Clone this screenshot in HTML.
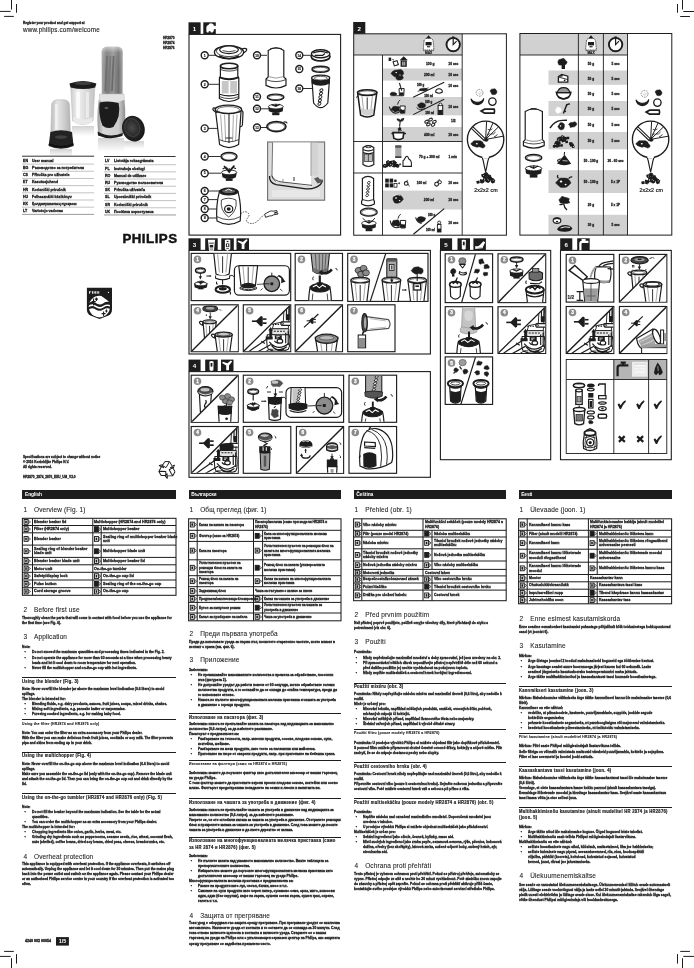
<!DOCTYPE html>
<html><head><meta charset="utf-8"><title>Philips HR2870 user manual</title>
<style>
html,body{margin:0;padding:0;background:#fff}
#p{filter:grayscale(1);position:relative;width:694px;height:968px;overflow:hidden;background:#fff;font-family:"Liberation Sans",sans-serif;color:#1d1d1b}
#p svg{position:absolute;left:0;top:0}
#p svg text{font-family:"Liberation Sans",sans-serif}
#p div{position:absolute;white-space:nowrap;transform-origin:0 0}
.b{font-size:3.7px;line-height:5.03px;font-weight:bold;white-space:normal!important;-webkit-text-stroke:.3px #1d1d1b}
.ll{font-size:4px!important}
.tc{font-size:4px;line-height:4.5px;font-weight:bold;-webkit-text-stroke:.3px #1d1d1b}
.h1{font-size:6.5px;line-height:8px;letter-spacing:.12px;color:#1d1d1b;-webkit-text-stroke:.08px #1d1d1b}
.h1 .n{display:inline-block;width:10.6px}
.h2{font-size:4.6px;line-height:6.4px;letter-spacing:.3px;font-weight:bold;white-space:normal!important;color:#1d1d1b;-webkit-text-stroke:.2px #1d1d1b}
.h3{font-size:3.8px;line-height:5px;letter-spacing:.25px;font-weight:bold;color:#1d1d1b;-webkit-text-stroke:.12px #1d1d1b}
.rl{height:0;border-top:.7px solid #1d1d1b}
.bar{height:8.5px;background:#1d1d1b}
.bar span{position:absolute;left:2.6px;top:1.6px;font-size:4.9px;line-height:5px;font-weight:bold;color:#fff;letter-spacing:-.1px}
.www{font-size:6.3px;line-height:8px;letter-spacing:.16px;-webkit-text-stroke:.12px #1d1d1b}
.ph{font-size:13.3px;line-height:15px;font-weight:bold;letter-spacing:.5px;color:#111;-webkit-text-stroke:.45px #111}
.pg{font-size:5.4px;line-height:8px;font-weight:bold;color:#fff;text-align:center}
.cm{font-size:5.3px;line-height:6px;text-align:center;letter-spacing:.1px;-webkit-text-stroke:.22px #1d1d1b}
</style></head>
<body><div id="p">
<svg width="694" height="968" viewBox="0 0 694 968">
<line x1="11.5" y1="0" x2="11.5" y2="9.5" stroke="#1d1d1b" stroke-width="1"/>
<line x1="16.5" y1="4" x2="16.5" y2="12.7" stroke="#1d1d1b" stroke-width="1"/>
<line x1="0" y1="11.4" x2="10.7" y2="11.4" stroke="#1d1d1b" stroke-width="1"/>
<line x1="4.1" y1="16.4" x2="13.8" y2="16.4" stroke="#1d1d1b" stroke-width="1"/>
<line x1="682.5" y1="0" x2="682.5" y2="9.5" stroke="#1d1d1b" stroke-width="1"/>
<line x1="677.5" y1="4" x2="677.5" y2="12.7" stroke="#1d1d1b" stroke-width="1"/>
<line x1="683.3" y1="11.5" x2="694" y2="11.5" stroke="#1d1d1b" stroke-width="1"/>
<line x1="680.2" y1="16.5" x2="689.9" y2="16.5" stroke="#1d1d1b" stroke-width="1"/>
<line x1="11.5" y1="958.2" x2="11.5" y2="968" stroke="#1d1d1b" stroke-width="1"/>
<line x1="16.5" y1="954.1" x2="16.5" y2="963.6" stroke="#1d1d1b" stroke-width="1"/>
<line x1="0" y1="956.4" x2="10.7" y2="956.4" stroke="#1d1d1b" stroke-width="1"/>
<line x1="4.1" y1="951.4" x2="13.8" y2="951.4" stroke="#1d1d1b" stroke-width="1"/>
<line x1="682.5" y1="958.2" x2="682.5" y2="968" stroke="#1d1d1b" stroke-width="1"/>
<line x1="677.5" y1="954.1" x2="677.5" y2="963.6" stroke="#1d1d1b" stroke-width="1"/>
<line x1="683.3" y1="956.4" x2="694" y2="956.4" stroke="#1d1d1b" stroke-width="1"/>
<line x1="680.2" y1="951.4" x2="689.9" y2="951.4" stroke="#1d1d1b" stroke-width="1"/>
<rect x="188.5" y="22.3" width="12.1" height="11.9" fill="#1d1d1b"/>
<text x="194.5" y="30.8" font-size="6.2" fill="#fff" font-weight="bold" text-anchor="middle">1</text>
<rect x="203.3" y="22.3" width="12.5" height="11.9" fill="#1d1d1b"/>
<rect x="353.2" y="22" width="12.1" height="11.9" fill="#1d1d1b"/>
<text x="359.2" y="30.5" font-size="6.2" fill="#fff" font-weight="bold" text-anchor="middle">2</text>
<rect x="188.5" y="238.3" width="12.1" height="11.9" fill="#1d1d1b"/>
<text x="194.5" y="246.8" font-size="6.2" fill="#fff" font-weight="bold" text-anchor="middle">3</text>
<rect x="205.2" y="238.3" width="12.5" height="11.9" fill="#1d1d1b"/>
<rect x="221.3" y="238.3" width="12.5" height="11.9" fill="#1d1d1b"/>
<rect x="236.5" y="238.3" width="12.5" height="11.9" fill="#1d1d1b"/>
<rect x="188.5" y="359.6" width="12.1" height="11.9" fill="#1d1d1b"/>
<text x="194.5" y="368.1" font-size="6.2" fill="#fff" font-weight="bold" text-anchor="middle">4</text>
<rect x="205.2" y="359.6" width="12.5" height="11.9" fill="#1d1d1b"/>
<rect x="221" y="359.6" width="12.5" height="11.9" fill="#1d1d1b"/>
<rect x="440" y="238.3" width="12.1" height="11.9" fill="#1d1d1b"/>
<text x="446" y="246.8" font-size="6.2" fill="#fff" font-weight="bold" text-anchor="middle">5</text>
<rect x="457.5" y="238.3" width="12.5" height="11.9" fill="#1d1d1b"/>
<rect x="473.4" y="238.3" width="12.5" height="11.9" fill="#1d1d1b"/>
<rect x="560.2" y="238.3" width="12.1" height="11.9" fill="#1d1d1b"/>
<text x="566.2" y="246.8" font-size="6.2" fill="#fff" font-weight="bold" text-anchor="middle">6</text>
<rect x="577.2" y="238.3" width="12.5" height="11.9" fill="#1d1d1b"/>
<rect x="189" y="34.4" width="151.6" height="200.7" fill="#fff" stroke="#1d1d1b" stroke-width="1.1"/>
<rect x="189" y="250.4" width="241.4" height="103.6" fill="#fff" stroke="#1d1d1b" stroke-width="1.1"/>
<rect x="189" y="371.6" width="241.4" height="105.7" fill="#fff" stroke="#1d1d1b" stroke-width="1.1"/>
<rect x="440.4" y="250.4" width="110.3" height="209.3" fill="#fff" stroke="#1d1d1b" stroke-width="1.1"/>
<rect x="560.5" y="250.4" width="110.8" height="209.3" fill="#fff" stroke="#1d1d1b" stroke-width="1.1"/>
<rect x="191.2" y="253.4" width="99.5" height="47.2" fill="#fff" stroke="#1d1d1b" stroke-width="1.15"/>
<rect x="295.2" y="253.4" width="47.3" height="47.2" fill="#fff" stroke="#1d1d1b" stroke-width="1.15"/>
<rect x="347.7" y="253.4" width="80.3" height="48" fill="#fff" stroke="#1d1d1b" stroke-width="1.15"/>
<rect x="191.2" y="304.8" width="47" height="46.9" fill="#fff" stroke="#1d1d1b" stroke-width="1.15"/>
<rect x="243.3" y="304.8" width="47.4" height="46.9" fill="#fff" stroke="#1d1d1b" stroke-width="1.15"/>
<rect x="295.2" y="304.8" width="47.3" height="46.9" fill="#fff" stroke="#1d1d1b" stroke-width="1.15"/>
<rect x="347.7" y="304.8" width="47.3" height="46.9" fill="#fff" stroke="#1d1d1b" stroke-width="1.15"/>
<rect x="191.2" y="375.2" width="47" height="47.1" fill="#fff" stroke="#1d1d1b" stroke-width="1.15"/>
<rect x="243.3" y="375.2" width="100.3" height="47.1" fill="#fff" stroke="#1d1d1b" stroke-width="1.15"/>
<rect x="349" y="375.2" width="47.6" height="47.1" fill="#fff" stroke="#1d1d1b" stroke-width="1.15"/>
<rect x="191.2" y="426.5" width="47" height="46.8" fill="#fff" stroke="#1d1d1b" stroke-width="1.15"/>
<rect x="243.3" y="426.5" width="47.5" height="46.8" fill="#fff" stroke="#1d1d1b" stroke-width="1.15"/>
<rect x="296.4" y="426.5" width="47.2" height="46.8" fill="#fff" stroke="#1d1d1b" stroke-width="1.15"/>
<rect x="349" y="426.5" width="47.6" height="46.8" fill="#fff" stroke="#1d1d1b" stroke-width="1.15"/>
<rect x="445.2" y="253.8" width="47.4" height="48.8" fill="#fff" stroke="#1d1d1b" stroke-width="1.15"/>
<rect x="498" y="253.8" width="47.7" height="48.8" fill="#fff" stroke="#1d1d1b" stroke-width="1.15"/>
<rect x="445.2" y="306.7" width="47.4" height="46.7" fill="#fff" stroke="#1d1d1b" stroke-width="1.15"/>
<rect x="498" y="306.7" width="47.7" height="46.7" fill="#fff" stroke="#1d1d1b" stroke-width="1.15"/>
<rect x="445.2" y="356.9" width="47.4" height="47.5" fill="#fff" stroke="#1d1d1b" stroke-width="1.15"/>
<rect x="566.2" y="254.4" width="47.6" height="47.7" fill="#fff" stroke="#1d1d1b" stroke-width="1.15"/>
<rect x="619.4" y="254.4" width="47.4" height="47.7" fill="#fff" stroke="#1d1d1b" stroke-width="1.15"/>
<rect x="566.2" y="306.5" width="47.6" height="47" fill="#fff" stroke="#1d1d1b" stroke-width="1.15"/>
<rect x="619.4" y="306.5" width="47.4" height="47" fill="#fff" stroke="#1d1d1b" stroke-width="1.15"/>
<rect x="613.8" y="359.5" width="53" height="20" fill="#b4b5b7"/>
<rect x="632" y="361.7" width="15.6" height="15" fill="#ececec"/>
<rect x="566.2" y="359.5" width="100.6" height="94" fill="none" stroke="#1d1d1b" stroke-width="0.9"/>
<line x1="613.8" y1="359.5" x2="613.8" y2="453.5" stroke="#1d1d1b" stroke-width="0.9"/>
<line x1="648.6" y1="359.5" x2="648.6" y2="453.5" stroke="#1d1d1b" stroke-width="0.9"/>
<line x1="566.2" y1="379.5" x2="666.8" y2="379.5" stroke="#1d1d1b" stroke-width="0.9"/>
<rect x="353.7" y="33.8" width="108.5" height="21.2" fill="#d0d1d3"/>
<rect x="382.5" y="68.5" width="79.7" height="12.1" fill="#d0d1d3"/>
<rect x="382.5" y="97" width="79.7" height="18.4" fill="#d0d1d3"/>
<rect x="382.5" y="127" width="79.7" height="14.5" fill="#d0d1d3"/>
<rect x="382.5" y="190.6" width="79.7" height="18.9" fill="#d0d1d3"/>
<rect x="353.7" y="33.8" width="152.7" height="201.4" fill="none" stroke="#1d1d1b" stroke-width="1"/>
<line x1="353.7" y1="55" x2="462.2" y2="55" stroke="#1d1d1b" stroke-width="0.9"/>
<line x1="353.7" y1="141.5" x2="462.2" y2="141.5" stroke="#1d1d1b" stroke-width="0.9"/>
<line x1="353.7" y1="173" x2="462.2" y2="173" stroke="#1d1d1b" stroke-width="0.9"/>
<line x1="382.5" y1="55" x2="382.5" y2="235.2" stroke="#1d1d1b" stroke-width="0.9"/>
<line x1="462.2" y1="33.8" x2="462.2" y2="235.2" stroke="#1d1d1b" stroke-width="0.9"/>
<rect x="520" y="33.5" width="107.5" height="21.5" fill="#d0d1d3"/>
<rect x="548.5" y="70.5" width="79" height="14.3" fill="#d0d1d3"/>
<rect x="548.5" y="101" width="79" height="15" fill="#d0d1d3"/>
<rect x="548.5" y="132" width="79" height="17.3" fill="#d0d1d3"/>
<rect x="548.5" y="170.2" width="79" height="22.8" fill="#d0d1d3"/>
<rect x="548.5" y="214.8" width="79" height="20.3" fill="#d0d1d3"/>
<rect x="519.9" y="33.5" width="151.9" height="201.6" fill="none" stroke="#1d1d1b" stroke-width="1"/>
<line x1="519.9" y1="55" x2="627.5" y2="55" stroke="#1d1d1b" stroke-width="0.9"/>
<line x1="578.4" y1="33.5" x2="578.4" y2="235.1" stroke="#1d1d1b" stroke-width="0.9"/>
<line x1="603.4" y1="33.5" x2="603.4" y2="235.1" stroke="#1d1d1b" stroke-width="0.9"/>
<line x1="627.5" y1="33.5" x2="627.5" y2="235.1" stroke="#1d1d1b" stroke-width="0.9"/>
<defs>
<filter id="bl" x="-10%" y="-10%" width="120%" height="120%"><feGaussianBlur stdDeviation="0.45"/></filter>
<filter id="bl2" x="-10%" y="-10%" width="120%" height="120%"><feGaussianBlur stdDeviation="0.9"/></filter>
<linearGradient id="gt" x1="0" x2="1" y1="0" y2="0"><stop offset="0" stop-color="#a9a9a9"/><stop offset=".25" stop-color="#7b7b7b"/><stop offset=".55" stop-color="#959595"/><stop offset=".8" stop-color="#707070"/><stop offset="1" stop-color="#a5a5a5"/></linearGradient>
<linearGradient id="gtv" x1="0" x2="0" y1="0" y2="1"><stop offset="0" stop-color="#fff" stop-opacity=".55"/><stop offset=".25" stop-color="#fff" stop-opacity=".1"/><stop offset="1" stop-color="#fff" stop-opacity="0"/></linearGradient>
<linearGradient id="gs" x1="0" x2="1" y1="0" y2="0"><stop offset="0" stop-color="#9a9a9a"/><stop offset=".2" stop-color="#d8d8d8"/><stop offset=".75" stop-color="#cfcfcf"/><stop offset="1" stop-color="#8e8e8e"/></linearGradient>
<linearGradient id="gb" x1="0" x2="1" y1="0" y2="0"><stop offset="0" stop-color="#cfcfcf"/><stop offset=".3" stop-color="#f1f1f1"/><stop offset=".6" stop-color="#dcdcdc"/><stop offset="1" stop-color="#c4c4c4"/></linearGradient>
<linearGradient id="gm" x1="0" x2="1" y1="0" y2="0"><stop offset="0" stop-color="#bdbdbd"/><stop offset=".35" stop-color="#e4e4e4"/><stop offset=".7" stop-color="#cdcdcd"/><stop offset="1" stop-color="#b2b2b2"/></linearGradient>
<linearGradient id="gr" x1="0" x2="0" y1="0" y2="1"><stop offset="0" stop-color="#d2d2d2"/><stop offset="1" stop-color="#fff"/></linearGradient>
<radialGradient id="gl" cx=".45" cy=".45" r=".6"><stop offset="0" stop-color="#4a4a4a"/><stop offset=".6" stop-color="#262626"/><stop offset="1" stop-color="#141414"/></radialGradient>
</defs>
<g filter="url(#bl)">
<rect x="50" y="149" width="22" height="8" fill="url(#gr)"/>
<rect x="98" y="138" width="26" height="14" fill="url(#gr)"/>
<rect x="72" y="126" width="22" height="10" fill="url(#gr)"/>
<rect x="124" y="141" width="20" height="8" fill="url(#gr)"/>
<path d="M70.8 87 L72.6 121 Q83 128 93 121 L94.8 87 Z" fill="url(#gb)" stroke="#bdbdbd" stroke-width="0.66"/>
<rect x="76" y="92" width="4" height="26" fill="#fff" opacity=".7"/>
<rect x="86" y="92" width="3" height="26" fill="#fff" opacity=".5"/>
<path d="M72.8 117 q10 5 20 0 l-0.4 5 q-9.6 5 -19.2 0 Z" fill="#e9e9e9"/>
<path d="M69.4 83.6 Q83 78.6 96.4 83.6 L95.2 87.6 Q83 90.6 70.6 87.6 Z" fill="#1e1e1e"/>
<ellipse cx="83" cy="83.2" rx="8.6" ry="1.8" fill="#3c3c3c"/>
<path d="M101.6 52 Q101.6 47 107 46.8 L117.4 46.8 Q122.8 47 122.8 52 L122.6 94 L101.8 94 Z" fill="url(#gt)"/>
<path d="M101.6 52 Q101.6 47 107 46.8 L117.4 46.8 Q122.8 47 122.8 52 L122.6 70 L101.8 70 Z" fill="url(#gtv)"/>
<line x1="107" y1="56" x2="105.4" y2="91" stroke="#6e6e6e" stroke-width="1.72"/>
<line x1="110.4" y1="56" x2="108.6" y2="91" stroke="#787878" stroke-width="1.72"/>
<line x1="113.6" y1="56" x2="112" y2="91" stroke="#6a6a6a" stroke-width="1.72"/>
<line x1="116.8" y1="56" x2="115.6" y2="91" stroke="#808080" stroke-width="1.72"/>
<path d="M99.6 94 L124 94 L124.4 101 Q112 105 99.2 101 Z" fill="#e3e3e3" stroke="#bbb" stroke-width="0.53"/>
<path d="M98.6 100 Q96.4 118 98.2 133 Q110 139 123.4 133.6 Q126.6 118 124.4 100 Q112 104.6 98.6 100 Z" fill="url(#gs)"/>
<path d="M99.6 102.6 Q108 100 118.6 103 Q121.4 116 113.4 127 Q107 129.4 102.4 125.4 Q98 114 99.6 102.6 Z" fill="#1b1b1b"/>
<ellipse cx="106.4" cy="108" rx="2" ry="0.8" fill="#777"/>
<path d="M97.6 131.6 Q110 138.6 123 133 L122.4 136 Q110 140.6 98 135.4 Z" fill="#1a1a1a"/>
<ellipse cx="133.4" cy="128.6" rx="11.2" ry="13" fill="url(#gl)" transform="rotate(-18 133.4 128.6)"/>
<ellipse cx="132.2" cy="127.6" rx="7.4" ry="9" fill="none" stroke="#3e3e3e" stroke-width="1.19" transform="rotate(-18 132.2 127.6)"/>
<path d="M51.6 106 Q51.6 100 57 99.8 L64 99.8 Q69.6 100 69.6 106 L70.4 133 L50.8 133 Z" fill="url(#gm)" stroke="#b5b5b5" stroke-width="0.53"/>
<rect x="55" y="104" width="2.6" height="26" fill="#fff" opacity=".6"/>
<path d="M50.4 132 Q61 128.6 72 132 L73.6 146 Q61 151.6 48.6 146 Z" fill="#222"/>
<ellipse cx="61" cy="137" rx="6" ry="1.8" fill="#3f3f3f"/>
<path d="M48.8 144 q12.4 5.4 24.6 0" fill="none" stroke="#101010" stroke-width="1.58"/>
</g>
<path d="M86.9 287.8 L112 287.8 L112 309.4 Q112 313.4 108.6 315.6 L99.5 319 L90.4 315.6 Q86.9 313.4 86.9 309.4 Z" fill="#1d1d1b"/>
<clipPath id="sh"><path d="M88 295 L111 295 L111 309.4 Q111 312.8 108 314.8 L99.5 317.9 L91 314.8 Q88 312.8 88 309.4 Z"/></clipPath>
<g clip-path="url(#sh)">
<ellipse cx="99.4" cy="306.6" rx="10.6" ry="10.9" fill="#fff"/>
<path d="M88 303.6 q3.6 -3.4 7.6 -0.6 q4 2.8 7.8 0.2 q3.6 -2.6 7.6 -0.4 l0 2.6 q-4 -2.2 -7.6 0.4 q-3.8 2.6 -7.8 -0.2 q-4 -2.8 -7.6 0.6 Z" fill="#1d1d1b"/>
<path d="M88 307.8 q3.6 -3.4 7.6 -0.6 q4 2.8 7.8 0.2 q3.6 -2.6 7.6 -0.4 l0 2.2 q-4 -2.2 -7.6 0.4 q-3.8 2.6 -7.8 -0.2 q-4 -2.8 -7.6 0.6 Z" fill="#1d1d1b"/>
<path d="M100 295 L111 295 L111 303 Z" fill="#1d1d1b"/>
<path d="M93.6 298.6 l0 7 M91.6 301.6 l4.2 0 M96.4 297.4 l0 3.6 M95 299.2 l3 0" fill="none" stroke="#1d1d1b" stroke-width="1.19"/>
<path d="M103.6 311.4 l0 4.6 M101.6 313.6 l4 0 M106.4 309.6 l0 3 M105.2 311 l2.4 0" fill="none" stroke="#1d1d1b" stroke-width="1.06"/>
</g>
<rect x="89" y="291.2" width="0.9" height="2.5" fill="#fff"/>
<rect x="92.1" y="291.2" width="0.9" height="2.5" fill="#fff"/>
<rect x="93.65" y="291.2" width="0.9" height="2.5" fill="#fff"/>
<rect x="95.2" y="291.2" width="0.9" height="2.5" fill="#fff"/>
<rect x="96.75" y="291.2" width="0.9" height="2.5" fill="#fff"/>
<rect x="98.3" y="291.2" width="0.9" height="2.5" fill="#fff"/>
<rect x="90.4" y="291.2" width="0.8" height="1.2" fill="#fff"/>
<ellipse cx="108.4" cy="292.4" rx="0.6" ry="0.6" fill="#fff"/>
<g transform="translate(167 469.6)">
<path d="M-2.2 -8 L2.4 -8 L5.4 -3.2 L3.4 -2 L6.4 -1.6 L7.4 -4.6 L5.6 -3.6 M-2.2 -8 L-4.6 -4 L-1 -2 L1.2 -5.6 L2.4 -8" fill="none" stroke="#1d1d1b" stroke-width="0.99" transform="rotate(0)" stroke-linejoin="round"/>
<path d="M-2.2 -8 L2.4 -8 L5.4 -3.2 L3.4 -2 L6.4 -1.6 L7.4 -4.6 L5.6 -3.6 M-2.2 -8 L-4.6 -4 L-1 -2 L1.2 -5.6 L2.4 -8" fill="none" stroke="#1d1d1b" stroke-width="0.99" transform="rotate(120)" stroke-linejoin="round"/>
<path d="M-2.2 -8 L2.4 -8 L5.4 -3.2 L3.4 -2 L6.4 -1.6 L7.4 -4.6 L5.6 -3.6 M-2.2 -8 L-4.6 -4 L-1 -2 L1.2 -5.6 L2.4 -8" fill="none" stroke="#1d1d1b" stroke-width="0.99" transform="rotate(240)" stroke-linejoin="round"/>
</g>
<path d="M206.4 29.4 q-0.6 -3.6 2 -4.4 q0.6 -2 3.4 -1.6 q2.2 0.2 2 2.4 l3 0.2 l0 3 l-3 0.2 q0.6 2.6 -1.4 3.4 l-1.6 0 q0.2 -1.6 -1.2 -1.6 q-1.4 0 -1 1.6 l-1.6 0 q-1 -1.2 -0.6 -3.2 Z" fill="#fff"/>
<line x1="208" y1="55.3" x2="216" y2="55.3" stroke="#1d1d1b" stroke-width="0.92"/>
<ellipse cx="204.7" cy="55.3" rx="3.5" ry="3.5" fill="#fff" stroke="#1d1d1b" stroke-width="1.39"/>
<text x="204.7" y="56.5" font-size="3.5" fill="#1d1d1b" font-weight="bold" text-anchor="middle" stroke="#1d1d1b" stroke-width=".15">1</text>
<line x1="208" y1="84.3" x2="221" y2="84.3" stroke="#1d1d1b" stroke-width="0.92"/>
<ellipse cx="204.7" cy="84.3" rx="3.5" ry="3.5" fill="#fff" stroke="#1d1d1b" stroke-width="1.39"/>
<text x="204.7" y="85.5" font-size="3.5" fill="#1d1d1b" font-weight="bold" text-anchor="middle" stroke="#1d1d1b" stroke-width=".15">2</text>
<line x1="208" y1="128.4" x2="218" y2="128.4" stroke="#1d1d1b" stroke-width="0.92"/>
<ellipse cx="204.7" cy="128.4" rx="3.5" ry="3.5" fill="#fff" stroke="#1d1d1b" stroke-width="1.39"/>
<text x="204.7" y="129.6" font-size="3.5" fill="#1d1d1b" font-weight="bold" text-anchor="middle" stroke="#1d1d1b" stroke-width=".15">3</text>
<line x1="208" y1="156.5" x2="220.5" y2="156.5" stroke="#1d1d1b" stroke-width="0.92"/>
<ellipse cx="204.7" cy="156.5" rx="3.5" ry="3.5" fill="#fff" stroke="#1d1d1b" stroke-width="1.39"/>
<text x="204.7" y="157.7" font-size="3.5" fill="#1d1d1b" font-weight="bold" text-anchor="middle" stroke="#1d1d1b" stroke-width=".15">4</text>
<line x1="208" y1="173.2" x2="221" y2="173.2" stroke="#1d1d1b" stroke-width="0.92"/>
<ellipse cx="204.7" cy="173.2" rx="3.5" ry="3.5" fill="#fff" stroke="#1d1d1b" stroke-width="1.39"/>
<text x="204.7" y="174.4" font-size="3.5" fill="#1d1d1b" font-weight="bold" text-anchor="middle" stroke="#1d1d1b" stroke-width=".15">5</text>
<line x1="208" y1="191" x2="222" y2="191" stroke="#1d1d1b" stroke-width="0.92"/>
<ellipse cx="204.7" cy="191" rx="3.5" ry="3.5" fill="#fff" stroke="#1d1d1b" stroke-width="1.39"/>
<text x="204.7" y="192.2" font-size="3.5" fill="#1d1d1b" font-weight="bold" text-anchor="middle" stroke="#1d1d1b" stroke-width=".15">6</text>
<line x1="208" y1="199.6" x2="219" y2="199.6" stroke="#1d1d1b" stroke-width="0.92"/>
<ellipse cx="204.7" cy="199.6" rx="3.5" ry="3.5" fill="#fff" stroke="#1d1d1b" stroke-width="1.39"/>
<text x="204.7" y="200.8" font-size="3.5" fill="#1d1d1b" font-weight="bold" text-anchor="middle" stroke="#1d1d1b" stroke-width=".15">7</text>
<line x1="208" y1="209" x2="223" y2="209" stroke="#1d1d1b" stroke-width="0.92"/>
<ellipse cx="204.7" cy="209" rx="3.5" ry="3.5" fill="#fff" stroke="#1d1d1b" stroke-width="1.39"/>
<text x="204.7" y="210.2" font-size="3.5" fill="#1d1d1b" font-weight="bold" text-anchor="middle" stroke="#1d1d1b" stroke-width=".15">8</text>
<line x1="208" y1="218" x2="218" y2="218" stroke="#1d1d1b" stroke-width="0.92"/>
<ellipse cx="204.7" cy="218" rx="3.5" ry="3.5" fill="#fff" stroke="#1d1d1b" stroke-width="1.39"/>
<text x="204.7" y="219.2" font-size="3.5" fill="#1d1d1b" font-weight="bold" text-anchor="middle" stroke="#1d1d1b" stroke-width=".15">9</text>
<line x1="260" y1="55.3" x2="267" y2="55.3" stroke="#1d1d1b" stroke-width="0.92"/>
<ellipse cx="257" cy="55.3" rx="3.5" ry="3.5" fill="#fff" stroke="#1d1d1b" stroke-width="1.39"/>
<text x="257" y="56.5" font-size="3.1" fill="#1d1d1b" font-weight="bold" text-anchor="middle" stroke="#1d1d1b" stroke-width=".15">10</text>
<ellipse cx="257" cy="96.8" rx="3.5" ry="3.5" fill="#fff" stroke="#1d1d1b" stroke-width="1.39"/>
<text x="257" y="98" font-size="3.1" fill="#1d1d1b" font-weight="bold" text-anchor="middle" stroke="#1d1d1b" stroke-width=".15">11</text>
<line x1="260" y1="108.8" x2="270" y2="108.8" stroke="#1d1d1b" stroke-width="0.92"/>
<ellipse cx="257" cy="108.8" rx="3.5" ry="3.5" fill="#fff" stroke="#1d1d1b" stroke-width="1.39"/>
<text x="257" y="110" font-size="3.1" fill="#1d1d1b" font-weight="bold" text-anchor="middle" stroke="#1d1d1b" stroke-width=".15">12</text>
<line x1="260" y1="127.5" x2="269" y2="127.5" stroke="#1d1d1b" stroke-width="0.92"/>
<ellipse cx="257" cy="127.5" rx="3.5" ry="3.5" fill="#fff" stroke="#1d1d1b" stroke-width="1.39"/>
<text x="257" y="128.7" font-size="3.1" fill="#1d1d1b" font-weight="bold" text-anchor="middle" stroke="#1d1d1b" stroke-width=".15">13</text>
<line x1="302.5" y1="55.3" x2="311" y2="55.3" stroke="#1d1d1b" stroke-width="0.92"/>
<ellipse cx="299.3" cy="55.3" rx="3.5" ry="3.5" fill="#fff" stroke="#1d1d1b" stroke-width="1.39"/>
<text x="299.3" y="56.5" font-size="3.1" fill="#1d1d1b" font-weight="bold" text-anchor="middle" stroke="#1d1d1b" stroke-width=".15">14</text>
<ellipse cx="299.3" cy="69" rx="3.5" ry="3.5" fill="#fff" stroke="#1d1d1b" stroke-width="1.39"/>
<text x="299.3" y="70.2" font-size="3.1" fill="#1d1d1b" font-weight="bold" text-anchor="middle" stroke="#1d1d1b" stroke-width=".15">15</text>
<line x1="302.5" y1="88.5" x2="312" y2="88.5" stroke="#1d1d1b" stroke-width="0.92"/>
<ellipse cx="299.3" cy="88.5" rx="3.5" ry="3.5" fill="#fff" stroke="#1d1d1b" stroke-width="1.39"/>
<text x="299.3" y="89.7" font-size="3.1" fill="#1d1d1b" font-weight="bold" text-anchor="middle" stroke="#1d1d1b" stroke-width=".15">16</text>
<path d="M241 49.6 q4 -2.2 5.6 -0.6 q0.6 1.8 -2.4 3.6 Z" fill="#fff" stroke="#1d1d1b" stroke-width="1.19"/>
<ellipse cx="229" cy="52.2" rx="14.6" ry="6.6" fill="#fff" stroke="#1d1d1b" stroke-width="1.32"/>
<ellipse cx="229" cy="51.2" rx="12.6" ry="5.4" fill="none" stroke="#1d1d1b" stroke-width="0.79"/>
<ellipse cx="229" cy="49.8" rx="9.4" ry="3.8" fill="#fff" stroke="#1d1d1b" stroke-width="1.19"/>
<path d="M222.5 50.6 q6.5 2.4 13 0" fill="none" stroke="#1d1d1b" stroke-width="0.79"/>
<path d="M219 56 q10 5 20 0" fill="none" stroke="#1d1d1b" stroke-width="1.72"/>
<path d="M220.4 66 L220.4 76 L219.4 78 L219.4 98.5 Q229 104.5 238.8 98.5 L238.8 78 L237.8 76 L237.8 66 Z" fill="#fff" stroke="#1d1d1b" stroke-width="1.19"/>
<rect x="221.8" y="81" width="6.8" height="12.4" fill="#c6c7c9"/>
<rect x="230.2" y="81" width="6.8" height="12.4" fill="#c6c7c9"/>
<ellipse cx="229.1" cy="66" rx="8.7" ry="2.8" fill="#fff" stroke="#1d1d1b" stroke-width="1.58"/>
<path d="M220.4 69.5 q8.7 3.2 17.4 0" fill="none" stroke="#1d1d1b" stroke-width="0.79"/>
<path d="M219.6 77.4 q9.5 3.6 19 0" fill="none" stroke="#1d1d1b" stroke-width="1.98"/>
<path d="M219.6 94.2 q9.5 3.4 19 0" fill="none" stroke="#1d1d1b" stroke-width="1.19"/>
<path d="M219.4 96.6 q9.7 4 19.4 0" fill="none" stroke="#1d1d1b" stroke-width="0.79"/>
<path d="M240.6 110 q2.6 0.4 2.4 3 l-0.6 12 q-0.4 2 -2.6 1.6" fill="none" stroke="#1d1d1b" stroke-width="1.19"/>
<path d="M215.4 109.6 L219.6 144.5 Q229 150.6 238.6 144.5 L241.2 109.6 Z" fill="#fff" stroke="#1d1d1b" stroke-width="1.19"/>
<line x1="220.6" y1="114.6" x2="222.4" y2="141" stroke="#777" stroke-width="0.66"/>
<line x1="224.6" y1="114.6" x2="225.6" y2="141" stroke="#777" stroke-width="0.66"/>
<line x1="233.4" y1="114.6" x2="232.6" y2="141" stroke="#777" stroke-width="0.66"/>
<line x1="237" y1="114.6" x2="235.6" y2="141" stroke="#777" stroke-width="0.66"/>
<line x1="229" y1="113" x2="229" y2="143" stroke="#1d1d1b" stroke-width="1.06"/>
<line x1="225.5" y1="138" x2="232.5" y2="138" stroke="#1d1d1b" stroke-width="0.92"/>
<path d="M219.2 139.6 q9.8 4.6 19.6 0" fill="none" stroke="#1d1d1b" stroke-width="0.79"/>
<path d="M216.4 108.6 q-3.4 -1.6 -3.6 0.6 q0.4 2 4 3.2 Z" fill="#fff" stroke="#1d1d1b" stroke-width="1.19"/>
<ellipse cx="228.4" cy="109.4" rx="13.2" ry="4.3" fill="#fff" stroke="#1d1d1b" stroke-width="1.32"/>
<ellipse cx="228.4" cy="109.9" rx="11.2" ry="3.3" fill="none" stroke="#1d1d1b" stroke-width="0.66"/>
<ellipse cx="229" cy="156.6" rx="8" ry="4.2" fill="#fff" stroke="#1d1d1b" stroke-width="1.45"/>
<ellipse cx="229" cy="156.8" rx="6.7" ry="3.2" fill="none" stroke="#1d1d1b" stroke-width="0.59"/>
<path d="M221.6 172.4 q7.6 -3.8 15.2 0 l-0.9 4.8 q-6.7 3.8 -13.4 0 Z" fill="#1d1d1b"/>
<ellipse cx="229.2" cy="172.4" rx="7.6" ry="2.4" fill="#fff" stroke="#1d1d1b" stroke-width="0.92"/>
<path d="M224 166 L229.2 172 L234.4 165.4 M226.4 167.6 L229.2 172 L232.2 167.8" fill="none" stroke="#1d1d1b" stroke-width="1.58"/>
<path d="M222.6 169 l4 -2 M236 168.8 l-3.8 -1.8 M229.2 172 l0 -4" fill="none" stroke="#1d1d1b" stroke-width="1.06"/>
<rect x="225.8" y="178.8" width="6.8" height="2.1" fill="#1d1d1b"/>
<path d="M219.4 191.6 Q215.6 206 217 221 Q228.6 227.6 240.2 221 Q241.8 206 238 191.6 Z" fill="#fff" stroke="#1d1d1b" stroke-width="1.19"/>
<ellipse cx="228.7" cy="191.6" rx="9.3" ry="3.4" fill="#1d1d1b" stroke="#1d1d1b" stroke-width="1.19"/>
<ellipse cx="228.7" cy="191.2" rx="6.4" ry="1.9" fill="#666"/>
<path d="M225.4 190.6 l3.2 -1.4 l3.4 1.4" fill="none" stroke="#fff" stroke-width="0.92"/>
<path d="M221.4 200 Q228.6 196.4 236 200 Q237.6 211 228.7 217 Q219.8 211 221.4 200 Z" fill="#fff" stroke="#1d1d1b" stroke-width="0.79"/>
<ellipse cx="228.7" cy="209" rx="4.1" ry="3.6" fill="#fff" stroke="#1d1d1b" stroke-width="1.19"/>
<ellipse cx="228.7" cy="209" rx="2" ry="1.8" fill="#1d1d1b"/>
<path d="M216.8 216.6 q11.8 6.2 23.6 0" fill="none" stroke="#1d1d1b" stroke-width="0.79"/>
<path d="M240.4 214 q4 -3.6 7 -1.6 q3 2.4 0.4 5.4 q-3.4 3.6 1.6 5.4 q4.6 1.2 8.4 -2.4 l6 -6" fill="none" stroke="#1d1d1b" stroke-width="0.73" stroke-dasharray="1.6 1.1"/>
<path d="M264.6 214.2 l4.6 -2.6 q2.4 -1.2 4 -0.4 l3.6 -0.6 l0.4 1.4 l-3 1 l3.4 -0.2 l0.2 1.3 l-4.4 0.8 q-1.4 1.2 -3.6 1 l-4.2 1.4 Z" fill="#fff" stroke="#1d1d1b" stroke-width="0.92"/>
<path d="M268.2 50.4 L268.2 77 L266 79 L266 85.4 Q276 90.6 286 85.4 L286 79 L283.8 77 L283.8 50.4 Q276 45.4 268.2 50.4 Z" fill="#fff" stroke="#1d1d1b" stroke-width="1.19"/>
<path d="M268.2 76.6 q7.8 3 15.6 0" fill="none" stroke="#666" stroke-width="0.66"/>
<path d="M266 79.6 q10 4 20 0" fill="none" stroke="#1d1d1b" stroke-width="0.79"/>
<path d="M270 48.6 q6 -1.6 12 0" fill="none" stroke="#1d1d1b" stroke-width="0.66"/>
<ellipse cx="275.6" cy="97.2" rx="8.3" ry="3.1" fill="#fff" stroke="#1d1d1b" stroke-width="1.45"/>
<ellipse cx="275.6" cy="97.4" rx="7" ry="2.1" fill="none" stroke="#1d1d1b" stroke-width="0.59"/>
<path d="M268.4 106.6 q7.4 -3.4 14.8 0 l-0.4 4.6 q-7 3.6 -14 0 Z" fill="#1d1d1b"/>
<ellipse cx="275.8" cy="106.6" rx="7.4" ry="2.3" fill="#fff" stroke="#1d1d1b" stroke-width="0.79"/>
<path d="M271.6 104.6 l4.2 1.8 l4.4 -2.2 M275.8 106.4 l0.4 -2.6" fill="none" stroke="#1d1d1b" stroke-width="1.19"/>
<rect x="272.2" y="112.6" width="7.2" height="2.6" fill="#1d1d1b"/>
<path d="M283.6 122 q3.2 -0.6 3.6 1.4" fill="none" stroke="#1d1d1b" stroke-width="1.06"/>
<ellipse cx="276.4" cy="126.6" rx="9.6" ry="5" fill="#fff" stroke="#1d1d1b" stroke-width="1.58"/>
<ellipse cx="276.4" cy="126.8" rx="8.3" ry="4" fill="none" stroke="#1d1d1b" stroke-width="0.59"/>
<ellipse cx="320.6" cy="56.6" rx="9.4" ry="4.4" fill="#fff" stroke="#1d1d1b" stroke-width="1.72"/>
<ellipse cx="320.6" cy="53.8" rx="9.2" ry="4" fill="#fff" stroke="#1d1d1b" stroke-width="1.45"/>
<path d="M313 53 q7.4 -3.4 15 0 M314.6 55.4 l8 0 l2.4 -2" fill="none" stroke="#1d1d1b" stroke-width="1.32"/>
<path d="M312 58.6 q8.6 4.4 17.6 0" fill="none" stroke="#1d1d1b" stroke-width="1.06"/>
<ellipse cx="320.6" cy="69.2" rx="8.6" ry="3" fill="#fff" stroke="#1d1d1b" stroke-width="1.45"/>
<ellipse cx="320.6" cy="69.4" rx="7.3" ry="2" fill="none" stroke="#1d1d1b" stroke-width="0.59"/>
<path d="M312 80.4 L313.6 103 Q320.6 112.4 327.8 103 L329.4 80.4 Z" fill="#fff" stroke="#1d1d1b" stroke-width="1.19"/>
<path d="M311.6 78 L311.6 83.6 Q320.6 88 329.8 83.6 L329.8 78 Z" fill="#1d1d1b"/>
<ellipse cx="320.7" cy="78" rx="9.1" ry="2.9" fill="#fff" stroke="#1d1d1b" stroke-width="1.32"/>
<ellipse cx="320.7" cy="78.2" rx="6.6" ry="1.8" fill="none" stroke="#1d1d1b" stroke-width="0.66"/>
<ellipse cx="321.4" cy="90.2" rx="1.7" ry="1.25" fill="#fff" stroke="#1d1d1b" stroke-width="0.92" transform="rotate(-35 321.4 90.2)"/>
<ellipse cx="320.9" cy="93.6" rx="1.7" ry="1.25" fill="#fff" stroke="#1d1d1b" stroke-width="0.92" transform="rotate(-35 320.9 93.6)"/>
<ellipse cx="320.4" cy="97" rx="1.7" ry="1.25" fill="#fff" stroke="#1d1d1b" stroke-width="0.92" transform="rotate(-35 320.4 97)"/>
<ellipse cx="319.9" cy="100.4" rx="1.7" ry="1.25" fill="#fff" stroke="#1d1d1b" stroke-width="0.92" transform="rotate(-35 319.9 100.4)"/>
<ellipse cx="319.4" cy="103.8" rx="1.7" ry="1.25" fill="#fff" stroke="#1d1d1b" stroke-width="0.92" transform="rotate(-35 319.4 103.8)"/>
<rect x="267.6" y="142" width="57" height="58.2" fill="#dcdddf" stroke="#777" stroke-width="1.19"/>
<path d="M272.6 142.4 L272 175 Q272 180 276 181.6 L311 186.4 L311 142.4 Z" fill="#fff"/>
<rect x="311.4" y="142.6" width="6.4" height="33" fill="#d2d3d5"/>
<path d="M272.6 142.4 L272 175 Q272 180 276 181.6" fill="none" stroke="#555" stroke-width="0.79"/>
<line x1="311" y1="142.6" x2="311" y2="176" stroke="#888" stroke-width="0.79"/>
<path d="M269.6 176 Q269 182.6 276 184.6 L306 188.8 Q315 189.6 320.4 184.6 L322.6 180.6" fill="none" stroke="#1d1d1b" stroke-width="1.32"/>
<path d="M271.6 175.6 Q274 181 282 182 L312 185.4" fill="none" stroke="#1d1d1b" stroke-width="0.79"/>
<path d="M314 178.6 l4 -1.6 l1.8 2.2 l3.4 0.6 l-0.6 2.2 l-5 1.4 Z" fill="#5a5a5a"/>
<line x1="294" y1="177" x2="294" y2="181" stroke="#1d1d1b" stroke-width="0.92"/>
<line x1="283" y1="179" x2="283" y2="182" stroke="#777" stroke-width="0.79"/>
<rect x="272" y="190" width="48" height="7" fill="#e6e7e8"/>
<path d="M424 41.2 q0.4 -3 4.6 -3.2 q4.2 0.2 4.6 3.2 l0.8 8.8 l-10.8 0 Z" fill="#fff" stroke="#1d1d1b" stroke-width="0.79" stroke-dasharray="1.2 .7"/>
<polygon points="426,38.6 428.6,35.2 431.2,38.6" fill="#1d1d1b"/>
<rect x="425.6" y="42" width="6" height="3.4" fill="#1d1d1b"/>
<rect x="427" y="46.2" width="3.2" height="1.1" fill="#1d1d1b"/>
<text x="428.6" y="54" font-size="3.2" fill="#1d1d1b" font-weight="bold" text-anchor="middle" stroke="#1d1d1b" stroke-width=".2">MAX</text>
<line x1="423.4" y1="50.6" x2="433.8" y2="50.6" stroke="#1d1d1b" stroke-width="0.66" stroke-dasharray=".8 .6"/>
<ellipse cx="453.2" cy="44.6" rx="6.7" ry="6.7" fill="#fff" stroke="#1d1d1b" stroke-width="1.91"/>
<path d="M453.2 37.9 L453.2 44.6 L456.6 41.2" fill="none" stroke="#1d1d1b" stroke-width="1.19"/>
<rect x="452" y="36.4" width="2.4" height="1.2" fill="#1d1d1b"/>
<path d="M357.6 92.6 L360.6 115.1 Q367.2 118.8 373.8 115.1 L376.8 92.6 Z" fill="#fff" stroke="#1d1d1b" stroke-width="1.52"/>
<line x1="361.92" y1="95.48" x2="363.93" y2="113.6" stroke="#777" stroke-width="0.66"/>
<line x1="372.48" y1="95.48" x2="370.47" y2="113.6" stroke="#777" stroke-width="0.66"/>
<line x1="367.2" y1="97.48" x2="367.2" y2="114.1" stroke="#1d1d1b" stroke-width="0.92"/>
<path d="M360.3 110.6 Q367.2 113.8 374.1 110.6" fill="none" stroke="#1d1d1b" stroke-width="0.79"/>
<ellipse cx="367.2" cy="92.6" rx="9.6" ry="2.88" fill="#fff" stroke="#1d1d1b" stroke-width="1.52"/>
<ellipse cx="367.2" cy="92.9" rx="8" ry="1.98" fill="none" stroke="#1d1d1b" stroke-width="0.59"/>
<path d="M360.6 108 l0.8 6 q5.8 3.6 11.6 0 l0.8 -6 q-6.6 3 -13.2 0 Z" fill="#d0d1d3"/>
<path d="M358.2 96 q-1.8 0.2 -1.6 1.8" fill="none" stroke="#1d1d1b" stroke-width="0.92"/>
<path d="M363 147.6 L363 164.6 Q368.4 168.4 373.8 164.6 L373.8 147.6 Q368.4 143.6 363 147.6 Z" fill="#fff" stroke="#1d1d1b" stroke-width="1.19"/>
<rect x="364.2" y="154" width="8.4" height="7.6" fill="#b9babc" stroke="#1d1d1b" stroke-width="0.66"/>
<line x1="368.4" y1="154" x2="368.4" y2="161.6" stroke="#1d1d1b" stroke-width="0.66"/>
<path d="M363 149.6 q5.4 2.6 10.8 0 M363 152.6 q5.4 2.4 10.8 0" fill="none" stroke="#1d1d1b" stroke-width="1.06"/>
<ellipse cx="368.4" cy="146.6" rx="3.2" ry="1.1" fill="none" stroke="#1d1d1b" stroke-width="0.79"/>
<path d="M362.4 178.4 L362.4 199.6 L361.6 201.4 L361.6 204 Q368 207.6 374.4 204 L374.4 201.4 L373.6 199.6 L373.6 178.4 Q368 174.2 362.4 178.4 Z" fill="#fff" stroke="#1d1d1b" stroke-width="1.19"/>
<path d="M362.4 199.6 q5.6 2.6 11.2 0" fill="none" stroke="#1d1d1b" stroke-width="0.92"/>
<ellipse cx="368.8" cy="182.6" rx="1.5" ry="1.1" fill="#fff" stroke="#1d1d1b" stroke-width="0.79" transform="rotate(-35 368.8 182.6)"/>
<ellipse cx="368.4" cy="185.8" rx="1.5" ry="1.1" fill="#fff" stroke="#1d1d1b" stroke-width="0.79" transform="rotate(-35 368.4 185.8)"/>
<ellipse cx="368" cy="189" rx="1.5" ry="1.1" fill="#fff" stroke="#1d1d1b" stroke-width="0.79" transform="rotate(-35 368 189)"/>
<ellipse cx="367.6" cy="192.2" rx="1.5" ry="1.1" fill="#fff" stroke="#1d1d1b" stroke-width="0.79" transform="rotate(-35 367.6 192.2)"/>
<ellipse cx="367.2" cy="195.4" rx="1.5" ry="1.1" fill="#fff" stroke="#1d1d1b" stroke-width="0.79" transform="rotate(-35 367.2 195.4)"/>
<ellipse cx="368.8" cy="212.2" rx="8.4" ry="4" fill="#fff" stroke="#1d1d1b" stroke-width="1.32"/>
<ellipse cx="368.8" cy="212.4" rx="7.1" ry="3" fill="none" stroke="#1d1d1b" stroke-width="0.59"/>
<path d="M361.6 223.2 q7.4 -3.4 14.6 0 l-0.6 4.4 q-6.8 3.4 -13.4 0 Z" fill="#1d1d1b"/>
<ellipse cx="368.9" cy="223.2" rx="7.3" ry="2.3" fill="#fff" stroke="#1d1d1b" stroke-width="0.79"/>
<path d="M364.8 221 l4.2 2 l4.2 -2.4 M369 223 l0 -3" fill="none" stroke="#1d1d1b" stroke-width="1.19"/>
<rect x="365.6" y="228.8" width="6.8" height="2.4" fill="#1d1d1b"/>
<path d="M362.6 218.2 l2.4 2 M375 218 l-2.2 2.2" fill="none" stroke="#1d1d1b" stroke-width="0.92"/>
<rect x="388.6" y="57.6" width="2.6" height="3.4" fill="#1d1d1b"/>
<rect x="393.6" y="61.2" width="4.2" height="4.2" fill="#fff" stroke="#1d1d1b" stroke-width="1.06" transform="rotate(-18 395.7 63.3)"/>
<path d="M392.4 59.4 l1.6 0.8" fill="none" stroke="#1d1d1b" stroke-width="0.92"/>
<rect x="400.6" y="60.4" width="6.2" height="6.4" fill="#1d1d1b"/>
<polygon points="399.6,60.2 403.7,56.2 407.8,60.2" fill="#1d1d1b"/>
<rect x="402.4" y="61.6" width="1" height="4" fill="#fff"/>
<rect x="404.4" y="61.6" width="0.8" height="4" fill="#fff"/>
<text x="430.2" y="64.55" font-size="3.3" fill="#1d1d1b" font-weight="bold" text-anchor="middle" stroke="#1d1d1b" stroke-width=".26">100 g</text>
<text x="453.4" y="64.55" font-size="3.3" fill="#1d1d1b" font-weight="bold" text-anchor="middle" stroke="#1d1d1b" stroke-width=".26">10 sec</text>
<polygon points="403.65,73.4 402.64,75.31 400.13,76.28 397.6,77.36 394.63,76.78 392.61,75.29 390.99,73.4 392.47,71.45 394.76,70.17 397.6,69.89 401,69.53 403.11,71.31" fill="#1d1d1b" stroke="#1d1d1b" stroke-width="0.53" stroke-linejoin="round"/>
<polygon points="403.4,77.6 402.38,79.15 400.38,79.96 397.79,80.09 395.87,78.62 396.3,76.69 397.87,75.22 400.35,75.36 402.35,76.07" fill="#1d1d1b" stroke="#1d1d1b" stroke-width="0.53" stroke-linejoin="round"/>
<ellipse cx="396.2" cy="72.6" rx="0.9" ry="0.7" fill="#fff"/>
<ellipse cx="400" cy="75" rx="0.7" ry="0.6" fill="#fff"/>
<text x="429.2" y="75.85" font-size="3.3" fill="#1d1d1b" font-weight="bold" text-anchor="middle" stroke="#1d1d1b" stroke-width=".26">200 ml</text>
<text x="453.4" y="75.85" font-size="3.3" fill="#1d1d1b" font-weight="bold" text-anchor="middle" stroke="#1d1d1b" stroke-width=".26">10 sec</text>
<path d="M399 88.6 l0.5 7.2 l4.2 0 l0.5 -7.2 Z" fill="#fff" stroke="#1d1d1b" stroke-width="0.99"/>
<rect x="399.6" y="92.4" width="4" height="3.2" fill="#1d1d1b"/>
<path d="M399.4 83 l2.4 7.6" fill="none" stroke="#1d1d1b" stroke-width="1.06"/>
<polygon points="397.1,94 395.91,95.02 394.12,95.57 392.18,95.29 390.23,94.65 390.28,93.36 391.78,92.34 394.22,92.16 395.87,93" fill="#1d1d1b" stroke="#1d1d1b" stroke-width="0.53" stroke-linejoin="round"/>
<path d="M390.4 95.8 l9 0" fill="none" stroke="#1d1d1b" stroke-width="0.92"/>
<line x1="413.2" y1="97.2" x2="444.2" y2="82.2" stroke="#1d1d1b" stroke-width="1.06"/>
<text x="420.6" y="85.75" font-size="2.86" fill="#1d1d1b" font-weight="bold" text-anchor="middle" stroke="#1d1d1b" stroke-width=".26">100 g</text>
<polygon points="427.66,89.6 426.06,90.51 424.01,91.03 421.82,90.72 419.6,90.17 419.58,89.03 421.68,88.38 424.01,88.18 426.46,88.55" fill="#1d1d1b" stroke="#1d1d1b" stroke-width="0.53" stroke-linejoin="round"/>
<path d="M417.6 91.4 l11 -3.6" fill="none" stroke="#1d1d1b" stroke-width="0.79"/>
<text x="428.6" y="96.75" font-size="2.86" fill="#1d1d1b" font-weight="bold" text-anchor="middle" stroke="#1d1d1b" stroke-width=".26">100 ml</text>
<path d="M435.6 92 q0.2 -3.2 3.4 -3.2 q3.2 0 3.4 3.2 q-3.4 2.4 -6.8 0 Z" fill="#fff" stroke="#1d1d1b" stroke-width="1.06"/>
<text x="453.4" y="87.45" font-size="3.3" fill="#1d1d1b" font-weight="bold" text-anchor="middle" stroke="#1d1d1b" stroke-width=".26">10 sec</text>
<path d="M400 106 l0.5 7.2 l4.2 0 l0.5 -7.2 Z" fill="#fff" stroke="#1d1d1b" stroke-width="0.99"/>
<rect x="400.6" y="109.8" width="4" height="3.2" fill="#1d1d1b"/>
<polygon points="399.15,108.8 399.79,110.74 397.22,111.35 394.92,112.19 393.29,110.72 390.83,109.81 392.07,108.05 392.99,106.64 395.07,106.15 397.05,106.51 399.5,106.99" fill="#1d1d1b" stroke="#1d1d1b" stroke-width="0.53" stroke-linejoin="round"/>
<path d="M389.4 106.6 q1 5.6 6 6.6 q5 -0.4 6 -4" fill="none" stroke="#1d1d1b" stroke-width="1.06"/>
<path d="M397.6 104.6 q0.4 -3.6 2.6 -4.6" fill="none" stroke="#1d1d1b" stroke-width="0.92"/>
<line x1="413.2" y1="114.6" x2="444.2" y2="99.2" stroke="#1d1d1b" stroke-width="1.06"/>
<text x="428.6" y="102.55" font-size="2.86" fill="#1d1d1b" font-weight="bold" text-anchor="middle" stroke="#1d1d1b" stroke-width=".26">100 g</text>
<polygon points="425.7,105.6 424.91,106.99 423.27,107.99 421.03,108.17 418.96,107.59 418.06,106.28 417.53,104.82 419.16,103.76 420.95,102.64 423.34,103.12 425.08,104.14" fill="#1d1d1b" stroke="#1d1d1b" stroke-width="0.53" stroke-linejoin="round"/>
<path d="M416.6 107.6 q3 3.6 9.6 0.6" fill="none" stroke="#1d1d1b" stroke-width="0.92"/>
<text x="429.6" y="113.75" font-size="2.86" fill="#1d1d1b" font-weight="bold" text-anchor="middle" stroke="#1d1d1b" stroke-width=".26">100 ml</text>
<rect x="438.1" y="105.4" width="4.6" height="9" fill="#fff" stroke="#1d1d1b" stroke-width="1.06"/>
<rect x="438.1" y="109.9" width="4.6" height="4.5" fill="#1d1d1b"/>
<ellipse cx="440.4" cy="104.4" rx="1.5" ry="1.3" fill="#fff" stroke="#1d1d1b" stroke-width="0.92"/>
<text x="453.4" y="108.45" font-size="3.3" fill="#1d1d1b" font-weight="bold" text-anchor="middle" stroke="#1d1d1b" stroke-width=".26">10 sec</text>
<path d="M399.6 126.6 l0.6 -5.4 M400.2 121.4 q-2.6 -0.2 -3 -2.2 q2.4 -0.6 3 2.2 M400.4 121.2 q0.6 -2.4 3.2 -2.6 q0 2.6 -3.2 2.6" fill="#fff" stroke="#1d1d1b" stroke-width="1.06"/>
<ellipse cx="426.6" cy="121.6" rx="1.9" ry="1.3" fill="#fff" stroke="#1d1d1b" stroke-width="1.06" transform="rotate(-25 426.6 121.6)"/>
<ellipse cx="430.6" cy="119.6" rx="1.9" ry="1.3" fill="#fff" stroke="#1d1d1b" stroke-width="1.06" transform="rotate(-25 430.6 119.6)"/>
<ellipse cx="434.4" cy="121.8" rx="1.9" ry="1.3" fill="#fff" stroke="#1d1d1b" stroke-width="1.06" transform="rotate(-25 434.4 121.8)"/>
<ellipse cx="428.4" cy="124.4" rx="1.9" ry="1.3" fill="#fff" stroke="#1d1d1b" stroke-width="1.06" transform="rotate(-25 428.4 124.4)"/>
<ellipse cx="433" cy="124.8" rx="1.9" ry="1.3" fill="#fff" stroke="#1d1d1b" stroke-width="1.06" transform="rotate(-25 433 124.8)"/>
<text x="453.4" y="122.35" font-size="3.3" fill="#1d1d1b" font-weight="bold" text-anchor="middle" stroke="#1d1d1b" stroke-width=".26">1/2</text>
<path d="M393 132.6 l0.8 5.6 q4.6 2.8 9.2 0 l0.8 -5.6 Z" fill="#fff" stroke="#1d1d1b" stroke-width="1.58"/>
<path d="M391.4 133.4 l2 0.4 M404 133.8 l2 -0.4 M398.6 131.6 l1.2 -3.6 l1.4 3" fill="none" stroke="#1d1d1b" stroke-width="1.19"/>
<polygon points="401.03,128.8 400.61,129.51 399.6,130.18 398.22,129.76 398.1,128.8 398.5,128.03 399.6,127.68 400.88,127.9" fill="#1d1d1b" stroke="#1d1d1b" stroke-width="0.53" stroke-linejoin="round"/>
<text x="429.2" y="135.85" font-size="3.3" fill="#1d1d1b" font-weight="bold" text-anchor="middle" stroke="#1d1d1b" stroke-width=".26">400 ml</text>
<text x="453.4" y="135.85" font-size="3.3" fill="#1d1d1b" font-weight="bold" text-anchor="middle" stroke="#1d1d1b" stroke-width=".26">10 sec</text>
<rect x="395.2" y="146.6" width="6.2" height="11.2" fill="#a6a7a9"/>
<rect x="395.2" y="145.2" width="6.2" height="2.6" fill="#555"/>
<rect x="395.2" y="156.4" width="6.2" height="1.4" fill="#1d1d1b"/>
<rect x="391.3" y="160.89" width="2.7" height="2.5" fill="#1d1d1b" transform="rotate(-22 392.6 162.99)"/>
<rect x="393.54" y="161.37" width="2.7" height="2.5" fill="#1d1d1b" transform="rotate(31 394.84 163.47)"/>
<rect x="392.82" y="160.91" width="2.7" height="2.5" fill="#1d1d1b" transform="rotate(-21 394.12 163.01)"/>
<rect x="383.58" y="164.36" width="2.7" height="2.5" fill="#1d1d1b" transform="rotate(17 384.88 166.46)"/>
<rect x="395.46" y="163.78" width="2.7" height="2.5" fill="#1d1d1b" transform="rotate(30 396.76 165.88)"/>
<rect x="394.91" y="164.63" width="2.7" height="2.5" fill="#1d1d1b" transform="rotate(30 396.21 166.73)"/>
<rect x="389.3" y="163.38" width="2.7" height="2.5" fill="#1d1d1b" transform="rotate(-10 390.6 165.48)"/>
<rect x="390.27" y="161.42" width="2.7" height="2.5" fill="#1d1d1b" transform="rotate(-10 391.57 163.52)"/>
<rect x="383.37" y="164.74" width="2.7" height="2.5" fill="#1d1d1b" transform="rotate(1 384.67 166.84)"/>
<rect x="386.83" y="160.76" width="2.7" height="2.5" fill="#1d1d1b" transform="rotate(19 388.13 162.86)"/>
<rect x="393.15" y="164.25" width="2.7" height="2.5" fill="#1d1d1b" transform="rotate(-27 394.45 166.35)"/>
<rect x="393.56" y="164.38" width="2.7" height="2.5" fill="#1d1d1b" transform="rotate(17 394.86 166.48)"/>
<rect x="391.23" y="164.21" width="2.7" height="2.5" fill="#1d1d1b" transform="rotate(20 392.53 166.31)"/>
<rect x="383.22" y="164.71" width="2.7" height="2.5" fill="#1d1d1b" transform="rotate(25 384.52 166.81)"/>
<rect x="385.92" y="164.08" width="2.7" height="2.5" fill="#1d1d1b" transform="rotate(-32 387.22 166.18)"/>
<rect x="395.97" y="164.15" width="2.7" height="2.5" fill="#1d1d1b" transform="rotate(31 397.27 166.25)"/>
<rect x="386.96" y="160.47" width="2.7" height="2.5" fill="#1d1d1b" transform="rotate(-28 388.26 162.57)"/>
<rect x="390.21" y="160.77" width="2.7" height="2.5" fill="#1d1d1b" transform="rotate(-11 391.51 162.87)"/>
<rect x="385.86" y="161.38" width="2.7" height="2.5" fill="#1d1d1b" transform="rotate(7 387.16 163.48)"/>
<rect x="392.18" y="160.26" width="2.7" height="2.5" fill="#1d1d1b" transform="rotate(29 393.48 162.36)"/>
<rect x="394.82" y="164.14" width="2.7" height="2.5" fill="#1d1d1b" transform="rotate(-11 396.12 166.24)"/>
<rect x="387.9" y="164.03" width="2.7" height="2.5" fill="#1d1d1b" transform="rotate(29 389.2 166.13)"/>
<rect x="385.09" y="164.7" width="2.7" height="2.5" fill="#1d1d1b" transform="rotate(3 386.39 166.8)"/>
<rect x="387.12" y="162.05" width="2.7" height="2.5" fill="#1d1d1b" transform="rotate(-13 388.42 164.15)"/>
<rect x="383.24" y="164.68" width="2.7" height="2.5" fill="#1d1d1b" transform="rotate(-12 384.54 166.78)"/>
<rect x="387.59" y="163.33" width="2.7" height="2.5" fill="#1d1d1b" transform="rotate(-22 388.89 165.43)"/>
<rect x="393.84" y="163.23" width="2.7" height="2.5" fill="#1d1d1b" transform="rotate(-29 395.14 165.33)"/>
<rect x="387.31" y="162.56" width="2.7" height="2.5" fill="#1d1d1b" transform="rotate(-24 388.61 164.66)"/>
<rect x="392.36" y="164.63" width="2.7" height="2.5" fill="#1d1d1b" transform="rotate(13 393.66 166.73)"/>
<rect x="395.88" y="164.88" width="2.7" height="2.5" fill="#1d1d1b" transform="rotate(34 397.18 166.98)"/>
<rect x="392.95" y="161.33" width="2.7" height="2.5" fill="#1d1d1b" transform="rotate(-23 394.25 163.43)"/>
<rect x="383.43" y="164.21" width="2.7" height="2.5" fill="#1d1d1b" transform="rotate(-31 384.73 166.31)"/>
<rect x="387.96" y="161.83" width="2.7" height="2.5" fill="#1d1d1b" transform="rotate(34 389.26 163.93)"/>
<rect x="383.32" y="164.87" width="2.7" height="2.5" fill="#1d1d1b" transform="rotate(2 384.62 166.97)"/>
<rect x="392.2" y="161.79" width="0.8" height="0.8" fill="#fff"/>
<rect x="384.48" y="165.26" width="0.8" height="0.8" fill="#fff"/>
<rect x="390.2" y="164.28" width="0.8" height="0.8" fill="#fff"/>
<rect x="387.73" y="161.66" width="0.8" height="0.8" fill="#fff"/>
<rect x="392.13" y="165.11" width="0.8" height="0.8" fill="#fff"/>
<text x="400" y="164.75" font-size="3.74" fill="#1d1d1b" font-weight="bold" text-anchor="middle" stroke="#1d1d1b" stroke-width=".26">+</text>
<path d="M403 166.4 l0 -5.6 q1.2 -0.6 2 -2.6 q0.8 -2 2 -2 q1.4 0.4 1.6 2.6 q2.6 1.4 2.8 4 l0 3.6 Z" fill="#fff" stroke="#1d1d1b" stroke-width="1.06"/>
<text x="429.2" y="157.65" font-size="3.3" fill="#1d1d1b" font-weight="bold" text-anchor="middle" stroke="#1d1d1b" stroke-width=".26">70 g + 300 ml</text>
<text x="452.8" y="157.65" font-size="3.3" fill="#1d1d1b" font-weight="bold" text-anchor="middle" stroke="#1d1d1b" stroke-width=".26">1 min</text>
<rect x="385.2" y="178.6" width="3.6" height="4" fill="#1d1d1b"/>
<rect x="389.6" y="178.6" width="3.6" height="4" fill="#1d1d1b"/>
<rect x="385.2" y="183.4" width="3.6" height="4" fill="#1d1d1b"/>
<rect x="389.6" y="183.4" width="3.6" height="4" fill="#1d1d1b"/>
<rect x="394.2" y="179.6" width="2.4" height="2.4" fill="#1d1d1b"/>
<rect x="394" y="183.6" width="3" height="3.6" fill="#fff" stroke="#1d1d1b" stroke-width="0.79"/>
<text x="399.2" y="183.75" font-size="2.86" fill="#1d1d1b" font-weight="bold" text-anchor="middle" stroke="#1d1d1b" stroke-width=".26">+</text>
<ellipse cx="406.2" cy="183.4" rx="1.8" ry="1.8" fill="#fff" stroke="#1d1d1b" stroke-width="1.06"/>
<path d="M408 184 l1.4 2.4 M406.6 181.4 l1 -1.6" fill="none" stroke="#1d1d1b" stroke-width="0.79"/>
<text x="421.6" y="184.15" font-size="3.08" fill="#1d1d1b" font-weight="bold" text-anchor="middle" stroke="#1d1d1b" stroke-width=".26">100 ml</text>
<ellipse cx="436.6" cy="184.2" rx="1.9" ry="1.9" fill="#fff" stroke="#1d1d1b" stroke-width="1.06"/>
<ellipse cx="439.8" cy="182.2" rx="1.6" ry="1.6" fill="#fff" stroke="#1d1d1b" stroke-width="0.92"/>
<path d="M437 182 q1 -2.4 3 -2.4" fill="none" stroke="#1d1d1b" stroke-width="0.79"/>
<text x="453.4" y="184.15" font-size="3.3" fill="#1d1d1b" font-weight="bold" text-anchor="middle" stroke="#1d1d1b" stroke-width=".26">10 sec</text>
<polygon points="403.32,199.2 401.79,201.06 400.07,202.48 397.6,203.18 394.78,202.94 393.56,200.99 392.96,199.2 393.15,197.23 395.02,195.78 397.6,194.9 400.6,195.22 402.26,197.14" fill="#1d1d1b" stroke="#1d1d1b" stroke-width="0.53" stroke-linejoin="round"/>
<ellipse cx="396" cy="198" rx="1" ry="0.8" fill="#fff"/>
<ellipse cx="399.6" cy="200.6" rx="0.8" ry="0.7" fill="#fff"/>
<path d="M393.6 196 q3 -2.6 6.8 -0.6" fill="none" stroke="#fff" stroke-width="0.66"/>
<text x="429" y="201.15" font-size="3.3" fill="#1d1d1b" font-weight="bold" text-anchor="middle" stroke="#1d1d1b" stroke-width=".26">200 ml</text>
<text x="453.4" y="201.15" font-size="3.3" fill="#1d1d1b" font-weight="bold" text-anchor="middle" stroke="#1d1d1b" stroke-width=".26">10 sec</text>
<path d="M400.27 220.43 l0.53 7.56 l4.41 0 l0.53 -7.56 Z" fill="#fff" stroke="#1d1d1b" stroke-width="0.99"/>
<rect x="400.9" y="224.42" width="4.2" height="3.36" fill="#1d1d1b"/>
<polygon points="399.76,223 400.23,224.97 398.26,226.43 395.7,225.63 393.11,225.71 391.58,224.03 392.34,222.14 393.27,220.43 395.68,220.24 398.13,219.78 399.2,221.54" fill="#1d1d1b" stroke="#1d1d1b" stroke-width="0.53" stroke-linejoin="round"/>
<path d="M390.2 220.6 q0.8 6 5.8 7.2 q5.2 -0.2 6.2 -4" fill="none" stroke="#1d1d1b" stroke-width="1.06"/>
<path d="M398 218.6 q0.6 -3.4 2.8 -4.4" fill="none" stroke="#1d1d1b" stroke-width="0.92"/>
<line x1="413.4" y1="234.2" x2="444.2" y2="208.6" stroke="#1d1d1b" stroke-width="1.19"/>
<polygon points="425.16,219.6 424.53,220.84 422.98,221.73 420.68,222.69 418.6,221.59 417.04,220.39 417.2,218.84 418.13,217.28 420.7,216.62 423.27,217.08 425.48,217.98" fill="#1d1d1b" stroke="#1d1d1b" stroke-width="0.53" stroke-linejoin="round"/>
<path d="M415.6 217.4 q1.4 5.4 6 6" fill="none" stroke="#1d1d1b" stroke-width="1.06"/>
<text x="431.6" y="215.55" font-size="2.86" fill="#1d1d1b" font-weight="bold" text-anchor="middle" stroke="#1d1d1b" stroke-width=".26">100 g</text>
<text x="430.4" y="230.95" font-size="2.86" fill="#1d1d1b" font-weight="bold" text-anchor="middle" stroke="#1d1d1b" stroke-width=".26">100 ml</text>
<rect x="437.4" y="224.4" width="3.6" height="7.6" fill="#fff" stroke="#1d1d1b" stroke-width="0.92"/>
<rect x="437.4" y="228.6" width="3.6" height="3.4" fill="#1d1d1b"/>
<ellipse cx="439.2" cy="222.6" rx="1.5" ry="1.5" fill="#fff" stroke="#1d1d1b" stroke-width="0.92"/>
<text x="453.4" y="223.75" font-size="3.3" fill="#1d1d1b" font-weight="bold" text-anchor="middle" stroke="#1d1d1b" stroke-width=".26">10 sec</text>
<ellipse cx="479.6" cy="92.8" rx="3.4" ry="3.4" fill="#fff" stroke="#555" stroke-width="0.92" stroke-dasharray=".8 .9"/>
<ellipse cx="479.8" cy="93" rx="1.2" ry="1.2" fill="none" stroke="#777" stroke-width="0.66" stroke-dasharray=".6 .8"/>
<polygon points="497.05,91.8 496.42,93.48 495.07,94.57 493.39,94.64 491.76,94.15 491.02,92.62 490,90.68 491.55,89.2 493.39,88.96 495.14,88.87 496.26,90.22" fill="#1d1d1b" stroke="#1d1d1b" stroke-width="0.53" stroke-linejoin="round"/>
<path d="M471 98.8 q1.6 3.6 6.4 3.4 q4.8 0.2 6.4 -3.8 q-0.6 5.8 -6.4 6.2 q-5.8 -0.2 -6.4 -5.8 Z" fill="#1d1d1b" stroke="#1d1d1b" stroke-width="1.06"/>
<ellipse cx="492.4" cy="101.6" rx="3.7" ry="3.7" fill="#fff" stroke="#1d1d1b" stroke-width="1.32"/>
<path d="M481.2 111 l3.4 -1.8 l9.6 0 q0.8 2 0 4 l-9.6 0 Z" fill="#fff" stroke="#1d1d1b" stroke-width="1.72"/>
<path d="M482 157 Q483.4 160.2 484.4 166.6 L485.6 172 L486.8 166.6 Q487.8 160.2 489.2 157 Z" fill="#fff" stroke="#1d1d1b" stroke-width="1.12"/>
<ellipse cx="485.6" cy="139.4" rx="18.2" ry="18.2" fill="#fff" stroke="#1d1d1b" stroke-width="1.32"/>
<rect x="482.4" y="155.4" width="6.4" height="2.6" fill="#fff"/>
<path d="M471.4 128.4 L484.6 141 M473 126.8 L486.2 139.6" fill="none" stroke="#1d1d1b" stroke-width="1.06"/>
<path d="M485.6 139.4 L486.6 121.6 M485.6 139.4 L493 123 M485.6 139.4 L498.6 126.8 M485.6 139.4 L503.2 136.2" fill="none" stroke="#1d1d1b" stroke-width="0.99"/>
<path d="M487.8 129.4 q3 1.4 4.6 -0.6 M490.6 134 q3.4 0.8 5 -2 M494 136.8 q2.4 -0.4 3.4 -2.6 M487.2 134.2 q1.6 0.8 2.6 -0.4" fill="none" stroke="#1d1d1b" stroke-width="0.79"/>
<polygon points="483.12,143.8 482.64,145.51 479.81,146.27 477.2,147.32 474.47,146.38 472.15,145.39 470.72,143.8 472.41,142.29 473.94,140.72 477.2,140.7 480.43,140.75 482.75,142.05" fill="#1d1d1b" stroke="#1d1d1b" stroke-width="0.53" stroke-linejoin="round"/>
<polygon points="485.13,145.8 484.51,147.17 482.77,148.07 480.94,147.34 479.01,146.62 479.49,145.1 480.96,144.28 482.78,143.49 484.37,144.51" fill="#1d1d1b" stroke="#1d1d1b" stroke-width="0.53" stroke-linejoin="round"/>
<ellipse cx="476.8" cy="143.8" rx="1" ry="0.8" fill="#fff"/>
<polygon points="488.24,139.8 487.71,141.03 486.2,141.39 484.72,141.01 484.04,139.8 484.83,138.68 486.2,138.5 487.38,138.83" fill="#1d1d1b" stroke="#1d1d1b" stroke-width="0.53" stroke-linejoin="round"/>
<rect x="491.87" y="179.02" width="2.7" height="2.5" fill="#1d1d1b" transform="rotate(28 493.17 181.12)"/>
<rect x="476.94" y="180.79" width="2.7" height="2.5" fill="#1d1d1b" transform="rotate(-13 478.24 182.89)"/>
<rect x="489.87" y="177.6" width="2.7" height="2.5" fill="#1d1d1b" transform="rotate(32 491.17 179.7)"/>
<rect x="487.12" y="178.84" width="2.7" height="2.5" fill="#1d1d1b" transform="rotate(14 488.42 180.94)"/>
<rect x="486.06" y="176.27" width="2.7" height="2.5" fill="#1d1d1b" transform="rotate(0 487.36 178.37)"/>
<rect x="485.65" y="179.72" width="2.7" height="2.5" fill="#1d1d1b" transform="rotate(1 486.95 181.82)"/>
<rect x="483.15" y="177.76" width="2.7" height="2.5" fill="#1d1d1b" transform="rotate(10 484.45 179.86)"/>
<rect x="488" y="174.72" width="2.7" height="2.5" fill="#1d1d1b" transform="rotate(6 489.3 176.82)"/>
<rect x="491.76" y="179.76" width="2.7" height="2.5" fill="#1d1d1b" transform="rotate(-13 493.06 181.86)"/>
<rect x="483.38" y="178.75" width="2.7" height="2.5" fill="#1d1d1b" transform="rotate(-20 484.68 180.85)"/>
<rect x="476.6" y="180.95" width="2.7" height="2.5" fill="#1d1d1b" transform="rotate(0 477.9 183.05)"/>
<rect x="483.72" y="178.26" width="2.7" height="2.5" fill="#1d1d1b" transform="rotate(30 485.02 180.36)"/>
<rect x="482.31" y="174.19" width="2.7" height="2.5" fill="#1d1d1b" transform="rotate(8 483.61 176.29)"/>
<rect x="484.73" y="176.11" width="2.7" height="2.5" fill="#1d1d1b" transform="rotate(-29 486.03 178.21)"/>
<rect x="479.92" y="180.86" width="2.7" height="2.5" fill="#1d1d1b" transform="rotate(22 481.22 182.96)"/>
<rect x="481.4" y="180.05" width="2.7" height="2.5" fill="#1d1d1b" transform="rotate(15 482.7 182.15)"/>
<rect x="484.47" y="172.12" width="2.7" height="2.5" fill="#1d1d1b" transform="rotate(28 485.77 174.22)"/>
<rect x="487.2" y="179.73" width="2.7" height="2.5" fill="#1d1d1b" transform="rotate(-21 488.5 181.83)"/>
<rect x="490.83" y="178.17" width="2.7" height="2.5" fill="#1d1d1b" transform="rotate(17 492.13 180.27)"/>
<rect x="488.19" y="175.42" width="2.7" height="2.5" fill="#1d1d1b" transform="rotate(-30 489.49 177.52)"/>
<rect x="488.66" y="176.46" width="2.7" height="2.5" fill="#1d1d1b" transform="rotate(10 489.96 178.56)"/>
<rect x="481.87" y="173.83" width="2.7" height="2.5" fill="#1d1d1b" transform="rotate(-15 483.17 175.93)"/>
<rect x="491.97" y="180.69" width="2.7" height="2.5" fill="#1d1d1b" transform="rotate(-19 493.27 182.79)"/>
<rect x="488.52" y="176.79" width="2.7" height="2.5" fill="#1d1d1b" transform="rotate(26 489.82 178.89)"/>
<rect x="483.66" y="176.45" width="2.7" height="2.5" fill="#1d1d1b" transform="rotate(-27 484.96 178.55)"/>
<rect x="484.13" y="172.78" width="2.7" height="2.5" fill="#1d1d1b" transform="rotate(1 485.43 174.88)"/>
<rect x="484.31" y="173.52" width="2.7" height="2.5" fill="#1d1d1b" transform="rotate(24 485.61 175.62)"/>
<rect x="481.88" y="174.54" width="2.7" height="2.5" fill="#1d1d1b" transform="rotate(-17 483.18 176.64)"/>
<rect x="490.94" y="179.42" width="2.7" height="2.5" fill="#1d1d1b" transform="rotate(-20 492.24 181.52)"/>
<rect x="485.42" y="173.41" width="2.7" height="2.5" fill="#1d1d1b" transform="rotate(26 486.72 175.51)"/>
<rect x="488.01" y="177.93" width="2.7" height="2.5" fill="#1d1d1b" transform="rotate(-5 489.31 180.03)"/>
<rect x="479.68" y="179.21" width="2.7" height="2.5" fill="#1d1d1b" transform="rotate(15 480.98 181.31)"/>
<rect x="487.61" y="179.9" width="2.7" height="2.5" fill="#1d1d1b" transform="rotate(-32 488.91 182)"/>
<rect x="491.07" y="180.13" width="2.7" height="2.5" fill="#1d1d1b" transform="rotate(-9 492.37 182.23)"/>
<rect x="492.77" y="179.92" width="0.8" height="0.8" fill="#fff"/>
<rect x="488.02" y="179.74" width="0.8" height="0.8" fill="#fff"/>
<rect x="484.05" y="178.66" width="0.8" height="0.8" fill="#fff"/>
<rect x="484.28" y="179.65" width="0.8" height="0.8" fill="#fff"/>
<rect x="483.21" y="175.09" width="0.8" height="0.8" fill="#fff"/>
<path d="M586.4 41.2 q0.4 -3 4.6 -3.2 q4.2 0.2 4.6 3.2 l0.8 8.8 l-10.8 0 Z" fill="#fff" stroke="#1d1d1b" stroke-width="0.79" stroke-dasharray="1.2 .7"/>
<polygon points="588.4,38.6 591,35.2 593.6,38.6" fill="#1d1d1b"/>
<rect x="588" y="42" width="6" height="3.4" fill="#1d1d1b"/>
<rect x="589.4" y="46.2" width="3.2" height="1.1" fill="#1d1d1b"/>
<text x="591" y="54" font-size="3.2" fill="#1d1d1b" font-weight="bold" text-anchor="middle" stroke="#1d1d1b" stroke-width=".2">MAX</text>
<line x1="585.8" y1="50.6" x2="596.2" y2="50.6" stroke="#1d1d1b" stroke-width="0.66" stroke-dasharray=".8 .6"/>
<ellipse cx="615.6" cy="44.6" rx="6.7" ry="6.7" fill="#fff" stroke="#1d1d1b" stroke-width="1.91"/>
<path d="M615.6 37.9 L615.6 44.6 L619 41.2" fill="none" stroke="#1d1d1b" stroke-width="1.19"/>
<rect x="614.4" y="36.4" width="2.4" height="1.2" fill="#1d1d1b"/>
<text x="591" y="64.85" font-size="3.19" fill="#1d1d1b" font-weight="bold" text-anchor="middle" stroke="#1d1d1b" stroke-width=".26">50 g</text>
<text x="615.5" y="64.85" font-size="3.19" fill="#1d1d1b" font-weight="bold" text-anchor="middle" stroke="#1d1d1b" stroke-width=".26">5 sec</text>
<text x="591" y="79.55" font-size="3.19" fill="#1d1d1b" font-weight="bold" text-anchor="middle" stroke="#1d1d1b" stroke-width=".26">50 g</text>
<text x="615.5" y="79.55" font-size="3.19" fill="#1d1d1b" font-weight="bold" text-anchor="middle" stroke="#1d1d1b" stroke-width=".26">5 sec</text>
<text x="591" y="94.85" font-size="3.19" fill="#1d1d1b" font-weight="bold" text-anchor="middle" stroke="#1d1d1b" stroke-width=".26">50 g</text>
<text x="615.5" y="94.85" font-size="3.19" fill="#1d1d1b" font-weight="bold" text-anchor="middle" stroke="#1d1d1b" stroke-width=".26">5 sec</text>
<text x="591" y="109.85" font-size="3.19" fill="#1d1d1b" font-weight="bold" text-anchor="middle" stroke="#1d1d1b" stroke-width=".26">50 g</text>
<text x="615.5" y="109.85" font-size="3.19" fill="#1d1d1b" font-weight="bold" text-anchor="middle" stroke="#1d1d1b" stroke-width=".26">5 sec</text>
<text x="591" y="125.75" font-size="3.19" fill="#1d1d1b" font-weight="bold" text-anchor="middle" stroke="#1d1d1b" stroke-width=".26">50 g</text>
<text x="615.5" y="125.75" font-size="3.19" fill="#1d1d1b" font-weight="bold" text-anchor="middle" stroke="#1d1d1b" stroke-width=".26">5 sec</text>
<text x="591" y="142.15" font-size="3.19" fill="#1d1d1b" font-weight="bold" text-anchor="middle" stroke="#1d1d1b" stroke-width=".26">50 g</text>
<text x="615.5" y="142.15" font-size="3.19" fill="#1d1d1b" font-weight="bold" text-anchor="middle" stroke="#1d1d1b" stroke-width=".26">5 sec</text>
<text x="591" y="161.55" font-size="3.19" fill="#1d1d1b" font-weight="bold" text-anchor="middle" stroke="#1d1d1b" stroke-width=".26">50 - 100 g</text>
<text x="615.5" y="161.55" font-size="3.19" fill="#1d1d1b" font-weight="bold" text-anchor="middle" stroke="#1d1d1b" stroke-width=".26">30 - 60 sec</text>
<text x="591" y="183.15" font-size="3.19" fill="#1d1d1b" font-weight="bold" text-anchor="middle" stroke="#1d1d1b" stroke-width=".26">50 - 100 g</text>
<text x="615.5" y="183.15" font-size="3.19" fill="#1d1d1b" font-weight="bold" text-anchor="middle" stroke="#1d1d1b" stroke-width=".26">5 x 1P</text>
<text x="591" y="205.55" font-size="3.19" fill="#1d1d1b" font-weight="bold" text-anchor="middle" stroke="#1d1d1b" stroke-width=".26">20 g</text>
<text x="615.5" y="205.55" font-size="3.19" fill="#1d1d1b" font-weight="bold" text-anchor="middle" stroke="#1d1d1b" stroke-width=".26">5 x 1P</text>
<text x="591" y="226.15" font-size="3.19" fill="#1d1d1b" font-weight="bold" text-anchor="middle" stroke="#1d1d1b" stroke-width=".26">30 g</text>
<text x="615.5" y="226.15" font-size="3.19" fill="#1d1d1b" font-weight="bold" text-anchor="middle" stroke="#1d1d1b" stroke-width=".26">5 sec</text>
<polygon points="567.18,62 566.15,64.27 563.71,65.36 561.22,65.02 558.68,64.25 557.76,62 558.79,59.81 561.25,59.06 563.82,58.36 565.42,60.17" fill="#1d1d1b" stroke="#1d1d1b" stroke-width="0.53" stroke-linejoin="round"/>
<rect x="561.6" y="64.6" width="3.4" height="4.4" fill="#1d1d1b"/>
<rect x="558.6" y="62.6" width="3" height="2.6" fill="#1d1d1b"/>
<path d="M558.4 82.2 l0 -5.6 l3.4 -2.2 l6 1.8 l0 6 Z" fill="#fff" stroke="#1d1d1b" stroke-width="1.32"/>
<path d="M558.4 77 l9.4 2.6" fill="none" stroke="#1d1d1b" stroke-width="0.92"/>
<rect x="560" y="75" width="2.6" height="1.6" fill="#1d1d1b"/>
<ellipse cx="564.6" cy="80.4" rx="0.9" ry="0.8" fill="#1d1d1b"/>
<path d="M556.4 92.4 q0.6 6 7.2 6.4 q6.6 -0.4 7.2 -6.4 Z" fill="#fff" stroke="#1d1d1b" stroke-width="1.58"/>
<path d="M557.4 92.6 q1 -5 6.2 -5 q5.2 0 6.2 5 Z" fill="#999" stroke="#1d1d1b" stroke-width="1.06"/>
<path d="M559.4 97.4 q4 3.2 8.4 0" fill="none" stroke="#1d1d1b" stroke-width="1.58"/>
<polygon points="561.49,110.2 560.85,111.88 559.29,112.77 557.36,113.21 555.96,111.87 555.6,110.2 556.15,108.66 557.34,107.12 559.33,107.49 560.86,108.51" fill="#fff" stroke="#fff" stroke-width="0.53" stroke-linejoin="round"/>
<path d="M563.4 113.6 l3.6 -9.6 M566.4 105.4 q1.8 -1.8 3.4 -1.2 M564 111 l2 0.6" fill="none" stroke="#1d1d1b" stroke-width="1.45"/>
<path d="M550 128 q4.6 -7.4 12.4 -7.6 l4.6 -0.2" fill="none" stroke="#1d1d1b" stroke-width="1.45"/>
<polygon points="564.4,126.6 563.73,128.83 562.08,129.87 560.34,129.8 558.94,128.59 557.82,126.6 559,124.67 560.18,122.78 562.27,122.63 564.19,123.97" fill="#1d1d1b" stroke="#1d1d1b" stroke-width="0.53" stroke-linejoin="round"/>
<polygon points="576.67,124.6 575.7,125.86 574.39,126.78 572.6,126.92 570.25,127.47 569.96,125.67 568.58,124.6 569.5,123.34 570.82,122.43 572.6,122.39 574.97,121.72 576.51,123.01" fill="#1d1d1b" stroke="#1d1d1b" stroke-width="0.53" stroke-linejoin="round"/>
<ellipse cx="560.6" cy="126" rx="0.8" ry="0.8" fill="#fff"/>
<rect x="557.51" y="137.87" width="2.7" height="2.5" fill="#1d1d1b" transform="rotate(-8 558.81 139.97)"/>
<rect x="555.6" y="141.49" width="2.7" height="2.5" fill="#1d1d1b" transform="rotate(23 556.9 143.59)"/>
<rect x="554.82" y="144.28" width="2.7" height="2.5" fill="#1d1d1b" transform="rotate(27 556.12 146.38)"/>
<rect x="572.18" y="145.29" width="2.7" height="2.5" fill="#1d1d1b" transform="rotate(-22 573.48 147.39)"/>
<rect x="565.4" y="140.65" width="2.7" height="2.5" fill="#1d1d1b" transform="rotate(-7 566.7 142.75)"/>
<rect x="561.81" y="139.52" width="2.7" height="2.5" fill="#1d1d1b" transform="rotate(-23 563.11 141.62)"/>
<rect x="556.85" y="139.5" width="2.7" height="2.5" fill="#1d1d1b" transform="rotate(11 558.15 141.6)"/>
<rect x="554.9" y="144.31" width="2.7" height="2.5" fill="#1d1d1b" transform="rotate(33 556.2 146.41)"/>
<rect x="553.58" y="144.87" width="2.7" height="2.5" fill="#1d1d1b" transform="rotate(-20 554.88 146.97)"/>
<rect x="560.95" y="135.37" width="2.7" height="2.5" fill="#1d1d1b" transform="rotate(18 562.25 137.47)"/>
<rect x="560.4" y="144.15" width="2.7" height="2.5" fill="#1d1d1b" transform="rotate(-13 561.7 146.25)"/>
<rect x="558.11" y="137.01" width="2.7" height="2.5" fill="#1d1d1b" transform="rotate(-34 559.41 139.11)"/>
<rect x="554.4" y="143.11" width="2.7" height="2.5" fill="#1d1d1b" transform="rotate(18 555.7 145.21)"/>
<rect x="560.37" y="138.37" width="2.7" height="2.5" fill="#1d1d1b" transform="rotate(-11 561.67 140.47)"/>
<rect x="559.63" y="138.51" width="2.7" height="2.5" fill="#1d1d1b" transform="rotate(-23 560.93 140.61)"/>
<rect x="562.65" y="137.25" width="2.7" height="2.5" fill="#1d1d1b" transform="rotate(-4 563.95 139.35)"/>
<rect x="570.33" y="142.61" width="2.7" height="2.5" fill="#1d1d1b" transform="rotate(-18 571.63 144.71)"/>
<rect x="555.9" y="144.97" width="2.7" height="2.5" fill="#1d1d1b" transform="rotate(-6 557.2 147.07)"/>
<rect x="571.17" y="143.74" width="2.7" height="2.5" fill="#1d1d1b" transform="rotate(-3 572.47 145.84)"/>
<rect x="556.88" y="138.65" width="2.7" height="2.5" fill="#1d1d1b" transform="rotate(-5 558.18 140.75)"/>
<rect x="564.2" y="137.13" width="2.7" height="2.5" fill="#1d1d1b" transform="rotate(6 565.5 139.23)"/>
<rect x="569.94" y="143.84" width="2.7" height="2.5" fill="#1d1d1b" transform="rotate(-14 571.24 145.94)"/>
<rect x="559.98" y="136.39" width="2.7" height="2.5" fill="#1d1d1b" transform="rotate(-28 561.28 138.49)"/>
<rect x="555.76" y="141" width="2.7" height="2.5" fill="#1d1d1b" transform="rotate(-29 557.06 143.1)"/>
<rect x="555.05" y="142.11" width="2.7" height="2.5" fill="#1d1d1b" transform="rotate(-27 556.35 144.21)"/>
<rect x="566.54" y="136.65" width="2.7" height="2.5" fill="#1d1d1b" transform="rotate(1 567.84 138.75)"/>
<rect x="569.23" y="142.21" width="2.7" height="2.5" fill="#1d1d1b" transform="rotate(-9 570.53 144.31)"/>
<rect x="556.96" y="144.27" width="2.7" height="2.5" fill="#1d1d1b" transform="rotate(21 558.26 146.37)"/>
<rect x="563.25" y="139.2" width="2.7" height="2.5" fill="#1d1d1b" transform="rotate(0 564.55 141.3)"/>
<rect x="554.56" y="141.84" width="2.7" height="2.5" fill="#1d1d1b" transform="rotate(14 555.86 143.94)"/>
<rect x="562.84" y="136.66" width="2.7" height="2.5" fill="#1d1d1b" transform="rotate(33 564.14 138.76)"/>
<rect x="557.38" y="143.49" width="2.7" height="2.5" fill="#1d1d1b" transform="rotate(-30 558.68 145.59)"/>
<rect x="553.43" y="144.89" width="2.7" height="2.5" fill="#1d1d1b" transform="rotate(-33 554.73 146.99)"/>
<rect x="558.27" y="141.72" width="2.7" height="2.5" fill="#1d1d1b" transform="rotate(-25 559.57 143.82)"/>
<rect x="558.41" y="138.77" width="0.8" height="0.8" fill="#fff"/>
<rect x="573.08" y="146.19" width="0.8" height="0.8" fill="#fff"/>
<rect x="557.75" y="140.4" width="0.8" height="0.8" fill="#fff"/>
<rect x="561.85" y="136.27" width="0.8" height="0.8" fill="#fff"/>
<rect x="555.3" y="144.01" width="0.8" height="0.8" fill="#fff"/>
<path d="M557 163.4 l7.6 -8.6 l6.6 9 q-7.2 3 -14.2 -0.4 Z" fill="#1d1d1b"/>
<path d="M560.6 158.6 l-3 1.6 l0.6 2" fill="none" stroke="#1d1d1b" stroke-width="1.06"/>
<path d="M564.2 155 l0.4 -3" fill="none" stroke="#1d1d1b" stroke-width="1.06"/>
<line x1="562.6" y1="160.6" x2="567.6" y2="161" stroke="#fff" stroke-width="0.66"/>
<polygon points="570.94,183 568.83,185.26 566.64,186.95 563.6,187.62 560.39,187.17 558.19,185.34 555.6,183 557.76,180.47 559.85,178.13 563.6,178.1 567.17,178.37 569.56,180.42" fill="#1d1d1b" stroke="#1d1d1b" stroke-width="0.53" stroke-linejoin="round"/>
<ellipse cx="561" cy="181.4" rx="1.3" ry="1" fill="#fff"/>
<ellipse cx="565.6" cy="184.6" rx="1" ry="0.8" fill="#fff"/>
<path d="M558.4 178.4 q-1.6 -1.6 -0.6 -3.4 M568.6 178.6 q1.6 -2 3.6 -1.6" fill="none" stroke="#1d1d1b" stroke-width="1.32"/>
<polygon points="568.77,200.6 569.8,202.74 566.91,203.45 564.69,203.56 562.74,203.4 560.4,203.05 559.61,201.42 558.86,199.64 560.43,198.17 561.97,196.33 564.75,197.3 566.94,197.72 569.3,198.65" fill="#1d1d1b" stroke="#1d1d1b" stroke-width="0.53" stroke-linejoin="round"/>
<path d="M563.6 203.6 q0.6 4 3.4 6.4" fill="none" stroke="#1d1d1b" stroke-width="1.32"/>
<path d="M559.4 204.4 q2 0.6 3.6 -0.4" fill="none" stroke="#1d1d1b" stroke-width="1.06"/>
<ellipse cx="557" cy="220.6" rx="3.8" ry="2.8" fill="#fff" stroke="#1d1d1b" stroke-width="1.19"/>
<path d="M554.2 219.2 q2.8 -1.8 5.6 0" fill="none" stroke="#1d1d1b" stroke-width="1.58"/>
<ellipse cx="557" cy="221.6" rx="1.2" ry="0.8" fill="#1d1d1b"/>
<path d="M557 229.6 q2 -4.6 8 -4.6 q6.2 0.4 7.4 3.6 q-1.6 3.2 -7.4 3.2 q-5.6 0.2 -8 -2.2 Z" fill="#1d1d1b"/>
<path d="M560.6 228 q4 -2 9.4 -0.6" fill="none" stroke="#fff" stroke-width="0.92"/>
<path d="M525.2 111.4 L525.2 139.6 L523.4 141.6 L523.4 145.6 Q533.8 150.6 544.2 145.6 L544.2 141.6 L542.4 139.6 L542.4 111.4 Q533.8 106.4 525.2 111.4 Z" fill="#fff" stroke="#1d1d1b" stroke-width="1.19"/>
<path d="M525.2 139.6 q8.6 3.4 17.2 0" fill="none" stroke="#666" stroke-width="0.79"/>
<path d="M523.4 142 q10.4 4 20.8 0" fill="none" stroke="#1d1d1b" stroke-width="0.79"/>
<rect x="530.6" y="108.2" width="6" height="1.2" fill="#1d1d1b"/>
<ellipse cx="533.6" cy="157.8" rx="8.2" ry="3.4" fill="#fff" stroke="#1d1d1b" stroke-width="1.45"/>
<ellipse cx="533.6" cy="158" rx="6.9" ry="2.4" fill="none" stroke="#1d1d1b" stroke-width="0.59"/>
<path d="M525.4 168.4 q8.2 -3.6 16.4 0 l-0.6 5 q-7.6 3.6 -15.2 0 Z" fill="#1d1d1b"/>
<ellipse cx="533.6" cy="168.4" rx="8.2" ry="2.5" fill="#fff" stroke="#1d1d1b" stroke-width="0.92"/>
<path d="M529.6 166.4 l4 2 l4.4 -2.4 M533.6 168.2 l0.2 -3" fill="none" stroke="#1d1d1b" stroke-width="1.19"/>
<rect x="529.8" y="174.8" width="7.6" height="2.8" fill="#1d1d1b"/>
<ellipse cx="644.6" cy="93.8" rx="3.4" ry="3.4" fill="#fff" stroke="#555" stroke-width="0.92" stroke-dasharray=".8 .9"/>
<ellipse cx="644.8" cy="94" rx="1.2" ry="1.2" fill="none" stroke="#777" stroke-width="0.66" stroke-dasharray=".6 .8"/>
<polygon points="662.05,92.8 661.42,94.48 660.07,95.57 658.39,95.64 656.76,95.15 656.02,93.62 655,91.68 656.55,90.2 658.39,89.96 660.14,89.87 661.26,91.22" fill="#1d1d1b" stroke="#1d1d1b" stroke-width="0.53" stroke-linejoin="round"/>
<path d="M636 99.8 q1.6 3.6 6.4 3.4 q4.8 0.2 6.4 -3.8 q-0.6 5.8 -6.4 6.2 q-5.8 -0.2 -6.4 -5.8 Z" fill="#1d1d1b" stroke="#1d1d1b" stroke-width="1.06"/>
<ellipse cx="657.4" cy="102.6" rx="3.7" ry="3.7" fill="#fff" stroke="#1d1d1b" stroke-width="1.32"/>
<path d="M646.2 112 l3.4 -1.8 l9.6 0 q0.8 2 0 4 l-9.6 0 Z" fill="#fff" stroke="#1d1d1b" stroke-width="1.72"/>
<path d="M647 157 Q648.4 160.2 649.4 166.6 L650.6 172 L651.8 166.6 Q652.8 160.2 654.2 157 Z" fill="#fff" stroke="#1d1d1b" stroke-width="1.12"/>
<ellipse cx="650.6" cy="139.4" rx="18.2" ry="18.2" fill="#fff" stroke="#1d1d1b" stroke-width="1.32"/>
<rect x="647.4" y="155.4" width="6.4" height="2.6" fill="#fff"/>
<path d="M636.4 128.4 L649.6 141 M638 126.8 L651.2 139.6" fill="none" stroke="#1d1d1b" stroke-width="1.06"/>
<path d="M650.6 139.4 L651.6 121.6 M650.6 139.4 L658 123 M650.6 139.4 L663.6 126.8 M650.6 139.4 L668.2 136.2" fill="none" stroke="#1d1d1b" stroke-width="0.99"/>
<path d="M652.8 129.4 q3 1.4 4.6 -0.6 M655.6 134 q3.4 0.8 5 -2 M659 136.8 q2.4 -0.4 3.4 -2.6 M652.2 134.2 q1.6 0.8 2.6 -0.4" fill="none" stroke="#1d1d1b" stroke-width="0.79"/>
<polygon points="648.12,143.8 647.64,145.51 644.81,146.27 642.2,147.32 639.47,146.38 637.15,145.39 635.72,143.8 637.41,142.29 638.94,140.72 642.2,140.7 645.43,140.75 647.75,142.05" fill="#1d1d1b" stroke="#1d1d1b" stroke-width="0.53" stroke-linejoin="round"/>
<polygon points="650.13,145.8 649.51,147.17 647.77,148.07 645.94,147.34 644.01,146.62 644.49,145.1 645.96,144.28 647.78,143.49 649.37,144.51" fill="#1d1d1b" stroke="#1d1d1b" stroke-width="0.53" stroke-linejoin="round"/>
<ellipse cx="641.8" cy="143.8" rx="1" ry="0.8" fill="#fff"/>
<polygon points="653.24,139.8 652.71,141.03 651.2,141.39 649.72,141.01 649.04,139.8 649.83,138.68 651.2,138.5 652.38,138.83" fill="#1d1d1b" stroke="#1d1d1b" stroke-width="0.53" stroke-linejoin="round"/>
<rect x="656.87" y="179.62" width="2.7" height="2.5" fill="#1d1d1b" transform="rotate(28 658.17 181.72)"/>
<rect x="641.94" y="181.39" width="2.7" height="2.5" fill="#1d1d1b" transform="rotate(-13 643.24 183.49)"/>
<rect x="654.87" y="178.2" width="2.7" height="2.5" fill="#1d1d1b" transform="rotate(32 656.17 180.3)"/>
<rect x="652.12" y="179.44" width="2.7" height="2.5" fill="#1d1d1b" transform="rotate(14 653.42 181.54)"/>
<rect x="651.06" y="176.87" width="2.7" height="2.5" fill="#1d1d1b" transform="rotate(0 652.36 178.97)"/>
<rect x="650.65" y="180.32" width="2.7" height="2.5" fill="#1d1d1b" transform="rotate(1 651.95 182.42)"/>
<rect x="648.15" y="178.36" width="2.7" height="2.5" fill="#1d1d1b" transform="rotate(10 649.45 180.46)"/>
<rect x="653" y="175.32" width="2.7" height="2.5" fill="#1d1d1b" transform="rotate(6 654.3 177.42)"/>
<rect x="656.76" y="180.36" width="2.7" height="2.5" fill="#1d1d1b" transform="rotate(-13 658.06 182.46)"/>
<rect x="648.38" y="179.35" width="2.7" height="2.5" fill="#1d1d1b" transform="rotate(-20 649.68 181.45)"/>
<rect x="641.6" y="181.55" width="2.7" height="2.5" fill="#1d1d1b" transform="rotate(0 642.9 183.65)"/>
<rect x="648.72" y="178.86" width="2.7" height="2.5" fill="#1d1d1b" transform="rotate(30 650.02 180.96)"/>
<rect x="647.31" y="174.79" width="2.7" height="2.5" fill="#1d1d1b" transform="rotate(8 648.61 176.89)"/>
<rect x="649.73" y="176.71" width="2.7" height="2.5" fill="#1d1d1b" transform="rotate(-29 651.03 178.81)"/>
<rect x="644.92" y="181.46" width="2.7" height="2.5" fill="#1d1d1b" transform="rotate(22 646.22 183.56)"/>
<rect x="646.4" y="180.65" width="2.7" height="2.5" fill="#1d1d1b" transform="rotate(15 647.7 182.75)"/>
<rect x="649.47" y="172.72" width="2.7" height="2.5" fill="#1d1d1b" transform="rotate(28 650.77 174.82)"/>
<rect x="652.2" y="180.33" width="2.7" height="2.5" fill="#1d1d1b" transform="rotate(-21 653.5 182.43)"/>
<rect x="655.83" y="178.77" width="2.7" height="2.5" fill="#1d1d1b" transform="rotate(17 657.13 180.87)"/>
<rect x="653.19" y="176.02" width="2.7" height="2.5" fill="#1d1d1b" transform="rotate(-30 654.49 178.12)"/>
<rect x="653.66" y="177.06" width="2.7" height="2.5" fill="#1d1d1b" transform="rotate(10 654.96 179.16)"/>
<rect x="646.87" y="174.43" width="2.7" height="2.5" fill="#1d1d1b" transform="rotate(-15 648.17 176.53)"/>
<rect x="656.97" y="181.29" width="2.7" height="2.5" fill="#1d1d1b" transform="rotate(-19 658.27 183.39)"/>
<rect x="653.52" y="177.39" width="2.7" height="2.5" fill="#1d1d1b" transform="rotate(26 654.82 179.49)"/>
<rect x="648.66" y="177.05" width="2.7" height="2.5" fill="#1d1d1b" transform="rotate(-27 649.96 179.15)"/>
<rect x="649.13" y="173.38" width="2.7" height="2.5" fill="#1d1d1b" transform="rotate(1 650.43 175.48)"/>
<rect x="649.31" y="174.12" width="2.7" height="2.5" fill="#1d1d1b" transform="rotate(24 650.61 176.22)"/>
<rect x="646.88" y="175.14" width="2.7" height="2.5" fill="#1d1d1b" transform="rotate(-17 648.18 177.24)"/>
<rect x="655.94" y="180.02" width="2.7" height="2.5" fill="#1d1d1b" transform="rotate(-20 657.24 182.12)"/>
<rect x="650.42" y="174.01" width="2.7" height="2.5" fill="#1d1d1b" transform="rotate(26 651.72 176.11)"/>
<rect x="653.01" y="178.53" width="2.7" height="2.5" fill="#1d1d1b" transform="rotate(-5 654.31 180.63)"/>
<rect x="644.68" y="179.81" width="2.7" height="2.5" fill="#1d1d1b" transform="rotate(15 645.98 181.91)"/>
<rect x="652.61" y="180.5" width="2.7" height="2.5" fill="#1d1d1b" transform="rotate(-32 653.91 182.6)"/>
<rect x="656.07" y="180.73" width="2.7" height="2.5" fill="#1d1d1b" transform="rotate(-9 657.37 182.83)"/>
<rect x="657.77" y="180.52" width="0.8" height="0.8" fill="#fff"/>
<rect x="653.02" y="180.34" width="0.8" height="0.8" fill="#fff"/>
<rect x="649.05" y="179.26" width="0.8" height="0.8" fill="#fff"/>
<rect x="649.28" y="180.25" width="0.8" height="0.8" fill="#fff"/>
<rect x="648.21" y="175.69" width="0.8" height="0.8" fill="#fff"/>
<defs>
<clipPath id="c0"><rect x="191.65" y="253.85" width="98.6" height="46.3"/></clipPath>
<clipPath id="c1"><rect x="295.65" y="253.85" width="46.4" height="46.3"/></clipPath>
<clipPath id="c2"><rect x="348.15" y="253.85" width="79.4" height="47.1"/></clipPath>
<clipPath id="c3"><rect x="191.65" y="305.25" width="46.1" height="46"/></clipPath>
<clipPath id="t3"><polygon points="191.2,351.7 238.2,304.8 238.2,351.7"/></clipPath>
<clipPath id="c4"><rect x="243.75" y="305.25" width="46.5" height="46"/></clipPath>
<clipPath id="t4"><polygon points="243.3,351.7 290.7,304.8 290.7,351.7"/></clipPath>
<clipPath id="c5"><rect x="295.65" y="305.25" width="46.4" height="46"/></clipPath>
<clipPath id="t5"><polygon points="295.2,351.7 342.5,304.8 342.5,351.7"/></clipPath>
<clipPath id="c6"><rect x="348.15" y="305.25" width="46.4" height="46"/></clipPath>
<clipPath id="c7"><rect x="191.65" y="375.65" width="46.1" height="46.2"/></clipPath>
<clipPath id="t7"><polygon points="191.2,422.3 238.2,375.2 238.2,422.3"/></clipPath>
<clipPath id="c8"><rect x="243.75" y="375.65" width="99.4" height="46.2"/></clipPath>
<clipPath id="c9"><rect x="349.45" y="375.65" width="46.7" height="46.2"/></clipPath>
<clipPath id="c10"><rect x="191.65" y="426.95" width="46.1" height="45.9"/></clipPath>
<clipPath id="t10"><polygon points="191.2,473.3 238.2,426.5 238.2,473.3"/></clipPath>
<clipPath id="c11"><rect x="243.75" y="426.95" width="46.6" height="45.9"/></clipPath>
<clipPath id="c12"><rect x="296.85" y="426.95" width="46.3" height="45.9"/></clipPath>
<clipPath id="t12"><polygon points="296.4,473.3 343.6,426.5 343.6,473.3"/></clipPath>
<clipPath id="c13"><rect x="349.45" y="426.95" width="46.7" height="45.9"/></clipPath>
<clipPath id="c14"><rect x="445.65" y="254.25" width="46.5" height="47.9"/></clipPath>
<clipPath id="c15"><rect x="498.45" y="254.25" width="46.8" height="47.9"/></clipPath>
<clipPath id="t15"><polygon points="498,302.6 545.7,253.8 545.7,302.6"/></clipPath>
<clipPath id="c16"><rect x="445.65" y="307.15" width="46.5" height="45.8"/></clipPath>
<clipPath id="c17"><rect x="498.45" y="307.15" width="46.8" height="45.8"/></clipPath>
<clipPath id="t17"><polygon points="498,353.4 545.7,306.7 545.7,353.4"/></clipPath>
<clipPath id="c18"><rect x="445.65" y="357.35" width="46.5" height="46.6"/></clipPath>
<clipPath id="c19"><rect x="566.65" y="254.85" width="46.7" height="46.8"/></clipPath>
<clipPath id="c20"><rect x="619.85" y="254.85" width="46.5" height="46.8"/></clipPath>
<clipPath id="t20"><polygon points="619.4,302.1 666.8,254.4 666.8,302.1"/></clipPath>
<clipPath id="c21"><rect x="566.65" y="306.95" width="46.7" height="46.1"/></clipPath>
<clipPath id="t21"><polygon points="566.2,353.5 613.8,306.5 613.8,353.5"/></clipPath>
<clipPath id="c22"><rect x="619.85" y="306.95" width="46.5" height="46.1"/></clipPath>
<clipPath id="t22"><polygon points="619.4,353.5 666.8,306.5 666.8,353.5"/></clipPath>
</defs>
<path d="M207.8 239.7 l7.4 0 l-0.4 2.2 l-0.8 8.8 l-5 0 l-0.8 -8.8 Z" fill="#fff"/>
<rect x="209.2" y="242.7" width="4.6" height="0.9" fill="#1d1d1b"/>
<rect x="209.8" y="244.9" width="3.4" height="2.6" fill="#1d1d1b"/>
<rect x="209.8" y="248.7" width="3.4" height="0.7" fill="#1d1d1b"/>
<path d="M224.9 239.9 q2.6 -1 5.4 0 l0 9.4 l-2.7 1.6 l-2.7 -1.6 Z" fill="#fff"/>
<rect x="225.9" y="243.5" width="3.4" height="3.6" fill="#1d1d1b"/>
<rect x="226.9" y="244.1" width="1.4" height="2.4" fill="#fff"/>
<rect x="226.7" y="240.9" width="1.8" height="1.2" fill="#1d1d1b"/>
<rect x="226.3" y="248.3" width="2.6" height="0.8" fill="#1d1d1b"/>
<path d="M241.7 248.9 l0 -4.8 l-4 -2.4 l0.6 -1.2 l4.6 1.4 l3.4 -2.6 l1.4 0.8 l-3.2 4.2 l0 4.6 Z" fill="#fff"/>
<path d="M209.4 361.4 q2 -0.9 4.2 0 l-0.2 8.8 l-1.9 0.9 l-1.9 -0.9 Z" fill="#fff"/>
<rect x="210.6" y="363" width="1.8" height="3.6" fill="#1d1d1b"/>
<path d="M226.2 370.2 l0 -4.8 l-4 -2.4 l0.6 -1.2 l4.6 1.4 l3.4 -2.6 l1.4 0.8 l-3.2 4.2 l0 4.6 Z" fill="#fff"/>
<path d="M461.7 240.1 q2 -0.9 4.2 0 l-0.2 8.8 l-1.9 0.9 l-1.9 -0.9 Z" fill="#fff"/>
<rect x="462.9" y="241.7" width="1.8" height="3.6" fill="#1d1d1b"/>
<path d="M475.2 245.9 q2.8 0.8 4.4 -0.6 l3.8 -4 l1.8 1 l-2.4 5 l-7.6 0.9 Z" fill="#fff"/>
<line x1="475.2" y1="248.5" x2="483" y2="247.7" stroke="#fff" stroke-width="0.92"/>
<path d="M580.4 250.2 l0 -6.6 q0 -1.8 1.8 -1.8 l6.2 0 M583.6 241.7 l0 -1.6 M581.6 240.1 l4 0" fill="none" stroke="#fff" stroke-width="2.24"/>
<g clip-path="url(#c0)">
<ellipse cx="200.4" cy="270.6" rx="4.9" ry="2.6" fill="#fff" stroke="#1d1d1b" stroke-width="1.45"/>
<ellipse cx="200.4" cy="270.8" rx="3.6" ry="1.6" fill="none" stroke="#1d1d1b" stroke-width="0.59"/>
<rect x="200" y="273.4" width="0.8" height="3.6" fill="#1d1d1b"/>
<polygon points="198.8,276.2 202,276.2 200.4,279.6" fill="#1d1d1b"/>
<path d="M194.62 283.85 q6.17 -3.04 12.35 0 l-0.57 3.23 q-5.61 2.85 -11.21 0 Z" fill="#1d1d1b" stroke="#1d1d1b" stroke-width="1.06"/>
<ellipse cx="200.8" cy="283.85" rx="6.17" ry="1.99" fill="#fff" stroke="#1d1d1b" stroke-width="0.92"/>
<path d="M197.57 281.38 L200.8 283.66 L204.03 281.19 M199.85 280.62 L200.8 283.66 L202.13 280.43" fill="none" stroke="#1d1d1b" stroke-width="1.13"/>
<rect x="198.33" y="287.27" width="4.94" height="2.09" fill="#1d1d1b"/>
<line x1="206.4" y1="276" x2="210.62" y2="276" stroke="#1d1d1b" stroke-width="1.06"/>
<polygon points="211.6,276 209.76,277.01 209.76,274.99" fill="#1d1d1b"/>
<path d="M213.6 251.6 L216 273.9 Q222.6 277.6 229.2 273.9 L231.6 251.6 Z" fill="#fff" stroke="#1d1d1b" stroke-width="1.19"/>
<line x1="217.65" y1="254.3" x2="219.33" y2="272.4" stroke="#777" stroke-width="0.66"/>
<line x1="227.55" y1="254.3" x2="225.87" y2="272.4" stroke="#777" stroke-width="0.66"/>
<line x1="222.6" y1="256.3" x2="222.6" y2="272.9" stroke="#1d1d1b" stroke-width="0.92"/>
<path d="M215.6 275.6 l0 2.6 q7 3 14 0 l0 -2.6" fill="#fff" stroke="#1d1d1b" stroke-width="1.06"/>
<path d="M216.6 281.6 q-0.6 2 1 2.8 M222.6 279.4 l0 5" fill="none" stroke="#1d1d1b" stroke-width="1.06"/>
<ellipse cx="222.8" cy="289.4" rx="7.2" ry="3.4" fill="#fff" stroke="#1d1d1b" stroke-width="2.11"/>
<ellipse cx="222.8" cy="288.8" rx="4" ry="1.7" fill="#1d1d1b"/>
<path d="M229.6 291.6 q1.6 1 0.6 3" fill="none" stroke="#1d1d1b" stroke-width="1.06"/>
<rect x="234.4" y="265.6" width="55" height="29.6" fill="#fff" stroke="#1d1d1b" stroke-width="1.19" rx="4.6"/>
<path d="M229.6 276 Q232 274 234.4 277" fill="none" stroke="#1d1d1b" stroke-width="0.92"/>
<path d="M238.4 262 L241 285.9 Q248.2 289.6 255.4 285.9 L258 262 Z" fill="#fff" stroke="#1d1d1b" stroke-width="1.19"/>
<line x1="242.81" y1="264.94" x2="244.64" y2="284.4" stroke="#777" stroke-width="0.66"/>
<line x1="253.59" y1="264.94" x2="251.76" y2="284.4" stroke="#777" stroke-width="0.66"/>
<line x1="248.2" y1="266.94" x2="248.2" y2="284.9" stroke="#1d1d1b" stroke-width="0.92"/>
<rect x="234.9" y="258" width="54" height="7.2" fill="#fff"/>
<line x1="239" y1="265.6" x2="258" y2="265.6" stroke="#1d1d1b" stroke-width="1.19"/>
<path d="M241.4 284.6 q7 -3.6 13.6 0 l0 2.6 q-6.8 2.2 -13.6 0 Z" fill="#1d1d1b"/>
<path d="M240 287.4 q8.4 4.6 16.6 0 l0 1.4 q-8.4 3.6 -16.6 0 Z" fill="#fff" stroke="#1d1d1b" stroke-width="0.92"/>
<ellipse cx="271.8" cy="283.8" rx="7.8" ry="7.8" fill="#8c8d8f" stroke="#1d1d1b" stroke-width="1.32"/>
<rect x="270.4" y="282.4" width="2.8" height="2.8" fill="#1d1d1b"/>
<path d="M264.4 283.8 l5 0 M271.8 276 l0 -3.4 M277 277.6 l2 -2.4" fill="none" stroke="#1d1d1b" stroke-width="0.92"/>
<polygon points="281.4,277.6 285.6,281.6 281.2,283.2" fill="#1d1d1b"/>
<path d="M278.6 275.8 q3.6 1.2 4.6 4.6" fill="none" stroke="#1d1d1b" stroke-width="1.58"/>
<line x1="257" y1="284.4" x2="264" y2="284" stroke="#1d1d1b" stroke-width="0.79"/>
<path d="M262.6 288.4 l-2 2 M280 289 l2.4 2" fill="none" stroke="#1d1d1b" stroke-width="0.79"/>
<ellipse cx="197.5" cy="259.4" rx="3.8" ry="3.8" fill="#8a8b8d"/>
<text x="197.5" y="261.05" font-size="4.7" fill="#fff" font-weight="bold" text-anchor="middle" stroke="#fff" stroke-width=".25">1</text>
</g>
<g clip-path="url(#c1)">
<path d="M310.8 252 L313 271.4 Q320 276.4 327.6 271.4 L329.6 252 Z" fill="#a4a5a7" stroke="#1d1d1b" stroke-width="1.06"/>
<line x1="315.4" y1="254" x2="316.32" y2="270" stroke="#555" stroke-width="0.92"/>
<line x1="319.2" y1="254" x2="319.36" y2="270" stroke="#555" stroke-width="0.92"/>
<line x1="322.8" y1="254" x2="322.24" y2="270" stroke="#555" stroke-width="0.92"/>
<line x1="326" y1="254" x2="324.8" y2="270" stroke="#555" stroke-width="0.92"/>
<path d="M312.6 267.6 q7.6 4.6 15.2 0 l-0.4 4 q-7.2 4.6 -14.4 0 Z" fill="#6f7072"/>
<path d="M331.9 269.4 Q327.35 274.8 321.5 272.8" fill="none" stroke="#1d1d1b" stroke-width="2.51"/>
<polygon points="318.3,272.2 322.5,269.8 322.3,275.2" fill="#1d1d1b"/>
<path d="M313.6 276.6 q-1.8 1.6 -0.4 3.6 M335.4 268.4 q1.8 -0.2 1.8 2" fill="none" stroke="#1d1d1b" stroke-width="0.92"/>
<rect x="318.72" y="275.4" width="2.16" height="7.6" fill="#1d1d1b"/>
<polygon points="316.28,282.2 323.32,282.2 319.8,285.6" fill="#1d1d1b"/>
<path d="M310.2 286.8 Q309 292.1 308.6 301.6 L331.4 301.6 Q331 292.1 329.8 286.8 Z" fill="#fff" stroke="#1d1d1b" stroke-width="1.19"/>
<ellipse cx="320" cy="287.8" rx="9.8" ry="4.2" fill="#1d1d1b" stroke="#1d1d1b" stroke-width="1.06"/>
<path d="M312.8 287 l3.43 -1.8 l3.14 2.6 l3.14 -2.6 l3.43 1.8" fill="none" stroke="#fff" stroke-width="1.06"/>
<line x1="312.8" y1="293.6" x2="312.2" y2="300.6" stroke="#1d1d1b" stroke-width="0.79"/>
<line x1="327.2" y1="293.6" x2="327.8" y2="300.6" stroke="#1d1d1b" stroke-width="0.79"/>
<ellipse cx="301.5" cy="259.4" rx="3.8" ry="3.8" fill="#8a8b8d"/>
<text x="301.5" y="261.05" font-size="4.7" fill="#fff" font-weight="bold" text-anchor="middle" stroke="#fff" stroke-width=".25">2</text>
</g>
<g clip-path="url(#c2)">
<line x1="370.2" y1="301.4" x2="385.8" y2="253.4" stroke="#1d1d1b" stroke-width="1.19"/>
<path d="M350.9 280.2 L353.6 302 Q360.2 305.7 366.8 302 L369.5 280.2 Z" fill="#fff" stroke="#1d1d1b" stroke-width="1.19"/>
<line x1="355.08" y1="282.99" x2="356.93" y2="300.5" stroke="#777" stroke-width="0.66"/>
<line x1="365.31" y1="282.99" x2="363.47" y2="300.5" stroke="#777" stroke-width="0.66"/>
<line x1="360.2" y1="284.99" x2="360.2" y2="301" stroke="#1d1d1b" stroke-width="0.92"/>
<ellipse cx="360.2" cy="280.2" rx="9.3" ry="2.79" fill="#fff" stroke="#1d1d1b" stroke-width="1.19"/>
<ellipse cx="360.2" cy="280.5" rx="7.7" ry="1.89" fill="none" stroke="#1d1d1b" stroke-width="0.59"/>
<polygon points="361.87,270.4 361.15,272.3 359.21,273.46 357.11,272.69 355.22,271.49 355.56,269.42 357.12,268.13 359.22,267.3 361.05,268.57" fill="#8a8b8d" stroke="#8a8b8d" stroke-width="0.53" stroke-linejoin="round"/>
<ellipse cx="358.6" cy="270.4" rx="3.4" ry="3" fill="none" stroke="#1d1d1b" stroke-width="0.79"/>
<polygon points="367.03,268.4 366.3,270.41 364.18,271.3 361.86,271.09 360.26,269.48 360.49,267.39 362.13,266.14 364.13,265.75 365.94,266.66" fill="#8a8b8d" stroke="#8a8b8d" stroke-width="0.53" stroke-linejoin="round"/>
<ellipse cx="363.6" cy="268.4" rx="3.4" ry="3" fill="none" stroke="#1d1d1b" stroke-width="0.79"/>
<polygon points="364.03,274.2 363.3,275.92 361.56,277.05 359.29,276.83 357.62,275.29 358.07,273.25 359.37,271.69 361.53,271.53 363.55,272.3" fill="#8a8b8d" stroke="#8a8b8d" stroke-width="0.53" stroke-linejoin="round"/>
<ellipse cx="361" cy="274.2" rx="3.4" ry="3" fill="none" stroke="#1d1d1b" stroke-width="0.79"/>
<polygon points="368.91,272.8 368.23,274.47 366.62,275.92 364.23,275.52 363.18,273.71 363.12,271.87 364.44,270.4 366.59,269.84 368.42,270.99" fill="#8a8b8d" stroke="#8a8b8d" stroke-width="0.53" stroke-linejoin="round"/>
<ellipse cx="366" cy="272.8" rx="3.4" ry="3" fill="none" stroke="#1d1d1b" stroke-width="0.79"/>
<path d="M382.1 280.2 L384.8 302 Q391.4 305.7 398 302 L400.7 280.2 Z" fill="#fff" stroke="#1d1d1b" stroke-width="1.19"/>
<line x1="386.28" y1="282.99" x2="388.13" y2="300.5" stroke="#777" stroke-width="0.66"/>
<line x1="396.51" y1="282.99" x2="394.67" y2="300.5" stroke="#777" stroke-width="0.66"/>
<line x1="391.4" y1="284.99" x2="391.4" y2="301" stroke="#1d1d1b" stroke-width="0.92"/>
<ellipse cx="391.4" cy="280.2" rx="9.3" ry="2.79" fill="#fff" stroke="#1d1d1b" stroke-width="1.19"/>
<ellipse cx="391.4" cy="280.5" rx="7.7" ry="1.89" fill="none" stroke="#1d1d1b" stroke-width="0.59"/>
<rect x="386.8" y="259.6" width="10" height="17.6" fill="#a6a7a9" stroke="#1d1d1b" stroke-width="1.06"/>
<rect x="386.8" y="258" width="10" height="3.6" fill="#555"/>
<rect x="389.6" y="264.6" width="4.4" height="6" fill="#ddd" stroke="#1d1d1b" stroke-width="0.79"/>
<line x1="391.8" y1="265.6" x2="391.8" y2="269.6" stroke="#1d1d1b" stroke-width="1.06"/>
<rect x="391.35" y="276.6" width="0.9" height="3.8" fill="#1d1d1b"/>
<polygon points="390,279.6 393.6,279.6 391.8,283" fill="#1d1d1b"/>
<line x1="402" y1="290" x2="406.02" y2="290" stroke="#1d1d1b" stroke-width="1.06"/>
<polygon points="407,290 405.16,291.01 405.16,288.99" fill="#1d1d1b"/>
<path d="M407.9 280.2 L410.6 302 Q417.2 305.7 423.8 302 L426.5 280.2 Z" fill="#fff" stroke="#1d1d1b" stroke-width="1.19"/>
<line x1="412.08" y1="282.99" x2="413.93" y2="300.5" stroke="#777" stroke-width="0.66"/>
<line x1="422.31" y1="282.99" x2="420.47" y2="300.5" stroke="#777" stroke-width="0.66"/>
<line x1="417.2" y1="284.99" x2="417.2" y2="301" stroke="#1d1d1b" stroke-width="0.92"/>
<ellipse cx="417.2" cy="280.2" rx="9.3" ry="2.79" fill="#fff" stroke="#1d1d1b" stroke-width="1.19"/>
<ellipse cx="417.2" cy="280.5" rx="7.7" ry="1.89" fill="none" stroke="#1d1d1b" stroke-width="0.59"/>
<polygon points="423.13,270.4 422.92,272.37 421.27,274.05 418.19,273.49 416,274.15 414.04,273.23 412.29,272.09 411.27,270.4 412.74,268.87 413.84,267.39 416.13,267.05 418.35,266.82 420.1,267.8 422.4,268.61" fill="#1d1d1b" stroke="#1d1d1b" stroke-width="0.53" stroke-linejoin="round"/>
<line x1="417.2" y1="272" x2="417.2" y2="281" stroke="#1d1d1b" stroke-width="1.06"/>
<rect x="413.8" y="283.6" width="6.8" height="6.4" fill="#fff" stroke="#1d1d1b" stroke-width="1.32"/>
<rect x="415.4" y="285.4" width="3.6" height="1.6" fill="#1d1d1b"/>
<ellipse cx="354" cy="259.4" rx="3.8" ry="3.8" fill="#8a8b8d"/>
<text x="354" y="261.05" font-size="4.7" fill="#fff" font-weight="bold" text-anchor="middle" stroke="#fff" stroke-width=".25">3</text>
</g>
<g clip-path="url(#c3)">
<ellipse cx="210.2" cy="308.8" rx="7.4" ry="2.9" fill="#444" stroke="#1d1d1b" stroke-width="1.06"/>
<ellipse cx="210.2" cy="308.2" rx="4.2" ry="1.3" fill="#aaa"/>
<path d="M218.6 309.6 l3.6 0.8" fill="none" stroke="#1d1d1b" stroke-width="0.92" stroke-dasharray="1 .8"/>
<rect x="209.8" y="312.4" width="0.8" height="4.6" fill="#1d1d1b"/>
<polygon points="208.6,316.2 211.8,316.2 210.2,319.6" fill="#1d1d1b"/>
<path d="M206.4 314.6 l0 1.2" fill="none" stroke="#1d1d1b" stroke-width="1.19"/>
<path d="M203 321.8 L205 343.5 Q209.6 347.2 214.2 343.5 L216.2 321.8 Z" fill="#fff" stroke="#1d1d1b" stroke-width="1.19"/>
<line x1="205.97" y1="323.78" x2="207.32" y2="342" stroke="#777" stroke-width="0.66"/>
<line x1="213.23" y1="323.78" x2="211.88" y2="342" stroke="#777" stroke-width="0.66"/>
<line x1="209.6" y1="325.78" x2="209.6" y2="342.5" stroke="#1d1d1b" stroke-width="0.92"/>
<path d="M203 321.8 q-3.2 -1.2 -3.6 0.8 q0.6 1.8 3 2.6 Z" fill="#fff" stroke="#1d1d1b" stroke-width="1.19"/>
<ellipse cx="209.6" cy="321.8" rx="6.6" ry="1.98" fill="#fff" stroke="#1d1d1b" stroke-width="1.19"/>
<ellipse cx="209.6" cy="322.1" rx="5" ry="1.08" fill="none" stroke="#1d1d1b" stroke-width="0.59"/>
<polygon points="191.5,351.4 237.9,305.1 237.9,351.4" fill="#fff"/>
<path d="M215 334.6 L217.6 353.5 Q223.6 357.2 229.6 353.5 L232.2 334.6 Z" fill="#fff" stroke="#1d1d1b" stroke-width="1.19"/>
<line x1="218.87" y1="337.18" x2="220.63" y2="352" stroke="#777" stroke-width="0.66"/>
<line x1="228.33" y1="337.18" x2="226.57" y2="352" stroke="#777" stroke-width="0.66"/>
<line x1="223.6" y1="339.18" x2="223.6" y2="352.5" stroke="#1d1d1b" stroke-width="0.92"/>
<path d="M215 334.6 q-3.2 -1.2 -3.6 0.8 q0.6 1.8 3 2.6 Z" fill="#fff" stroke="#1d1d1b" stroke-width="1.19"/>
<ellipse cx="223.6" cy="334.6" rx="8.6" ry="2.58" fill="#fff" stroke="#1d1d1b" stroke-width="1.19"/>
<ellipse cx="223.6" cy="334.9" rx="7" ry="1.68" fill="none" stroke="#1d1d1b" stroke-width="0.59"/>
<ellipse cx="223.6" cy="334.2" rx="6.4" ry="1.8" fill="#c4c5c7" stroke="#1d1d1b" stroke-width="0.79"/>
<line x1="191.6" y1="351.3" x2="237.8" y2="305.2" stroke="#1d1d1b" stroke-width="1.39"/>
<ellipse cx="197.5" cy="310.8" rx="3.8" ry="3.8" fill="#8a8b8d"/>
<text x="197.5" y="312.45" font-size="4.7" fill="#fff" font-weight="bold" text-anchor="middle" stroke="#fff" stroke-width=".25">4</text>
</g>
<g clip-path="url(#c4)">
<polygon points="255.6,321.2 259.8,317 261,315.9 262.7,316.8 262.7,325.6 261,326.6 259.8,325.4" fill="#1d1d1b"/>
<rect x="251.9" y="320.4" width="5.4" height="1.6" fill="#1d1d1b"/>
<rect x="262.6" y="318.3" width="3.9" height="1.6" fill="#1d1d1b"/>
<rect x="262.6" y="322.3" width="3.9" height="1.7" fill="#1d1d1b"/>
<polygon points="243.6,351.4 290.4,305.1 290.4,351.4" fill="#fff"/>
<g clip-path="url(#t4)">
<path d="M 273.8 323.8 L 272.3 328.8 L 288.3 328.8 L 289.8 304.8 L 284.3 304.8 L 283.3 321.8 Z" fill="#fff" stroke="#1d1d1b" stroke-width="0.92"/>
<path d="M 271.8 328.8 L 271.8 334.3 Q 279.3 337.3 288.8 334.3 L 288.8 328.8 Z" fill="#e4e5e6" stroke="#1d1d1b" stroke-width="0.92"/>
<path d="M 286.5 304.8 L 286.5 318.8 M 288.9 304.8 L 288.9 318.8" fill="none" stroke="#1d1d1b" stroke-width="1.19"/>
<path d="M 285.9 314.3 L 289.7 314.3 L 289.7 320.3 L 285.9 320.3 Z" fill="#1d1d1b"/>
<path d="M 291.3 321.8 L 281.8 321.8 Q 279.7 323.6 281.8 325.4 L 291.3 325.4" fill="#fff" stroke="#1d1d1b" stroke-width="1.19"/>
<ellipse cx="282.7" cy="323.6" rx="0.9" ry="0.9" fill="#fff" stroke="#1d1d1b" stroke-width="0.79"/>
<path d="M 272.3 324.4 L 279.8 324.4" fill="none" stroke="#1d1d1b" stroke-width="1.06" stroke-dasharray="1.6 1"/>
<path d="M 273.8 331.2 L 284.8 331.2" fill="none" stroke="#1d1d1b" stroke-width="1.06" stroke-dasharray="2 1.1"/>
<path d="M 267.3 334.8 Q 265.8 344.8 268.3 349.3 Q 278.3 354.3 288.3 349.3 Q 290.9 344.8 289.3 334.8 Z" fill="#fff" stroke="#1d1d1b" stroke-width="1.06"/>
<path d="M 269.3 329.8 L 271.9 329.8 L 271.9 338.3 L 269.3 338.3 Z" fill="#1d1d1b"/>
<path d="M 268.3 330.4 L 270.6 327 L 272.9 330.4 Z" fill="#1d1d1b"/>
<path d="M 265.7 336.4 L 272.7 336.4 L 272.7 339.4 L 265.7 339.4 Z" fill="#1d1d1b"/>
<path d="M 274.8 335.3 L 281.8 335.3 L 281.8 339.3 L 274.8 339.3 Z" fill="#1d1d1b"/>
<path d="M 276.3 336.4 L 279.7 336.4 M 276.3 338 L 278.3 338" fill="none" stroke="#fff" stroke-width="0.79"/>
<ellipse cx="279.9" cy="341.2" rx="2.8" ry="2" fill="#fff" stroke="#1d1d1b" stroke-width="1.19"/>
<path d="M 274.3 340.8 Q 275.8 343.3 278.3 342.8" fill="none" stroke="#1d1d1b" stroke-width="1.19"/>
<path d="M 285.7 332.8 L 285.7 343.3 M 288.2 330.8 L 288.2 345.3" fill="none" stroke="#1d1d1b" stroke-width="1.19"/>
<path d="M 269.3 341.8 Q 278.3 352.3 288.8 343.3 M 271.3 345.3 Q 278.3 353.3 286.9 346.8 M 273.7 348.4 Q 278.8 352.4 284.3 349.2" fill="none" stroke="#1d1d1b" stroke-width="1.19"/>
<path d="M 247.9 352.2 L 267.7 338.4 M 256.9 352.2 L 270.9 344.4 M 261.3 341.2 L 264.9 343.4" fill="none" stroke="#1d1d1b" stroke-width="1.19"/>
<path d="M 265.3 351.7 Q 270.3 347.8 273.3 349.4" fill="none" stroke="#1d1d1b" stroke-width="0.92"/>
</g>
<line x1="243.7" y1="351.3" x2="290.3" y2="305.2" stroke="#1d1d1b" stroke-width="1.39"/>
<ellipse cx="249.6" cy="310.8" rx="3.8" ry="3.8" fill="#8a8b8d"/>
<text x="249.6" y="312.45" font-size="4.7" fill="#fff" font-weight="bold" text-anchor="middle" stroke="#fff" stroke-width=".25">5</text>
</g>
<g clip-path="url(#c5)">
<polygon points="308.8,320.8 311.4,318.2 312.4,317.6 313.4,318.2 313.4,323.4 312.4,324 311.4,323.4" fill="#1d1d1b"/>
<rect x="306.6" y="320.3" width="3" height="1" fill="#1d1d1b"/>
<rect x="313.3" y="318.9" width="2.6" height="1" fill="#1d1d1b"/>
<rect x="313.3" y="321.6" width="2.6" height="1" fill="#1d1d1b"/>
<line x1="304" y1="327.4" x2="318.4" y2="314" stroke="#1d1d1b" stroke-width="1.19"/>
<polygon points="295.5,351.4 342.2,305.1 342.2,351.4" fill="#fff"/>
<path d="M315.4 337.4 L318.4 356.5 Q326.6 360.2 334.8 356.5 L337.8 337.4 Z" fill="#fff" stroke="#1d1d1b" stroke-width="1.19"/>
<line x1="320.44" y1="340.76" x2="322.54" y2="355" stroke="#777" stroke-width="0.66"/>
<line x1="332.76" y1="340.76" x2="330.66" y2="355" stroke="#777" stroke-width="0.66"/>
<line x1="326.6" y1="342.76" x2="326.6" y2="355.5" stroke="#1d1d1b" stroke-width="0.92"/>
<ellipse cx="326.6" cy="338.6" rx="11.4" ry="4.4" fill="#8c8d8f" stroke="#1d1d1b" stroke-width="1.19"/>
<ellipse cx="326.6" cy="337.8" rx="7.4" ry="2.2" fill="#b9b9bb" stroke="#555" stroke-width="0.79"/>
<path d="M315.2 340.6 q11.4 6.4 22.8 0" fill="none" stroke="#1d1d1b" stroke-width="1.06"/>
<line x1="295.6" y1="351.3" x2="342.1" y2="305.2" stroke="#1d1d1b" stroke-width="1.39"/>
<ellipse cx="301.5" cy="310.8" rx="3.8" ry="3.8" fill="#8a8b8d"/>
<text x="301.5" y="312.45" font-size="4.7" fill="#fff" font-weight="bold" text-anchor="middle" stroke="#fff" stroke-width=".25">6</text>
</g>
<g clip-path="url(#c6)">
<path d="M366.4 316.6 L388.4 319.6 Q391.6 323.6 388.6 328.4 L366.6 330.6 Z" fill="#fff" stroke="#555" stroke-width="1.19"/>
<path d="M370 318.6 l16 2.4 M370 328.8 l16 -1.6" fill="none" stroke="#999" stroke-width="0.66"/>
<ellipse cx="364.6" cy="322.8" rx="2.8" ry="9.2" fill="#444" stroke="#1d1d1b" stroke-width="1.06"/>
<ellipse cx="365.2" cy="322.8" rx="1.2" ry="6" fill="#aaa"/>
<path d="M363.6 331.4 q-1.2 2 -1 4.6" fill="none" stroke="#1d1d1b" stroke-width="1.58"/>
<rect x="358.2" y="335" width="7.4" height="12.8" fill="#fff" stroke="#1d1d1b" stroke-width="1.06"/>
<rect x="358.8" y="338" width="6.2" height="9.4" fill="#8e8f91"/>
<ellipse cx="354" cy="310.8" rx="3.8" ry="3.8" fill="#8a8b8d"/>
<text x="354" y="312.45" font-size="4.7" fill="#fff" font-weight="bold" text-anchor="middle" stroke="#fff" stroke-width=".25">7</text>
</g>
<g clip-path="url(#c7)">
<path d="M199.4 394 l1 18 l9.6 0 l1.4 -18 Z" fill="#fff" stroke="#1d1d1b" stroke-width="1.19"/>
<ellipse cx="205.4" cy="391.2" rx="7.6" ry="4.6" fill="#555" stroke="#1d1d1b" stroke-width="1.19"/>
<ellipse cx="205" cy="389.8" rx="5" ry="2.2" fill="#c4c5c7" stroke="#1d1d1b" stroke-width="0.66"/>
<path d="M198.6 392.6 q7 4.6 14 0" fill="none" stroke="#fff" stroke-width="0.79"/>
<path d="M205.6 400 q1.6 2 -0.4 4 q-1.6 2 0.4 4" fill="none" stroke="#1d1d1b" stroke-width="1.19"/>
<polygon points="191.5,422 237.9,375.5 237.9,422" fill="#fff"/>
<polygon points="225.8,397.6 224.85,399.15 223.14,400.1 221.16,399.66 219.9,398.41 219.46,396.66 220.91,395.18 223.07,395.42 225.04,395.92" fill="#8a8b8d" stroke="#8a8b8d" stroke-width="0.53" stroke-linejoin="round"/>
<ellipse cx="222.6" cy="397.6" rx="3" ry="2.5" fill="none" stroke="#444" stroke-width="0.79"/>
<polygon points="230.47,396.2 229.72,397.67 228.07,398.41 226.3,398.05 225,396.98 225.14,395.46 225.91,393.79 228.12,393.76 229.59,394.82" fill="#8a8b8d" stroke="#8a8b8d" stroke-width="0.53" stroke-linejoin="round"/>
<ellipse cx="227.6" cy="396.2" rx="3" ry="2.5" fill="none" stroke="#444" stroke-width="0.79"/>
<polygon points="234.52,399.4 233.91,401.13 231.89,401.71 229.73,401.78 228.63,400.23 228.5,398.53 229.72,397.01 231.92,396.99 233.98,397.62" fill="#8a8b8d" stroke="#8a8b8d" stroke-width="0.53" stroke-linejoin="round"/>
<ellipse cx="231.4" cy="399.4" rx="3" ry="2.5" fill="none" stroke="#444" stroke-width="0.79"/>
<polygon points="228.81,401.2 227.58,402.57 226.17,403.87 224.2,403.2 222.47,402.14 222.6,400.3 224.32,399.38 226.16,398.59 227.79,399.69" fill="#8a8b8d" stroke="#8a8b8d" stroke-width="0.53" stroke-linejoin="round"/>
<ellipse cx="225.6" cy="401.2" rx="3" ry="2.5" fill="none" stroke="#444" stroke-width="0.79"/>
<polygon points="232.19,402.4 231.59,403.77 230.18,405.12 227.94,404.77 227.07,403.16 226.99,401.62 228.18,400.38 230.14,399.85 231.81,400.87" fill="#8a8b8d" stroke="#8a8b8d" stroke-width="0.53" stroke-linejoin="round"/>
<ellipse cx="229.6" cy="402.4" rx="3" ry="2.5" fill="none" stroke="#444" stroke-width="0.79"/>
<line x1="226.4" y1="403.6" x2="226.4" y2="408" stroke="#1d1d1b" stroke-width="1.06"/>
<path d="M218.2 406.4 l1 17 l11.4 0 l1 -17 Z" fill="#fff" stroke="#1d1d1b" stroke-width="1.19"/>
<path d="M217.8 405.6 l3.6 1.2 l3.6 -1.6 l3.4 1.6 l3.8 -1.4 l-0.4 8.2 q-6.6 3 -13.6 0 Z" fill="#1d1d1b"/>
<ellipse cx="226.6" cy="418.8" rx="1.4" ry="1.2" fill="#1d1d1b"/>
<line x1="191.6" y1="421.9" x2="237.8" y2="375.6" stroke="#1d1d1b" stroke-width="1.39"/>
<ellipse cx="197.5" cy="381.2" rx="3.8" ry="3.8" fill="#8a8b8d"/>
<text x="197.5" y="382.85" font-size="4.7" fill="#fff" font-weight="bold" text-anchor="middle" stroke="#fff" stroke-width=".25">1</text>
</g>
<g clip-path="url(#c8)">
<ellipse cx="253.2" cy="391.6" rx="5.4" ry="2.6" fill="#fff" stroke="#1d1d1b" stroke-width="1.45"/>
<ellipse cx="253.2" cy="391.8" rx="4.1" ry="1.6" fill="none" stroke="#1d1d1b" stroke-width="0.59"/>
<line x1="253.2" y1="394.2" x2="253.2" y2="400.6" stroke="#1d1d1b" stroke-width="1.19"/>
<path d="M247.35 405.5 q5.85 -2.88 11.7 0 l-0.54 3.06 q-5.31 2.7 -10.62 0 Z" fill="#1d1d1b" stroke="#1d1d1b" stroke-width="1.06"/>
<ellipse cx="253.2" cy="405.5" rx="5.85" ry="1.89" fill="#fff" stroke="#1d1d1b" stroke-width="0.92"/>
<path d="M250.14 403.16 L253.2 405.32 L256.26 402.98 M252.3 402.44 L253.2 405.32 L254.46 402.26" fill="none" stroke="#1d1d1b" stroke-width="1.07"/>
<rect x="250.86" y="408.74" width="4.68" height="1.98" fill="#1d1d1b"/>
<line x1="261.2" y1="401.2" x2="265.62" y2="401.2" stroke="#1d1d1b" stroke-width="1.06"/>
<polygon points="266.6,401.2 264.76,402.21 264.76,400.19" fill="#1d1d1b"/>
<polygon points="282.89,383.2 281.55,384.98 279.73,386.66 276.4,386.37 273.14,386.58 271.34,384.95 271.35,383.2 271.06,381.35 273.92,380.62 276.4,379.92 279.32,380.16 281.32,381.5" fill="#555" stroke="#555" stroke-width="0.53" stroke-linejoin="round"/>
<ellipse cx="275" cy="382.2" rx="3.2" ry="1.6" fill="#c4c5c7"/>
<path d="M266.4 388.4 l1.4 -2.4 M267 392 l4 0 M279 392 l4 0" fill="none" stroke="#1d1d1b" stroke-width="0.92"/>
<rect x="274.95" y="388.6" width="0.9" height="5.8" fill="#1d1d1b"/>
<polygon points="273.5,393.6 277.3,393.6 275.4,397" fill="#1d1d1b"/>
<path d="M268.4 397.6 l0.8 21.6 q5.6 2.4 11.2 0 l0.8 -21.6 Z" fill="#fff" stroke="#1d1d1b" stroke-width="1.19"/>
<path d="M267.8 396.4 l3.4 1.6 l3.6 -2 l3.6 2 l3.8 -1.6 l-0.4 7.2 q-6.6 2.6 -13.6 0 Z" fill="#1d1d1b"/>
<polygon points="277.91,413.4 278.44,416.27 276.23,417.24 274.26,417.97 272.73,416.33 271.09,414.74 271.74,412.3 272.06,409.51 274.36,409.65 276.4,409.1 278.3,410.64" fill="#444" stroke="#444" stroke-width="0.53" stroke-linejoin="round"/>
<path d="M274 408 l1.6 -2" fill="none" stroke="#1d1d1b" stroke-width="1.06"/>
<rect x="286" y="387.6" width="55.6" height="29.8" fill="#fff" stroke="#1d1d1b" stroke-width="1.19" rx="5"/>
<path d="M282 397.6 Q284.6 396 286 399" fill="none" stroke="#1d1d1b" stroke-width="0.92"/>
<clipPath id="e8"><rect x="286.4" y="388" width="54.8" height="29" rx="4.6"/></clipPath><g clip-path="url(#e8)">
<path d="M291.2 386 L290.6 404 L305.6 404 L305 386 Z" fill="#fff" stroke="#1d1d1b" stroke-width="1.06"/>
<rect x="292.4" y="388" width="6.6" height="15" fill="#c4c5c7"/>
<ellipse cx="300.2" cy="390" rx="1.6" ry="1.1" fill="#fff" stroke="#1d1d1b" stroke-width="0.79" transform="rotate(-30 300.2 390)"/>
<ellipse cx="299.6" cy="393" rx="1.6" ry="1.1" fill="#fff" stroke="#1d1d1b" stroke-width="0.79" transform="rotate(-30 299.6 393)"/>
<ellipse cx="299" cy="396" rx="1.6" ry="1.1" fill="#fff" stroke="#1d1d1b" stroke-width="0.79" transform="rotate(-30 299 396)"/>
<ellipse cx="298.4" cy="399" rx="1.6" ry="1.1" fill="#fff" stroke="#1d1d1b" stroke-width="0.79" transform="rotate(-30 298.4 399)"/>
<ellipse cx="297.8" cy="402" rx="1.6" ry="1.1" fill="#fff" stroke="#1d1d1b" stroke-width="0.79" transform="rotate(-30 297.8 402)"/>
<path d="M288.6 404 q9.6 -3.2 18.8 0 l0 4.6 q-9.4 4.6 -18.8 0 Z" fill="#1d1d1b"/>
<path d="M289.6 410.6 q8.6 3.6 16.8 0" fill="none" stroke="#1d1d1b" stroke-width="1.06"/>
</g>
<ellipse cx="324.4" cy="405.6" rx="8.4" ry="8.4" fill="#8c8d8f" stroke="#1d1d1b" stroke-width="1.32"/>
<rect x="322.8" y="404" width="3" height="3" fill="#1d1d1b"/>
<path d="M307.6 406 l8 -0.4 M316.6 405.6 l5 0 M324.4 397 l0 -4 M330 399 l2 -2.6" fill="none" stroke="#1d1d1b" stroke-width="0.92"/>
<polygon points="335,399.4 339.2,404 334.4,405.2" fill="#1d1d1b"/>
<path d="M331.6 396.8 q4 1.6 5 5.4" fill="none" stroke="#1d1d1b" stroke-width="1.72"/>
<path d="M314.6 411 l-2 2 M333 411.6 l2.4 2" fill="none" stroke="#1d1d1b" stroke-width="0.79"/>
<ellipse cx="249.6" cy="381.2" rx="3.8" ry="3.8" fill="#8a8b8d"/>
<text x="249.6" y="382.85" font-size="4.7" fill="#fff" font-weight="bold" text-anchor="middle" stroke="#fff" stroke-width=".25">2</text>
</g>
<g clip-path="url(#c9)">
<path d="M365.6 374 L365.6 392 L381.8 392 L381.8 374 Z" fill="#a4a5a7" stroke="#1d1d1b" stroke-width="1.06"/>
<ellipse cx="376.6" cy="377" rx="1.7" ry="1.2" fill="#ddd" stroke="#1d1d1b" stroke-width="0.79" transform="rotate(-30 376.6 377)"/>
<ellipse cx="375.9" cy="380.2" rx="1.7" ry="1.2" fill="#ddd" stroke="#1d1d1b" stroke-width="0.79" transform="rotate(-30 375.9 380.2)"/>
<ellipse cx="375.2" cy="383.4" rx="1.7" ry="1.2" fill="#ddd" stroke="#1d1d1b" stroke-width="0.79" transform="rotate(-30 375.2 383.4)"/>
<ellipse cx="374.5" cy="386.6" rx="1.7" ry="1.2" fill="#ddd" stroke="#1d1d1b" stroke-width="0.79" transform="rotate(-30 374.5 386.6)"/>
<ellipse cx="373.8" cy="389.8" rx="1.7" ry="1.2" fill="#ddd" stroke="#1d1d1b" stroke-width="0.79" transform="rotate(-30 373.8 389.8)"/>
<path d="M364.8 392 q8.8 -2 17.8 0 l-0.4 4.2 q-8.4 4 -17 0 Z" fill="#555" stroke="#1d1d1b" stroke-width="0.79"/>
<path d="M386.4 396.4 Q382.2 401.8 377 399.8" fill="none" stroke="#1d1d1b" stroke-width="2.51"/>
<polygon points="373.8,399.2 378,396.8 377.8,402.2" fill="#1d1d1b"/>
<path d="M365.4 402 q-1.8 1.6 -0.4 3.6 M390.6 394.6 q1.8 -0.2 1.8 2" fill="none" stroke="#1d1d1b" stroke-width="0.92"/>
<rect x="371.86" y="401.6" width="1.89" height="6.2" fill="#1d1d1b"/>
<polygon points="369.61,407 375.99,407 372.8,410.4" fill="#1d1d1b"/>
<path d="M363.2 411.6 Q362 415.35 361.6 423.3 L384 423.3 Q383.6 415.35 382.4 411.6 Z" fill="#fff" stroke="#1d1d1b" stroke-width="1.19"/>
<ellipse cx="372.8" cy="412.6" rx="9.6" ry="4.2" fill="#1d1d1b" stroke="#1d1d1b" stroke-width="1.06"/>
<path d="M365.8 411.8 l3.36 -1.8 l3.07 2.6 l3.07 -2.6 l3.36 1.8" fill="none" stroke="#fff" stroke-width="1.06"/>
<line x1="365.8" y1="418.4" x2="365.2" y2="422.3" stroke="#1d1d1b" stroke-width="0.79"/>
<line x1="379.8" y1="418.4" x2="380.4" y2="422.3" stroke="#1d1d1b" stroke-width="0.79"/>
<ellipse cx="355.3" cy="381.2" rx="3.8" ry="3.8" fill="#8a8b8d"/>
<text x="355.3" y="382.85" font-size="4.7" fill="#fff" font-weight="bold" text-anchor="middle" stroke="#fff" stroke-width=".25">3</text>
</g>
<g clip-path="url(#c10)">
<polygon points="202.8,443.2 207,439 208.2,437.9 209.9,438.8 209.9,447.6 208.2,448.6 207,447.4" fill="#1d1d1b"/>
<rect x="199.1" y="442.4" width="5.4" height="1.6" fill="#1d1d1b"/>
<rect x="209.8" y="440.3" width="3.9" height="1.6" fill="#1d1d1b"/>
<rect x="209.8" y="444.3" width="3.9" height="1.7" fill="#1d1d1b"/>
<polygon points="191.5,473 237.9,426.8 237.9,473" fill="#fff"/>
<g clip-path="url(#t10)">
<path d="M 221.44 445.46 L 219.96 450.45 L 235.82 450.45 L 237.31 426.5 L 231.85 426.5 L 230.86 443.46 Z" fill="#fff" stroke="#1d1d1b" stroke-width="0.92"/>
<path d="M 219.46 450.45 L 219.46 455.94 Q 226.9 458.93 236.32 455.94 L 236.32 450.45 Z" fill="#e4e5e6" stroke="#1d1d1b" stroke-width="0.92"/>
<path d="M 234.04 426.5 L 234.04 440.47 M 236.42 426.5 L 236.42 440.47" fill="none" stroke="#1d1d1b" stroke-width="1.19"/>
<path d="M 233.44 435.98 L 237.21 435.98 L 237.21 441.97 L 233.44 441.97 Z" fill="#1d1d1b"/>
<path d="M 238.79 443.46 L 229.38 443.46 Q 227.29 445.26 229.38 447.06 L 238.79 447.06" fill="#fff" stroke="#1d1d1b" stroke-width="1.19"/>
<ellipse cx="230.27" cy="445.26" rx="0.9" ry="0.9" fill="#fff" stroke="#1d1d1b" stroke-width="0.79"/>
<path d="M 219.96 446.06 L 227.39 446.06" fill="none" stroke="#1d1d1b" stroke-width="1.06" stroke-dasharray="1.6 1"/>
<path d="M 221.44 452.84 L 232.35 452.84" fill="none" stroke="#1d1d1b" stroke-width="1.06" stroke-dasharray="2 1.1"/>
<path d="M 215 456.44 Q 213.51 466.41 215.99 470.91 Q 225.9 475.89 235.82 470.91 Q 238.4 466.41 236.81 456.44 Z" fill="#fff" stroke="#1d1d1b" stroke-width="1.06"/>
<path d="M 216.98 451.45 L 219.56 451.45 L 219.56 459.93 L 216.98 459.93 Z" fill="#1d1d1b"/>
<path d="M 215.99 452.05 L 218.27 448.65 L 220.55 452.05 Z" fill="#1d1d1b"/>
<path d="M 213.41 458.03 L 220.35 458.03 L 220.35 461.03 L 213.41 461.03 Z" fill="#1d1d1b"/>
<path d="M 222.43 456.93 L 229.38 456.93 L 229.38 460.93 L 222.43 460.93 Z" fill="#1d1d1b"/>
<path d="M 223.92 458.03 L 227.29 458.03 M 223.92 459.63 L 225.9 459.63" fill="none" stroke="#fff" stroke-width="0.79"/>
<ellipse cx="227.49" cy="462.82" rx="2.8" ry="2" fill="#fff" stroke="#1d1d1b" stroke-width="1.19"/>
<path d="M 221.94 462.42 Q 223.43 464.92 225.9 464.42" fill="none" stroke="#1d1d1b" stroke-width="1.19"/>
<path d="M 233.24 454.44 L 233.24 464.92 M 235.72 452.44 L 235.72 466.91" fill="none" stroke="#1d1d1b" stroke-width="1.19"/>
<path d="M 216.98 463.42 Q 225.9 473.9 236.32 464.92 M 218.96 466.91 Q 225.9 474.9 234.43 468.41 M 221.34 470.01 Q 226.4 474 231.85 470.81" fill="none" stroke="#1d1d1b" stroke-width="1.19"/>
<path d="M 195.76 473.8 L 215.39 460.03 M 204.69 473.8 L 218.57 466.02 M 209.05 462.82 L 212.62 465.02" fill="none" stroke="#1d1d1b" stroke-width="1.19"/>
<path d="M 213.01 473.3 Q 217.97 469.41 220.95 471" fill="none" stroke="#1d1d1b" stroke-width="0.92"/>
</g>
<path d="M219.6 444.6 q7 -3 14 0 l0 5 q-7 3 -14 0 Z" fill="#1d1d1b"/>
<line x1="191.6" y1="472.9" x2="237.8" y2="426.9" stroke="#1d1d1b" stroke-width="1.39"/>
<ellipse cx="197.5" cy="432.5" rx="3.8" ry="3.8" fill="#8a8b8d"/>
<text x="197.5" y="434.15" font-size="4.7" fill="#fff" font-weight="bold" text-anchor="middle" stroke="#fff" stroke-width=".25">4</text>
</g>
<g clip-path="url(#c11)">
<ellipse cx="265.2" cy="437.2" rx="6.8" ry="4.2" fill="#555" stroke="#1d1d1b" stroke-width="1.19"/>
<ellipse cx="264.6" cy="435.6" rx="4.4" ry="1.8" fill="#c4c5c7" stroke="#1d1d1b" stroke-width="0.66"/>
<path d="M258.6 438.6 q6.6 4.4 13.4 0" fill="none" stroke="#fff" stroke-width="0.66"/>
<path d="M263.6 441.6 l3.6 2 l-3.4 1.6 l3 1.6" fill="none" stroke="#1d1d1b" stroke-width="1.06"/>
<path d="M274.6 436 q1.6 0.6 1.2 2.4 M270.6 447.6 q1.4 0.8 0.6 2.4" fill="none" stroke="#1d1d1b" stroke-width="0.92"/>
<path d="M260.2 452.6 l0.6 16.6 q4.2 2.2 8.6 0 l0.6 -16.6 Z" fill="#9c9d9f" stroke="#1d1d1b" stroke-width="1.06"/>
<rect x="263.8" y="455.6" width="2.4" height="11" fill="#555"/>
<path d="M259.2 446.2 l11.2 0 l0 6.4 q-5.6 2 -11.2 0 Z" fill="#1d1d1b"/>
<rect x="262.6" y="447.2" width="1" height="3.6" fill="#fff"/>
<rect x="265.8" y="447.2" width="1" height="3.6" fill="#fff"/>
<ellipse cx="249.6" cy="432.5" rx="3.8" ry="3.8" fill="#8a8b8d"/>
<text x="249.6" y="434.15" font-size="4.7" fill="#fff" font-weight="bold" text-anchor="middle" stroke="#fff" stroke-width=".25">5</text>
</g>
<g clip-path="url(#c12)">
<path d="M299.4 444 q0.6 -3.6 6.4 -3.8 q5.8 0.2 6.6 3.8 l0 2.4 q-6.6 3.4 -13 0 Z" fill="#1d1d1b"/>
<path d="M300.4 446.4 q5.6 2 11.2 0" fill="none" stroke="#fff" stroke-width="0.66"/>
<path d="M302.4 441.6 q3 -1.6 6.4 0" fill="none" stroke="#fff" stroke-width="0.79"/>
<path d="M301.4 455.4 q0.4 2.8 4.4 2.8 q4 0 4.4 -2.8" fill="none" stroke="#1d1d1b" stroke-width="1.32"/>
<polygon points="300,456 301.6,453.2 303,456" fill="#1d1d1b"/>
<line x1="305.6" y1="449.6" x2="305.6" y2="453" stroke="#1d1d1b" stroke-width="1.06"/>
<polygon points="304.4,450.6 305.6,448.6 306.8,450.6" fill="#1d1d1b"/>
<polygon points="296.7,473 343.3,426.8 343.3,473" fill="#fff"/>
<path d="M326.6 446 q0.6 -3 5.6 -3.2 q5 0.2 5.4 3.2 l0 4 q-5.4 3 -11 0 Z" fill="#555" stroke="#1d1d1b" stroke-width="1.19"/>
<path d="M327.6 445.6 q4.4 -2 9 0 M327.4 448.8 q4.6 2 9.4 0" fill="none" stroke="#fff" stroke-width="0.92"/>
<path d="M339.4 442.6 q1.6 0.4 1.4 2.2 M339.6 455.6 q1.4 0.6 0.8 2.4" fill="none" stroke="#1d1d1b" stroke-width="0.92"/>
<rect x="331.55" y="453.6" width="0.9" height="3.4" fill="#1d1d1b"/>
<polygon points="330.3,456.2 333.7,456.2 332,459.6" fill="#1d1d1b"/>
<path d="M326.8 459.6 l10.6 0 l0 7 l-10.6 0 Z" fill="#1d1d1b"/>
<rect x="330" y="458.4" width="4" height="1.6" fill="#1d1d1b"/>
<path d="M327.4 466.6 l0.4 8 l8.8 0 l0.4 -8 Z" fill="#fff" stroke="#1d1d1b" stroke-width="1.19"/>
<rect x="330.6" y="469" width="3" height="5" fill="#9c9d9f"/>
<line x1="296.8" y1="472.9" x2="343.2" y2="426.9" stroke="#1d1d1b" stroke-width="1.39"/>
<ellipse cx="302.7" cy="432.5" rx="3.8" ry="3.8" fill="#8a8b8d"/>
<text x="302.7" y="434.15" font-size="4.7" fill="#fff" font-weight="bold" text-anchor="middle" stroke="#fff" stroke-width=".25">6</text>
</g>
<g clip-path="url(#c13)">
<path d="M360 466 Q358.6 450 362.6 438 Q366 427.6 376 428.6 Q389 431 392 446 Q393.6 458 391.6 462.6 Q380 470 366 468.6 Z" fill="#fff" stroke="#1d1d1b" stroke-width="1.19"/>
<path d="M366.6 430.6 Q377 432.6 380.6 446 Q382.6 458 380.6 466.6 M371.6 429.4 Q384 434 386.6 448 Q388 458 386.6 464.6" fill="none" stroke="#1d1d1b" stroke-width="0.92"/>
<path d="M363.2 454 Q369.6 450 376.2 454.6 L376.6 466 Q369.6 469.6 363.4 466.6 Z" fill="#1d1d1b"/>
<path d="M364.6 442 l10.6 0.6 l0.2 4 l-10.8 -0.6 Z M364.2 447.6 l11 0.8" fill="#fff" stroke="#1d1d1b" stroke-width="1.19"/>
<path d="M369 429.4 l1.6 -2.6" fill="none" stroke="#1d1d1b" stroke-width="1.32"/>
<path d="M360.6 455.6 l-1.6 2" fill="none" stroke="#1d1d1b" stroke-width="1.06"/>
<ellipse cx="355.3" cy="432.5" rx="3.8" ry="3.8" fill="#8a8b8d"/>
<text x="355.3" y="434.15" font-size="4.7" fill="#fff" font-weight="bold" text-anchor="middle" stroke="#fff" stroke-width=".25">7</text>
</g>
<g clip-path="url(#c14)">
<line x1="461.6" y1="302.6" x2="475.6" y2="253.8" stroke="#1d1d1b" stroke-width="1.19"/>
<ellipse cx="462.4" cy="261" rx="3.6" ry="3.3" fill="#8a8b8d" stroke="#555" stroke-width="0.79"/>
<path d="M459.6 264.4 l5.6 0 l-2.6 3.6 Z" fill="#fff" stroke="#1d1d1b" stroke-width="1.06"/>
<polygon points="455.93,271.4 455.24,273.11 453.62,273.79 451.75,273.9 450.48,272.39 450.82,270.53 451.83,269.03 453.7,268.59 455.35,269.59" fill="#1d1d1b" stroke="#1d1d1b" stroke-width="0.53" stroke-linejoin="round"/>
<rect x="452" y="273.6" width="2.4" height="3" fill="#1d1d1b"/>
<path d="M459.6 271.6 q3 2.4 6.4 0.6 l0.6 1.6 q-3.6 2.6 -7.4 -0.2 Z" fill="#fff" stroke="#1d1d1b" stroke-width="1.06"/>
<path d="M450.2 284.4 L450.6 296.4 Q455.4 301.8 460.2 296.4 L460.6 284.4 Z" fill="#fff" stroke="#1d1d1b" stroke-width="1.19"/>
<ellipse cx="455.4" cy="284.4" rx="5.8" ry="2.8" fill="#fff" stroke="#1d1d1b" stroke-width="1.58"/>
<path d="M452.6 283.6 l3 -2 l2.4 2.2" fill="none" stroke="#1d1d1b" stroke-width="1.58"/>
<line x1="457.4" y1="277.6" x2="455.97" y2="280.77" stroke="#1d1d1b" stroke-width="1.19"/>
<polygon points="455.6,281.6 455.45,279.66 457.15,280.42" fill="#1d1d1b"/>
<polygon points="483.61,261.6 484.23,263.33 482.06,263.31 480.35,264.32 478.97,263.09 479.14,261.6 478.82,260.02 480.49,259.25 482.49,258.78 483.14,260.53" fill="#1d1d1b" stroke="#1d1d1b" stroke-width="0.53" stroke-linejoin="round"/>
<polygon points="489.32,266.8 488.99,268.13 487.22,268.26 485.78,268.73 483.96,268.27 484.35,266.8 483.94,265.32 485.65,264.55 487.62,264.41 488.57,265.7" fill="#1d1d1b" stroke="#1d1d1b" stroke-width="0.53" stroke-linejoin="round"/>
<polygon points="479.47,271 478.77,272.26 477.66,273.33 476.18,272.67 474.07,272.75 474.91,271 474.92,269.8 476.13,269.18 477.47,269.18 479.3,269.4" fill="#1d1d1b" stroke="#1d1d1b" stroke-width="0.53" stroke-linejoin="round"/>
<polygon points="487.68,274 487.37,275.33 485.94,275.53 484.71,275.98 483.67,275.16 483.29,274 483.48,272.7 484.78,272.24 485.91,272.53 487.59,272.52" fill="#1d1d1b" stroke="#1d1d1b" stroke-width="0.53" stroke-linejoin="round"/>
<path d="M470 284.4 L470.4 296.4 Q475.2 301.8 480 296.4 L480.4 284.4 Z" fill="#fff" stroke="#1d1d1b" stroke-width="1.19"/>
<ellipse cx="475.2" cy="284.4" rx="5.8" ry="2.8" fill="#fff" stroke="#1d1d1b" stroke-width="1.58"/>
<path d="M472.4 283.6 l3 -2 l2.4 2.2" fill="none" stroke="#1d1d1b" stroke-width="1.58"/>
<line x1="477.6" y1="277.6" x2="476.01" y2="280.79" stroke="#1d1d1b" stroke-width="1.19"/>
<polygon points="475.6,281.6 475.53,279.65 477.2,280.49" fill="#1d1d1b"/>
<ellipse cx="451.5" cy="259.8" rx="3.8" ry="3.8" fill="#8a8b8d"/>
<text x="451.5" y="261.45" font-size="4.7" fill="#fff" font-weight="bold" text-anchor="middle" stroke="#fff" stroke-width=".25">1</text>
</g>
<g clip-path="url(#c15)">
<ellipse cx="516.6" cy="259.6" rx="6.4" ry="2.6" fill="#fff" stroke="#1d1d1b" stroke-width="1.45"/>
<ellipse cx="516.6" cy="259.8" rx="5.1" ry="1.6" fill="none" stroke="#1d1d1b" stroke-width="0.59"/>
<rect x="516.15" y="262.6" width="0.9" height="3.2" fill="#1d1d1b"/>
<polygon points="514.9,265 518.3,265 516.6,268.4" fill="#1d1d1b"/>
<path d="M509.8 271 q6.8 -3.4 13.4 0 l-0.2 4.8 q-6.6 3.2 -13 0 Z" fill="#1d1d1b"/>
<ellipse cx="516.5" cy="271" rx="6.7" ry="2.1" fill="#fff" stroke="#1d1d1b" stroke-width="0.79"/>
<path d="M512.8 269.4 l3.8 1.6 l3.8 -2" fill="none" stroke="#1d1d1b" stroke-width="1.19"/>
<rect x="513.4" y="276.6" width="6.2" height="2" fill="#1d1d1b"/>
<polygon points="498.3,302.3 545.4,254.1 545.4,302.3" fill="#fff"/>
<path d="M529 273 q6.8 -4.4 13.6 0 l-0.2 6 q-6.6 3.6 -13.2 0 Z" fill="#6a6b6d" stroke="#1d1d1b" stroke-width="1.06"/>
<rect x="532.4" y="268.6" width="6.4" height="3.6" fill="#8e8f91" stroke="#1d1d1b" stroke-width="0.79"/>
<path d="M526.4 280.6 q-1.4 1.6 0 3.2 M530 283.4 l9 0.4 l3 -2" fill="none" stroke="#1d1d1b" stroke-width="1.06"/>
<path d="M526 290 l1.6 14 l14.8 0 l1.6 -14 Z" fill="#fff" stroke="#1d1d1b" stroke-width="1.19"/>
<ellipse cx="534.8" cy="289.6" rx="9" ry="3.8" fill="#fff" stroke="#1d1d1b" stroke-width="1.98"/>
<path d="M529.4 288.6 l3 -2 l2.6 3 l2.4 -3 l3 2" fill="none" stroke="#1d1d1b" stroke-width="1.58"/>
<path d="M526.4 294.6 q8.4 4.4 16.8 0" fill="none" stroke="#1d1d1b" stroke-width="1.32"/>
<line x1="498.4" y1="302.2" x2="545.3" y2="254.2" stroke="#1d1d1b" stroke-width="1.39"/>
<ellipse cx="504.3" cy="259.8" rx="3.8" ry="3.8" fill="#8a8b8d"/>
<text x="504.3" y="261.45" font-size="4.7" fill="#fff" font-weight="bold" text-anchor="middle" stroke="#fff" stroke-width=".25">2</text>
</g>
<g clip-path="url(#c16)">
<path d="M462.6 305 L461.6 327 L460.4 328.4 L460.4 332 Q468.6 336 476.8 332 L476.8 328.4 L475.6 327 L474.6 305 Z" fill="#c2c3c5" stroke="#999" stroke-width="0.79"/>
<path d="M464.6 312 q4 -3 8 0 q1 4 -1 8 q-3 2 -6 0 q-2 -4 -1 -8 Z" fill="#d6d7d9"/>
<path d="M461.4 326.6 q7.2 2.8 14.4 0" fill="none" stroke="#999" stroke-width="0.79"/>
<path d="M483.1 324.6 Q478.55 330 472.7 328" fill="none" stroke="#1d1d1b" stroke-width="2.51"/>
<polygon points="469.5,327.4 473.7,325 473.5,330.4" fill="#1d1d1b"/>
<path d="M485.6 322.6 q1.8 -0.2 1.8 2 M459.4 334.4 q-1.6 1.4 -0.4 3.2" fill="none" stroke="#1d1d1b" stroke-width="0.92"/>
<rect x="467.99" y="331.6" width="2.03" height="6.2" fill="#1d1d1b"/>
<polygon points="465.7,337 472.3,337 469,340.4" fill="#1d1d1b"/>
<path d="M458.4 341.4 Q457.2 345.8 456.8 354.4 L480.4 354.4 Q480 345.8 478.8 341.4 Z" fill="#fff" stroke="#1d1d1b" stroke-width="1.19"/>
<ellipse cx="468.6" cy="342.4" rx="10.2" ry="4.2" fill="#1d1d1b" stroke="#1d1d1b" stroke-width="1.06"/>
<path d="M461 341.6 l3.57 -1.8 l3.26 2.6 l3.26 -2.6 l3.57 1.8" fill="none" stroke="#fff" stroke-width="1.06"/>
<line x1="461" y1="348.2" x2="460.4" y2="353.4" stroke="#1d1d1b" stroke-width="0.79"/>
<line x1="476.2" y1="348.2" x2="476.8" y2="353.4" stroke="#1d1d1b" stroke-width="0.79"/>
<ellipse cx="451.5" cy="312.7" rx="3.8" ry="3.8" fill="#8a8b8d"/>
<text x="451.5" y="314.35" font-size="4.7" fill="#fff" font-weight="bold" text-anchor="middle" stroke="#fff" stroke-width=".25">3</text>
</g>
<g clip-path="url(#c17)">
<polygon points="510,322.4 514.2,318.2 515.4,317.1 517.1,318 517.1,326.8 515.4,327.8 514.2,326.6" fill="#1d1d1b"/>
<rect x="506.3" y="321.6" width="5.4" height="1.6" fill="#1d1d1b"/>
<rect x="517" y="319.5" width="3.9" height="1.6" fill="#1d1d1b"/>
<rect x="517" y="323.5" width="3.9" height="1.7" fill="#1d1d1b"/>
<polygon points="498.3,353.1 545.4,307 545.4,353.1" fill="#fff"/>
<g clip-path="url(#t17)">
<path d="M 528.69 325.62 L 527.18 330.6 L 543.28 330.6 L 544.79 306.7 L 539.26 306.7 L 538.25 323.63 Z" fill="#fff" stroke="#1d1d1b" stroke-width="0.92"/>
<path d="M 526.68 330.6 L 526.68 336.07 Q 534.23 339.06 543.79 336.07 L 543.79 330.6 Z" fill="#e4e5e6" stroke="#1d1d1b" stroke-width="0.92"/>
<path d="M 541.47 306.7 L 541.47 320.64 M 543.89 306.7 L 543.89 320.64" fill="none" stroke="#1d1d1b" stroke-width="1.19"/>
<path d="M 540.87 316.16 L 544.69 316.16 L 544.69 322.13 L 540.87 322.13 Z" fill="#1d1d1b"/>
<path d="M 546.3 323.63 L 536.74 323.63 Q 534.63 325.42 536.74 327.21 L 546.3 327.21" fill="#fff" stroke="#1d1d1b" stroke-width="1.19"/>
<ellipse cx="537.65" cy="325.42" rx="0.9" ry="0.9" fill="#fff" stroke="#1d1d1b" stroke-width="0.79"/>
<path d="M 527.18 326.22 L 534.73 326.22" fill="none" stroke="#1d1d1b" stroke-width="1.06" stroke-dasharray="1.6 1"/>
<path d="M 528.69 332.99 L 539.76 332.99" fill="none" stroke="#1d1d1b" stroke-width="1.06" stroke-dasharray="2 1.1"/>
<path d="M 522.15 336.57 Q 520.64 346.53 523.16 351.01 Q 533.22 355.99 543.28 351.01 Q 545.9 346.53 544.29 336.57 Z" fill="#fff" stroke="#1d1d1b" stroke-width="1.06"/>
<path d="M 524.16 331.59 L 526.78 331.59 L 526.78 340.06 L 524.16 340.06 Z" fill="#1d1d1b"/>
<path d="M 523.16 332.19 L 525.47 328.81 L 527.79 332.19 Z" fill="#1d1d1b"/>
<path d="M 520.54 338.17 L 527.59 338.17 L 527.59 341.15 L 520.54 341.15 Z" fill="#1d1d1b"/>
<path d="M 529.7 337.07 L 536.74 337.07 L 536.74 341.05 L 529.7 341.05 Z" fill="#1d1d1b"/>
<path d="M 531.21 338.17 L 534.63 338.17 M 531.21 339.76 L 533.22 339.76" fill="none" stroke="#fff" stroke-width="0.79"/>
<ellipse cx="534.83" cy="342.94" rx="2.8" ry="2" fill="#fff" stroke="#1d1d1b" stroke-width="1.19"/>
<path d="M 529.2 342.55 Q 530.71 345.04 533.22 344.54" fill="none" stroke="#1d1d1b" stroke-width="1.19"/>
<path d="M 540.67 334.58 L 540.67 345.04 M 543.18 332.59 L 543.18 347.03" fill="none" stroke="#1d1d1b" stroke-width="1.19"/>
<path d="M 524.16 343.54 Q 533.22 354 543.79 345.04 M 526.18 347.03 Q 533.22 354.99 541.88 348.52 M 528.59 350.11 Q 533.72 354.1 539.26 350.91" fill="none" stroke="#1d1d1b" stroke-width="1.19"/>
<path d="M 502.63 353.9 L 522.55 340.16 M 511.69 353.9 L 525.77 346.13 M 516.11 342.94 L 519.74 345.14" fill="none" stroke="#1d1d1b" stroke-width="1.19"/>
<path d="M 520.14 353.4 Q 525.17 349.52 528.19 351.11" fill="none" stroke="#1d1d1b" stroke-width="0.92"/>
</g>
<line x1="498.4" y1="353" x2="545.3" y2="307.1" stroke="#1d1d1b" stroke-width="1.39"/>
<ellipse cx="504.3" cy="312.7" rx="3.8" ry="3.8" fill="#8a8b8d"/>
<text x="504.3" y="314.35" font-size="4.7" fill="#fff" font-weight="bold" text-anchor="middle" stroke="#fff" stroke-width=".25">4</text>
</g>
<g clip-path="url(#c18)">
<line x1="460.8" y1="404.4" x2="475.6" y2="356.9" stroke="#1d1d1b" stroke-width="1.19"/>
<ellipse cx="462.6" cy="362.6" rx="3.6" ry="3.2" fill="#9c9d9f" stroke="#666" stroke-width="0.79"/>
<polygon points="458.54,369.8 457.73,371.14 456.42,371.99 454.87,371.6 453.74,370.56 454.19,369.19 454.92,368.07 456.35,367.96 457.44,368.69" fill="#1d1d1b" stroke="#1d1d1b" stroke-width="0.53" stroke-linejoin="round"/>
<polygon points="467.94,371.6 466.85,373.18 465.54,373.83 463.97,374.03 463.31,372.38 462.91,370.65 464.06,369.35 465.55,369.32 467.21,369.67" fill="#1d1d1b" stroke="#1d1d1b" stroke-width="0.53" stroke-linejoin="round"/>
<path d="M459.6 366.4 l2 3 M453.6 373.6 q1 -2.4 3 -1.6" fill="none" stroke="#1d1d1b" stroke-width="1.19"/>
<polygon points="482,363.4 481.28,364.42 480.34,365.29 478.94,365.09 476.83,365.08 476.94,363.4 477.25,361.98 478.62,360.89 480.28,361.65 482.08,361.9" fill="#1d1d1b" stroke="#1d1d1b" stroke-width="0.53" stroke-linejoin="round"/>
<polygon points="488.89,367.4 489.19,368.86 487.43,369.69 485.59,369.2 483.92,368.7 484.28,367.4 484.52,366.41 485.72,365.89 487.3,365.39 488.23,366.44" fill="#1d1d1b" stroke="#1d1d1b" stroke-width="0.53" stroke-linejoin="round"/>
<polygon points="479.29,372.6 479.65,374.03 478.18,374.71 476.47,375.1 475.97,373.51 474.42,372.6 475.6,371.45 476.68,370.65 478.07,370.79 479.51,371.26" fill="#1d1d1b" stroke="#1d1d1b" stroke-width="0.53" stroke-linejoin="round"/>
<polygon points="488.76,374.2 487.95,375.3 487.12,376.66 485.68,375.58 484.67,375.16 484.55,374.2 484.06,372.85 485.36,371.95 487.1,371.79 488.42,372.81" fill="#1d1d1b" stroke="#1d1d1b" stroke-width="0.53" stroke-linejoin="round"/>
<path d="M449.6 385 L450.6 401 Q455.4 405.4 460.2 401 L461.2 385 Z" fill="#fff" stroke="#1d1d1b" stroke-width="1.19"/>
<path d="M450 390.6 L450.8 400.8 Q455.4 405 460 400.8 L460.8 390.6 Q455.4 393.4 450 390.6 Z" fill="#1d1d1b"/>
<ellipse cx="455.4" cy="383.6" rx="7.6" ry="3.7" fill="#fff" stroke="#1d1d1b" stroke-width="1.98"/>
<ellipse cx="455.4" cy="383.4" rx="4.6" ry="1.7" fill="#fff" stroke="#1d1d1b" stroke-width="0.92"/>
<path d="M448.8 386.6 q6.6 3.6 13.2 0" fill="none" stroke="#1d1d1b" stroke-width="0.92"/>
<path d="M475.2 385 L476.2 401 Q481 405.4 485.8 401 L486.8 385 Z" fill="#fff" stroke="#1d1d1b" stroke-width="1.19"/>
<path d="M475.6 390.6 L476.4 400.8 Q481 405 485.6 400.8 L486.4 390.6 Q481 393.4 475.6 390.6 Z" fill="#1d1d1b"/>
<ellipse cx="481" cy="383.6" rx="7.6" ry="3.7" fill="#fff" stroke="#1d1d1b" stroke-width="1.98"/>
<ellipse cx="481" cy="383.4" rx="4.6" ry="1.7" fill="#fff" stroke="#1d1d1b" stroke-width="0.92"/>
<path d="M474.4 386.6 q6.6 3.6 13.2 0" fill="none" stroke="#1d1d1b" stroke-width="0.92"/>
<ellipse cx="451.5" cy="362.9" rx="3.8" ry="3.8" fill="#8a8b8d"/>
<text x="451.5" y="364.55" font-size="4.7" fill="#fff" font-weight="bold" text-anchor="middle" stroke="#fff" stroke-width=".25">5</text>
</g>
<g clip-path="url(#c19)">
<path d="M569.2 270.4 l5.6 -5 l12.4 11.4 l-3.4 4.2 Z" fill="#fff" stroke="#1d1d1b" stroke-width="1.45"/>
<path d="M584.6 278.6 l3.6 3.4" fill="none" stroke="#1d1d1b" stroke-width="2.11"/>
<path d="M596.4 266.6 q-2.6 6 -1.4 14 q6 3.4 14.6 1.4 q2.6 -8 0.6 -15 Z" fill="#fff" stroke="#1d1d1b" stroke-width="1.19"/>
<path d="M595.6 279 q7 2.6 13.6 1 l-0.6 2.4 q-6.6 1.6 -12.4 -0.6 Z" fill="#9c9d9f"/>
<path d="M598.6 266.6 q3 -4 8 -4.4 l7 -1.4 M603 266 q4 -2.4 11 -2.6 M607.6 268.6 l6.4 0.6" fill="none" stroke="#1d1d1b" stroke-width="1.19"/>
<path d="M596.4 266.6 q-4 3 -6 11" fill="none" stroke="#9c9d9f" stroke-width="1.85"/>
<path d="M582.8 281 l2.2 23 l12.4 0 l2.2 -23 Z" fill="#fff" stroke="#1d1d1b" stroke-width="1.19"/>
<path d="M584 288.4 l1.2 15 l11.6 0 l1.2 -15 Z" fill="#9c9d9f"/>
<ellipse cx="591" cy="281" rx="8.2" ry="2.4" fill="#fff" stroke="#1d1d1b" stroke-width="1.06"/>
<line x1="591" y1="284" x2="591" y2="301" stroke="#555" stroke-width="0.92"/>
<line x1="586.6" y1="296" x2="595.6" y2="296" stroke="#555" stroke-width="0.79"/>
<path d="M576.6 291.6 l6.6 0 M576.6 300.4 l6.6 0 M579.8 291.6 l0 8.8" fill="none" stroke="#1d1d1b" stroke-width="1.19"/>
<text x="567.6" y="298.6" font-size="4.6" fill="#1d1d1b" font-weight="bold" text-anchor="start" stroke="#1d1d1b" stroke-width=".2">1/2</text>
<ellipse cx="572.5" cy="260.4" rx="3.8" ry="3.8" fill="#8a8b8d"/>
<text x="572.5" y="262.05" font-size="4.7" fill="#fff" font-weight="bold" text-anchor="middle" stroke="#fff" stroke-width=".25">1</text>
</g>
<g clip-path="url(#c20)">
<ellipse cx="639.6" cy="260.2" rx="8.6" ry="3.6" fill="#444" stroke="#1d1d1b" stroke-width="1.19"/>
<ellipse cx="639.6" cy="259.6" rx="5.2" ry="1.7" fill="#9c9d9f"/>
<rect x="637.8" y="258.6" width="3.6" height="1.4" fill="#1d1d1b"/>
<path d="M649.6 258.6 l2.4 -1 M652.6 257 l1.4 1.6" fill="none" stroke="#1d1d1b" stroke-width="0.92"/>
<rect x="639" y="264.2" width="0.8" height="3.2" fill="#1d1d1b"/>
<polygon points="637.8,266.6 641,266.6 639.4,270" fill="#1d1d1b"/>
<rect x="632.6" y="265.6" width="1.4" height="1.4" fill="#fff" stroke="#1d1d1b" stroke-width="0.66"/>
<path d="M631.4 272.4 L633.8 298.5 Q639 302.2 644.2 298.5 L646.6 272.4 Z" fill="#fff" stroke="#1d1d1b" stroke-width="1.19"/>
<line x1="634.82" y1="274.68" x2="636.43" y2="297" stroke="#777" stroke-width="0.66"/>
<line x1="643.18" y1="274.68" x2="641.57" y2="297" stroke="#777" stroke-width="0.66"/>
<line x1="639" y1="276.68" x2="639" y2="297.5" stroke="#1d1d1b" stroke-width="0.92"/>
<path d="M631.4 272.4 q-3.2 -1.2 -3.6 0.8 q0.6 1.8 3 2.6 Z" fill="#fff" stroke="#1d1d1b" stroke-width="1.19"/>
<ellipse cx="639" cy="272.4" rx="7.6" ry="2.28" fill="#fff" stroke="#1d1d1b" stroke-width="1.19"/>
<ellipse cx="639" cy="272.7" rx="6" ry="1.38" fill="none" stroke="#1d1d1b" stroke-width="0.59"/>
<path d="M631.6 270.6 l1.6 -1 M645 270 l2 -0.6" fill="none" stroke="#1d1d1b" stroke-width="0.92" stroke-dasharray="1 .7"/>
<polygon points="619.7,301.8 666.5,254.7 666.5,301.8" fill="#fff"/>
<path d="M643.4 284.4 L646.2 304.5 Q652.6 308.2 659 304.5 L661.8 284.4 Z" fill="#fff" stroke="#1d1d1b" stroke-width="1.19"/>
<line x1="647.54" y1="287.16" x2="649.43" y2="303" stroke="#777" stroke-width="0.66"/>
<line x1="657.66" y1="287.16" x2="655.77" y2="303" stroke="#777" stroke-width="0.66"/>
<line x1="652.6" y1="289.16" x2="652.6" y2="303.5" stroke="#1d1d1b" stroke-width="0.92"/>
<path d="M643.4 284.4 q-3.2 -1.2 -3.6 0.8 q0.6 1.8 3 2.6 Z" fill="#fff" stroke="#1d1d1b" stroke-width="1.19"/>
<ellipse cx="652.6" cy="284.4" rx="9.2" ry="2.76" fill="#fff" stroke="#1d1d1b" stroke-width="1.19"/>
<ellipse cx="652.6" cy="284.7" rx="7.6" ry="1.86" fill="none" stroke="#1d1d1b" stroke-width="0.59"/>
<ellipse cx="652.6" cy="284.2" rx="6.6" ry="1.9" fill="#fff" stroke="#1d1d1b" stroke-width="1.06"/>
<line x1="619.8" y1="301.7" x2="666.4" y2="254.8" stroke="#1d1d1b" stroke-width="1.39"/>
<ellipse cx="625.7" cy="260.4" rx="3.8" ry="3.8" fill="#8a8b8d"/>
<text x="625.7" y="262.05" font-size="4.7" fill="#fff" font-weight="bold" text-anchor="middle" stroke="#fff" stroke-width=".25">2</text>
</g>
<g clip-path="url(#c21)">
<polygon points="577.6,321.8 581.8,317.6 583,316.5 584.7,317.4 584.7,326.2 583,327.2 581.8,326" fill="#1d1d1b"/>
<rect x="573.9" y="321" width="5.4" height="1.6" fill="#1d1d1b"/>
<rect x="584.6" y="318.9" width="3.9" height="1.6" fill="#1d1d1b"/>
<rect x="584.6" y="322.9" width="3.9" height="1.7" fill="#1d1d1b"/>
<polygon points="566.5,353.2 613.5,306.8 613.5,353.2" fill="#fff"/>
<g clip-path="url(#t21)">
<path d="M 596.83 325.54 L 595.32 330.55 L 611.39 330.55 L 612.9 306.5 L 607.37 306.5 L 606.37 323.54 Z" fill="#fff" stroke="#1d1d1b" stroke-width="0.92"/>
<path d="M 594.82 330.55 L 594.82 336.06 Q 602.35 339.07 611.89 336.06 L 611.89 330.55 Z" fill="#e4e5e6" stroke="#1d1d1b" stroke-width="0.92"/>
<path d="M 609.58 306.5 L 609.58 320.53 M 611.99 306.5 L 611.99 320.53" fill="none" stroke="#1d1d1b" stroke-width="1.19"/>
<path d="M 608.98 316.02 L 612.8 316.02 L 612.8 322.03 L 608.98 322.03 Z" fill="#1d1d1b"/>
<path d="M 614.4 323.54 L 604.86 323.54 Q 602.75 325.34 604.86 327.14 L 614.4 327.14" fill="#fff" stroke="#1d1d1b" stroke-width="1.19"/>
<ellipse cx="605.77" cy="325.34" rx="0.9" ry="0.9" fill="#fff" stroke="#1d1d1b" stroke-width="0.79"/>
<path d="M 595.32 326.14 L 602.85 326.14" fill="none" stroke="#1d1d1b" stroke-width="1.06" stroke-dasharray="1.6 1"/>
<path d="M 596.83 332.96 L 607.88 332.96" fill="none" stroke="#1d1d1b" stroke-width="1.06" stroke-dasharray="2 1.1"/>
<path d="M 590.3 336.56 Q 588.79 346.59 591.31 351.09 Q 601.35 356.11 611.39 351.09 Q 614 346.59 612.39 336.56 Z" fill="#fff" stroke="#1d1d1b" stroke-width="1.06"/>
<path d="M 592.31 331.55 L 594.92 331.55 L 594.92 340.07 L 592.31 340.07 Z" fill="#1d1d1b"/>
<path d="M 591.31 332.15 L 593.62 328.75 L 595.92 332.15 Z" fill="#1d1d1b"/>
<path d="M 588.69 338.17 L 595.72 338.17 L 595.72 341.17 L 588.69 341.17 Z" fill="#1d1d1b"/>
<path d="M 597.83 337.07 L 604.86 337.07 L 604.86 341.07 L 597.83 341.07 Z" fill="#1d1d1b"/>
<path d="M 599.34 338.17 L 602.75 338.17 M 599.34 339.77 L 601.35 339.77" fill="none" stroke="#fff" stroke-width="0.79"/>
<ellipse cx="602.95" cy="342.98" rx="2.8" ry="2" fill="#fff" stroke="#1d1d1b" stroke-width="1.19"/>
<path d="M 597.33 342.58 Q 598.84 345.08 601.35 344.58" fill="none" stroke="#1d1d1b" stroke-width="1.19"/>
<path d="M 608.78 334.56 L 608.78 345.08 M 611.29 332.56 L 611.29 347.09" fill="none" stroke="#1d1d1b" stroke-width="1.19"/>
<path d="M 592.31 343.58 Q 601.35 354.1 611.89 345.08 M 594.32 347.09 Q 601.35 355.1 609.98 348.59 M 596.73 350.19 Q 601.85 354.2 607.37 350.99" fill="none" stroke="#1d1d1b" stroke-width="1.19"/>
<path d="M 570.82 354 L 590.7 340.17 M 579.86 354 L 593.92 346.18 M 584.28 342.98 L 587.89 345.18" fill="none" stroke="#1d1d1b" stroke-width="1.19"/>
<path d="M 588.29 353.5 Q 593.31 349.59 596.33 351.2" fill="none" stroke="#1d1d1b" stroke-width="0.92"/>
</g>
<line x1="566.6" y1="353.1" x2="613.4" y2="306.9" stroke="#1d1d1b" stroke-width="1.39"/>
<ellipse cx="572.5" cy="312.5" rx="3.8" ry="3.8" fill="#8a8b8d"/>
<text x="572.5" y="314.15" font-size="4.7" fill="#fff" font-weight="bold" text-anchor="middle" stroke="#fff" stroke-width=".25">3</text>
</g>
<g clip-path="url(#c22)">
<polygon points="633.2,323.2 635.8,320.6 636.8,320 637.8,320.6 637.8,325.8 636.8,326.4 635.8,325.8" fill="#1d1d1b"/>
<rect x="631" y="322.7" width="3" height="1" fill="#1d1d1b"/>
<rect x="637.7" y="321.3" width="2.6" height="1" fill="#1d1d1b"/>
<rect x="637.7" y="324" width="2.6" height="1" fill="#1d1d1b"/>
<line x1="628.4" y1="329.8" x2="642.8" y2="316.4" stroke="#1d1d1b" stroke-width="1.19"/>
<polygon points="619.7,353.2 666.5,306.8 666.5,353.2" fill="#fff"/>
<path d="M636.6 338.6 L653 329 Q659 333 660.6 343 L646 350.6 Q638 349 636.6 338.6 Z" fill="#fff" stroke="#1d1d1b" stroke-width="1.19"/>
<path d="M638.4 340.6 L652 333 Q655 338 655.4 344.6 L645.6 349 Q640 346.6 638.4 340.6 Z" fill="#a4a5a7"/>
<path d="M640 342 l13 -6.6 M642 345.4 l12.6 -5.6" fill="none" stroke="#ddd" stroke-width="0.79"/>
<ellipse cx="656.6" cy="336.4" rx="3" ry="7.6" fill="#fff" stroke="#1d1d1b" stroke-width="1.19" transform="rotate(-22 656.6 336.4)"/>
<rect x="660.6" y="330" width="3" height="14" fill="#fff" stroke="#1d1d1b" stroke-width="1.06"/>
<rect x="664" y="333" width="4" height="8" fill="#9c9d9f"/>
<rect x="641.6" y="347.6" width="26" height="7" fill="#fff" stroke="#1d1d1b" stroke-width="1.06"/>
<path d="M640 346 q8 -2.6 26 -1.6 l0 2.6 l-24.6 1 Z" fill="#9c9d9f"/>
<line x1="619.8" y1="353.1" x2="666.4" y2="306.9" stroke="#1d1d1b" stroke-width="1.39"/>
<ellipse cx="625.7" cy="312.5" rx="3.8" ry="3.8" fill="#8a8b8d"/>
<text x="625.7" y="314.15" font-size="4.7" fill="#fff" font-weight="bold" text-anchor="middle" stroke="#fff" stroke-width=".25">4</text>
</g>
<path d="M617.6 376.2 l0 -8.4 q0 -2.4 2.4 -2.4 l8.4 0 M623.2 365 l0 -2.4 M620.6 362.6 l5.2 0" fill="none" stroke="#1d1d1b" stroke-width="2.24"/>
<path d="M634.6 365.6 l10.4 0 M634.6 368.8 l4 0 M640.6 368.8 l4.4 0 M634.6 372 l10.4 0" fill="none" stroke="#fff" stroke-width="0.92"/>
<path d="M634 364.2 l11.6 0" fill="none" stroke="#c9c9c9" stroke-width="0.66"/>
<path d="M657.6 362.4 q-3.4 5.6 -3.6 10.6 q1.6 2.6 3 1.6 l1.2 -2.2 l1 2.8 q3 -0.6 3.6 -3 q-1.4 -5.4 -5.2 -9.8 Z" fill="#1d1d1b"/>
<path d="M657.8 366 l0.4 5" fill="none" stroke="#b4b5b7" stroke-width="0.79"/>
<path d="M617.57 404.58 l1.57 -1.34 l1.46 2.13 q1.57 -3.58 4.7 -5.15 l0.67 1.23 q-2.91 2.69 -4.93 7.62 l-1.23 0 Z" fill="#1d1d1b"/>
<path d="M636.17 404.58 l1.57 -1.34 l1.46 2.13 q1.57 -3.58 4.7 -5.15 l0.67 1.23 q-2.91 2.69 -4.93 7.62 l-1.23 0 Z" fill="#1d1d1b"/>
<path d="M653.57 404.58 l1.57 -1.34 l1.46 2.13 q1.57 -3.58 4.7 -5.15 l0.67 1.23 q-2.91 2.69 -4.93 7.62 l-1.23 0 Z" fill="#1d1d1b"/>
<path d="M618.72 436.36 L624.88 441.86 M624.66 436.14 L618.94 441.86" fill="none" stroke="#1d1d1b" stroke-width="2.18"/>
<path d="M637.12 436.36 L643.28 441.86 M643.06 436.14 L637.34 441.86" fill="none" stroke="#1d1d1b" stroke-width="2.18"/>
<path d="M653.57 439.58 l1.57 -1.34 l1.46 2.13 q1.57 -3.58 4.7 -5.15 l0.67 1.23 q-2.91 2.69 -4.93 7.62 l-1.23 0 Z" fill="#1d1d1b"/>
<ellipse cx="579" cy="385.6" rx="5.6" ry="2.2" fill="#fff" stroke="#1d1d1b" stroke-width="1.58"/>
<rect x="577.6" y="383" width="2.8" height="1.2" fill="#1d1d1b"/>
<rect x="575.8" y="390" width="6.4" height="14.4" fill="#fff" stroke="#1d1d1b" stroke-width="1.32"/>
<ellipse cx="579" cy="390.4" rx="3.2" ry="1.4" fill="#fff" stroke="#1d1d1b" stroke-width="1.19"/>
<rect x="577" y="396.6" width="4" height="5.4" fill="#9c9d9f" stroke="#1d1d1b" stroke-width="0.66"/>
<path d="M573.6 409.6 l1.2 14 q4.4 2.4 8.8 0 l1.2 -14 Z" fill="#fff" stroke="#1d1d1b" stroke-width="1.32"/>
<ellipse cx="579.2" cy="409.4" rx="5.8" ry="2" fill="#fff" stroke="#1d1d1b" stroke-width="1.45"/>
<rect x="576" y="414.4" width="6.4" height="6.6" fill="#777" stroke="#1d1d1b" stroke-width="0.66"/>
<line x1="579.2" y1="405.6" x2="579.2" y2="408" stroke="#1d1d1b" stroke-width="1.06"/>
<ellipse cx="590.8" cy="385.4" rx="3.8" ry="2" fill="#1d1d1b"/>
<ellipse cx="590.8" cy="389.6" rx="3.4" ry="1.3" fill="#fff" stroke="#1d1d1b" stroke-width="1.19"/>
<rect x="588.2" y="393" width="5.2" height="4.6" fill="#1d1d1b"/>
<rect x="588.6" y="399.4" width="4.4" height="8.6" fill="#fff" stroke="#1d1d1b" stroke-width="1.19"/>
<rect x="589.6" y="401" width="2.4" height="6" fill="#1d1d1b"/>
<ellipse cx="590.8" cy="412.4" rx="3.6" ry="1.5" fill="#fff" stroke="#1d1d1b" stroke-width="1.19"/>
<ellipse cx="590.8" cy="417.4" rx="3.2" ry="1.5" fill="#fff" stroke="#1d1d1b" stroke-width="1.19"/>
<polygon points="593.18,422.2 592.51,423.42 590.8,423.87 589.05,423.45 588.7,422.2 588.91,420.85 590.8,420.47 592.33,421.11" fill="#1d1d1b" stroke="#1d1d1b" stroke-width="0.53" stroke-linejoin="round"/>
<path d="M598.6 384 l6.6 0 l0 11.6 M598.6 384 l0 2" fill="none" stroke="#1d1d1b" stroke-width="1.32"/>
<rect x="598.6" y="395.6" width="7.4" height="3.2" fill="#fff" stroke="#1d1d1b" stroke-width="1.19"/>
<ellipse cx="602.4" cy="403" rx="3.8" ry="1.2" fill="#fff" stroke="#1d1d1b" stroke-width="1.19"/>
<ellipse cx="602.4" cy="408.6" rx="3.8" ry="2" fill="#fff" stroke="#1d1d1b" stroke-width="1.19"/>
<ellipse cx="602.4" cy="408.6" rx="1.4" ry="0.8" fill="#1d1d1b"/>
<path d="M598.4 414.4 l8 0 l0 3.6 l-8 0 Z" fill="#fff" stroke="#1d1d1b" stroke-width="1.19"/>
<ellipse cx="602.4" cy="416.2" rx="4.6" ry="2.2" fill="none" stroke="#1d1d1b" stroke-width="0.92"/>
<path d="M584.4 433.6 Q582.6 442 583.6 448.6 Q590 452.6 596.6 448.6 Q597.6 442 595.6 433.6 Z" fill="#fff" stroke="#1d1d1b" stroke-width="1.19"/>
<ellipse cx="590" cy="433" rx="5.6" ry="2.6" fill="#fff" stroke="#1d1d1b" stroke-width="1.85"/>
<path d="M586 430.6 l4 -2 l4 2" fill="none" stroke="#1d1d1b" stroke-width="1.19"/>
<ellipse cx="590.2" cy="442.4" rx="3.6" ry="3.6" fill="#fff" stroke="#1d1d1b" stroke-width="1.32"/>
<ellipse cx="590.2" cy="442.6" rx="1.6" ry="1.6" fill="#1d1d1b"/>
<path d="M584.4 438 q5.6 -3 11.2 0 M583.8 446 q6.4 3.6 12.6 0" fill="none" stroke="#1d1d1b" stroke-width="0.92"/>
<path d="M586.6 436 Q583.4 444 586.6 450 M593.6 436 Q596.8 444 593.6 450" fill="none" stroke="#1d1d1b" stroke-width="0.79"/>
<rect x="22.4" y="518.3" width="153.6" height="77" fill="none" stroke="#1d1d1b" stroke-width="1.05"/>
<line x1="22.4" y1="525.5" x2="176" y2="525.5" stroke="#1d1d1b" stroke-width="1"/>
<line x1="22.4" y1="532.8" x2="176" y2="532.8" stroke="#1d1d1b" stroke-width="1"/>
<line x1="22.4" y1="545.1" x2="176" y2="545.1" stroke="#1d1d1b" stroke-width="1"/>
<line x1="22.4" y1="557.4" x2="176" y2="557.4" stroke="#1d1d1b" stroke-width="1"/>
<line x1="22.4" y1="564.8" x2="176" y2="564.8" stroke="#1d1d1b" stroke-width="1"/>
<line x1="22.4" y1="572.3" x2="176" y2="572.3" stroke="#1d1d1b" stroke-width="1"/>
<line x1="22.4" y1="580" x2="176" y2="580" stroke="#1d1d1b" stroke-width="1"/>
<line x1="22.4" y1="587.7" x2="176" y2="587.7" stroke="#1d1d1b" stroke-width="1"/>
<line x1="32.5" y1="518.3" x2="32.5" y2="595.3" stroke="#1d1d1b" stroke-width="1"/>
<line x1="92.8" y1="518.3" x2="92.8" y2="595.3" stroke="#1d1d1b" stroke-width="1"/>
<rect x="24.1" y="519.5" width="3.9" height="4.8" fill="#fff" stroke="#1d1d1b" stroke-width="0.95"/>
<polygon points="28.4,520.3 30.5,521.9 28.4,523.5" fill="#fff" stroke="#1d1d1b" stroke-width="0.7"/>
<rect x="25.2" y="520.6" width="1.6" height="2.6" fill="#1d1d1b"/>
<line x1="101.2" y1="525.5" x2="101.2" y2="532.8" stroke="#1d1d1b" stroke-width="1"/>
<rect x="24.1" y="526.75" width="3.9" height="4.8" fill="#fff" stroke="#1d1d1b" stroke-width="0.95"/>
<polygon points="28.4,527.55 30.5,529.15 28.4,530.75" fill="#fff" stroke="#1d1d1b" stroke-width="0.7"/>
<rect x="25.2" y="527.85" width="1.6" height="2.6" fill="#1d1d1b"/>
<rect x="94.5" y="526.75" width="3.9" height="4.8" fill="#1d1d1b" stroke="#1d1d1b" stroke-width="0.95"/>
<polygon points="98.8,527.55 100.9,529.15 98.8,530.75" fill="#fff" stroke="#1d1d1b" stroke-width="0.7"/>
<line x1="101.2" y1="532.8" x2="101.2" y2="545.1" stroke="#1d1d1b" stroke-width="1"/>
<rect x="24.1" y="536.55" width="3.9" height="4.8" fill="#fff" stroke="#1d1d1b" stroke-width="0.95"/>
<polygon points="28.4,537.35 30.5,538.95 28.4,540.55" fill="#fff" stroke="#1d1d1b" stroke-width="0.7"/>
<rect x="25.2" y="537.65" width="1.6" height="2.6" fill="#1d1d1b"/>
<rect x="94.5" y="536.55" width="3.9" height="4.8" fill="#fff" stroke="#1d1d1b" stroke-width="0.95"/>
<polygon points="98.8,537.35 100.9,538.95 98.8,540.55" fill="#fff" stroke="#1d1d1b" stroke-width="0.7"/>
<rect x="95.6" y="537.65" width="1.6" height="2.6" fill="#1d1d1b"/>
<line x1="101.2" y1="545.1" x2="101.2" y2="557.4" stroke="#1d1d1b" stroke-width="1"/>
<rect x="24.1" y="548.85" width="3.9" height="4.8" fill="#fff" stroke="#1d1d1b" stroke-width="0.95"/>
<polygon points="28.4,549.65 30.5,551.25 28.4,552.85" fill="#fff" stroke="#1d1d1b" stroke-width="0.7"/>
<rect x="25.2" y="549.95" width="1.6" height="2.6" fill="#1d1d1b"/>
<rect x="94.5" y="548.85" width="3.9" height="4.8" fill="#1d1d1b" stroke="#1d1d1b" stroke-width="0.95"/>
<polygon points="98.8,549.65 100.9,551.25 98.8,552.85" fill="#fff" stroke="#1d1d1b" stroke-width="0.7"/>
<line x1="101.2" y1="557.4" x2="101.2" y2="564.8" stroke="#1d1d1b" stroke-width="1"/>
<rect x="24.1" y="558.7" width="3.9" height="4.8" fill="#fff" stroke="#1d1d1b" stroke-width="0.95"/>
<polygon points="28.4,559.5 30.5,561.1 28.4,562.7" fill="#fff" stroke="#1d1d1b" stroke-width="0.7"/>
<rect x="25.2" y="559.8" width="1.6" height="2.6" fill="#1d1d1b"/>
<rect x="94.5" y="558.7" width="3.9" height="4.8" fill="#fff" stroke="#1d1d1b" stroke-width="0.95"/>
<polygon points="98.8,559.5 100.9,561.1 98.8,562.7" fill="#fff" stroke="#1d1d1b" stroke-width="0.7"/>
<rect x="95.6" y="559.8" width="1.6" height="2.6" fill="#1d1d1b"/>
<rect x="24.1" y="566.15" width="3.9" height="4.8" fill="#fff" stroke="#1d1d1b" stroke-width="0.95"/>
<polygon points="28.4,566.95 30.5,568.55 28.4,570.15" fill="#fff" stroke="#1d1d1b" stroke-width="0.7"/>
<rect x="25.2" y="567.25" width="1.6" height="2.6" fill="#1d1d1b"/>
<line x1="101.2" y1="572.3" x2="101.2" y2="580" stroke="#1d1d1b" stroke-width="1"/>
<rect x="24.1" y="573.75" width="3.9" height="4.8" fill="#fff" stroke="#1d1d1b" stroke-width="0.95"/>
<polygon points="28.4,574.55 30.5,576.15 28.4,577.75" fill="#fff" stroke="#1d1d1b" stroke-width="0.7"/>
<rect x="25.2" y="574.85" width="1.6" height="2.6" fill="#1d1d1b"/>
<rect x="94.5" y="573.75" width="3.9" height="4.8" fill="#fff" stroke="#1d1d1b" stroke-width="0.95"/>
<polygon points="98.8,574.55 100.9,576.15 98.8,577.75" fill="#fff" stroke="#1d1d1b" stroke-width="0.7"/>
<rect x="95.6" y="574.85" width="1.6" height="2.6" fill="#1d1d1b"/>
<line x1="101.2" y1="580" x2="101.2" y2="587.7" stroke="#1d1d1b" stroke-width="1"/>
<rect x="24.1" y="581.45" width="3.9" height="4.8" fill="#fff" stroke="#1d1d1b" stroke-width="0.95"/>
<polygon points="28.4,582.25 30.5,583.85 28.4,585.45" fill="#fff" stroke="#1d1d1b" stroke-width="0.7"/>
<rect x="25.2" y="582.55" width="1.6" height="2.6" fill="#1d1d1b"/>
<rect x="94.5" y="581.45" width="3.9" height="4.8" fill="#1d1d1b" stroke="#1d1d1b" stroke-width="0.95"/>
<polygon points="98.8,582.25 100.9,583.85 98.8,585.45" fill="#fff" stroke="#1d1d1b" stroke-width="0.7"/>
<line x1="101.2" y1="587.7" x2="101.2" y2="595.3" stroke="#1d1d1b" stroke-width="1"/>
<rect x="24.1" y="589.1" width="3.9" height="4.8" fill="#fff" stroke="#1d1d1b" stroke-width="0.95"/>
<polygon points="28.4,589.9 30.5,591.5 28.4,593.1" fill="#fff" stroke="#1d1d1b" stroke-width="0.7"/>
<rect x="25.2" y="590.2" width="1.6" height="2.6" fill="#1d1d1b"/>
<rect x="94.5" y="589.1" width="3.9" height="4.8" fill="#fff" stroke="#1d1d1b" stroke-width="0.95"/>
<polygon points="98.8,589.9 100.9,591.5 98.8,593.1" fill="#fff" stroke="#1d1d1b" stroke-width="0.7"/>
<rect x="95.6" y="590.2" width="1.6" height="2.6" fill="#1d1d1b"/>
<rect x="188.6" y="518.8" width="152.4" height="102" fill="none" stroke="#1d1d1b" stroke-width="1.05"/>
<line x1="188.6" y1="530.3" x2="341" y2="530.3" stroke="#1d1d1b" stroke-width="1"/>
<line x1="188.6" y1="541.4" x2="341" y2="541.4" stroke="#1d1d1b" stroke-width="1"/>
<line x1="188.6" y1="559.8" x2="341" y2="559.8" stroke="#1d1d1b" stroke-width="1"/>
<line x1="188.6" y1="575.7" x2="341" y2="575.7" stroke="#1d1d1b" stroke-width="1"/>
<line x1="188.6" y1="586.7" x2="341" y2="586.7" stroke="#1d1d1b" stroke-width="1"/>
<line x1="188.6" y1="595.3" x2="341" y2="595.3" stroke="#1d1d1b" stroke-width="1"/>
<line x1="188.6" y1="602.4" x2="341" y2="602.4" stroke="#1d1d1b" stroke-width="1"/>
<line x1="188.6" y1="613" x2="341" y2="613" stroke="#1d1d1b" stroke-width="1"/>
<line x1="197.2" y1="518.8" x2="197.2" y2="620.8" stroke="#1d1d1b" stroke-width="1"/>
<line x1="253.5" y1="518.8" x2="253.5" y2="620.8" stroke="#1d1d1b" stroke-width="1"/>
<rect x="190.3" y="522.15" width="3.9" height="4.8" fill="#fff" stroke="#1d1d1b" stroke-width="0.95"/>
<polygon points="194.6,522.95 196.7,524.55 194.6,526.15" fill="#fff" stroke="#1d1d1b" stroke-width="0.7"/>
<rect x="191.4" y="523.25" width="1.6" height="2.6" fill="#1d1d1b"/>
<line x1="262.6" y1="530.3" x2="262.6" y2="541.4" stroke="#1d1d1b" stroke-width="1"/>
<rect x="190.3" y="533.45" width="3.9" height="4.8" fill="#fff" stroke="#1d1d1b" stroke-width="0.95"/>
<polygon points="194.6,534.25 196.7,535.85 194.6,537.45" fill="#fff" stroke="#1d1d1b" stroke-width="0.7"/>
<rect x="191.4" y="534.55" width="1.6" height="2.6" fill="#1d1d1b"/>
<rect x="255.2" y="533.45" width="3.9" height="4.8" fill="#1d1d1b" stroke="#1d1d1b" stroke-width="0.95"/>
<polygon points="259.5,534.25 261.6,535.85 259.5,537.45" fill="#fff" stroke="#1d1d1b" stroke-width="0.7"/>
<line x1="262.6" y1="541.4" x2="262.6" y2="559.8" stroke="#1d1d1b" stroke-width="1"/>
<rect x="190.3" y="548.2" width="3.9" height="4.8" fill="#fff" stroke="#1d1d1b" stroke-width="0.95"/>
<polygon points="194.6,549 196.7,550.6 194.6,552.2" fill="#fff" stroke="#1d1d1b" stroke-width="0.7"/>
<rect x="191.4" y="549.3" width="1.6" height="2.6" fill="#1d1d1b"/>
<rect x="255.2" y="548.2" width="3.9" height="4.8" fill="#fff" stroke="#1d1d1b" stroke-width="0.95"/>
<polygon points="259.5,549 261.6,550.6 259.5,552.2" fill="#fff" stroke="#1d1d1b" stroke-width="0.7"/>
<rect x="256.3" y="549.3" width="1.6" height="2.6" fill="#1d1d1b"/>
<line x1="262.6" y1="559.8" x2="262.6" y2="575.7" stroke="#1d1d1b" stroke-width="1"/>
<rect x="190.3" y="565.35" width="3.9" height="4.8" fill="#fff" stroke="#1d1d1b" stroke-width="0.95"/>
<polygon points="194.6,566.15 196.7,567.75 194.6,569.35" fill="#fff" stroke="#1d1d1b" stroke-width="0.7"/>
<rect x="191.4" y="566.45" width="1.6" height="2.6" fill="#1d1d1b"/>
<rect x="255.2" y="565.35" width="3.9" height="4.8" fill="#1d1d1b" stroke="#1d1d1b" stroke-width="0.95"/>
<polygon points="259.5,566.15 261.6,567.75 259.5,569.35" fill="#fff" stroke="#1d1d1b" stroke-width="0.7"/>
<line x1="262.6" y1="575.7" x2="262.6" y2="586.7" stroke="#1d1d1b" stroke-width="1"/>
<rect x="190.3" y="578.8" width="3.9" height="4.8" fill="#fff" stroke="#1d1d1b" stroke-width="0.95"/>
<polygon points="194.6,579.6 196.7,581.2 194.6,582.8" fill="#fff" stroke="#1d1d1b" stroke-width="0.7"/>
<rect x="191.4" y="579.9" width="1.6" height="2.6" fill="#1d1d1b"/>
<rect x="255.2" y="578.8" width="3.9" height="4.8" fill="#fff" stroke="#1d1d1b" stroke-width="0.95"/>
<polygon points="259.5,579.6 261.6,581.2 259.5,582.8" fill="#fff" stroke="#1d1d1b" stroke-width="0.7"/>
<rect x="256.3" y="579.9" width="1.6" height="2.6" fill="#1d1d1b"/>
<rect x="190.3" y="588.6" width="3.9" height="4.8" fill="#fff" stroke="#1d1d1b" stroke-width="0.95"/>
<polygon points="194.6,589.4 196.7,591 194.6,592.6" fill="#fff" stroke="#1d1d1b" stroke-width="0.7"/>
<rect x="191.4" y="589.7" width="1.6" height="2.6" fill="#1d1d1b"/>
<line x1="262.6" y1="595.3" x2="262.6" y2="602.4" stroke="#1d1d1b" stroke-width="1"/>
<rect x="190.3" y="596.45" width="3.9" height="4.8" fill="#fff" stroke="#1d1d1b" stroke-width="0.95"/>
<polygon points="194.6,597.25 196.7,598.85 194.6,600.45" fill="#fff" stroke="#1d1d1b" stroke-width="0.7"/>
<rect x="191.4" y="597.55" width="1.6" height="2.6" fill="#1d1d1b"/>
<rect x="255.2" y="596.45" width="3.9" height="4.8" fill="#fff" stroke="#1d1d1b" stroke-width="0.95"/>
<polygon points="259.5,597.25 261.6,598.85 259.5,600.45" fill="#fff" stroke="#1d1d1b" stroke-width="0.7"/>
<rect x="256.3" y="597.55" width="1.6" height="2.6" fill="#1d1d1b"/>
<line x1="262.6" y1="602.4" x2="262.6" y2="613" stroke="#1d1d1b" stroke-width="1"/>
<rect x="190.3" y="605.3" width="3.9" height="4.8" fill="#fff" stroke="#1d1d1b" stroke-width="0.95"/>
<polygon points="194.6,606.1 196.7,607.7 194.6,609.3" fill="#fff" stroke="#1d1d1b" stroke-width="0.7"/>
<rect x="191.4" y="606.4" width="1.6" height="2.6" fill="#1d1d1b"/>
<rect x="255.2" y="605.3" width="3.9" height="4.8" fill="#1d1d1b" stroke="#1d1d1b" stroke-width="0.95"/>
<polygon points="259.5,606.1 261.6,607.7 259.5,609.3" fill="#fff" stroke="#1d1d1b" stroke-width="0.7"/>
<line x1="262.6" y1="613" x2="262.6" y2="620.8" stroke="#1d1d1b" stroke-width="1"/>
<rect x="190.3" y="614.5" width="3.9" height="4.8" fill="#fff" stroke="#1d1d1b" stroke-width="0.95"/>
<polygon points="194.6,615.3 196.7,616.9 194.6,618.5" fill="#fff" stroke="#1d1d1b" stroke-width="0.7"/>
<rect x="191.4" y="615.6" width="1.6" height="2.6" fill="#1d1d1b"/>
<rect x="255.2" y="614.5" width="3.9" height="4.8" fill="#fff" stroke="#1d1d1b" stroke-width="0.95"/>
<polygon points="259.5,615.3 261.6,616.9 259.5,618.5" fill="#fff" stroke="#1d1d1b" stroke-width="0.7"/>
<rect x="256.3" y="615.6" width="1.6" height="2.6" fill="#1d1d1b"/>
<rect x="353.6" y="518.8" width="152.6" height="81.9" fill="none" stroke="#1d1d1b" stroke-width="1.05"/>
<line x1="353.6" y1="530.3" x2="506.2" y2="530.3" stroke="#1d1d1b" stroke-width="1"/>
<line x1="353.6" y1="537" x2="506.2" y2="537" stroke="#1d1d1b" stroke-width="1"/>
<line x1="353.6" y1="548.8" x2="506.2" y2="548.8" stroke="#1d1d1b" stroke-width="1"/>
<line x1="353.6" y1="561" x2="506.2" y2="561" stroke="#1d1d1b" stroke-width="1"/>
<line x1="353.6" y1="569.4" x2="506.2" y2="569.4" stroke="#1d1d1b" stroke-width="1"/>
<line x1="353.6" y1="575.9" x2="506.2" y2="575.9" stroke="#1d1d1b" stroke-width="1"/>
<line x1="353.6" y1="583" x2="506.2" y2="583" stroke="#1d1d1b" stroke-width="1"/>
<line x1="353.6" y1="590.1" x2="506.2" y2="590.1" stroke="#1d1d1b" stroke-width="1"/>
<line x1="361.8" y1="518.8" x2="361.8" y2="600.7" stroke="#1d1d1b" stroke-width="1"/>
<line x1="423" y1="518.8" x2="423" y2="600.7" stroke="#1d1d1b" stroke-width="1"/>
<rect x="355.3" y="522.15" width="3.9" height="4.8" fill="#fff" stroke="#1d1d1b" stroke-width="0.95"/>
<polygon points="359.6,522.95 361.7,524.55 359.6,526.15" fill="#fff" stroke="#1d1d1b" stroke-width="0.7"/>
<rect x="356.4" y="523.25" width="1.6" height="2.6" fill="#1d1d1b"/>
<line x1="432" y1="530.3" x2="432" y2="537" stroke="#1d1d1b" stroke-width="1"/>
<rect x="355.3" y="531.25" width="3.9" height="4.8" fill="#fff" stroke="#1d1d1b" stroke-width="0.95"/>
<polygon points="359.6,532.05 361.7,533.65 359.6,535.25" fill="#fff" stroke="#1d1d1b" stroke-width="0.7"/>
<rect x="356.4" y="532.35" width="1.6" height="2.6" fill="#1d1d1b"/>
<rect x="424.7" y="531.25" width="3.9" height="4.8" fill="#1d1d1b" stroke="#1d1d1b" stroke-width="0.95"/>
<polygon points="429,532.05 431.1,533.65 429,535.25" fill="#fff" stroke="#1d1d1b" stroke-width="0.7"/>
<line x1="432" y1="537" x2="432" y2="548.8" stroke="#1d1d1b" stroke-width="1"/>
<rect x="355.3" y="540.5" width="3.9" height="4.8" fill="#fff" stroke="#1d1d1b" stroke-width="0.95"/>
<polygon points="359.6,541.3 361.7,542.9 359.6,544.5" fill="#fff" stroke="#1d1d1b" stroke-width="0.7"/>
<rect x="356.4" y="541.6" width="1.6" height="2.6" fill="#1d1d1b"/>
<rect x="424.7" y="540.5" width="3.9" height="4.8" fill="#fff" stroke="#1d1d1b" stroke-width="0.95"/>
<polygon points="429,541.3 431.1,542.9 429,544.5" fill="#fff" stroke="#1d1d1b" stroke-width="0.7"/>
<rect x="425.8" y="541.6" width="1.6" height="2.6" fill="#1d1d1b"/>
<line x1="432" y1="548.8" x2="432" y2="561" stroke="#1d1d1b" stroke-width="1"/>
<rect x="355.3" y="552.5" width="3.9" height="4.8" fill="#fff" stroke="#1d1d1b" stroke-width="0.95"/>
<polygon points="359.6,553.3 361.7,554.9 359.6,556.5" fill="#fff" stroke="#1d1d1b" stroke-width="0.7"/>
<rect x="356.4" y="553.6" width="1.6" height="2.6" fill="#1d1d1b"/>
<rect x="424.7" y="552.5" width="3.9" height="4.8" fill="#1d1d1b" stroke="#1d1d1b" stroke-width="0.95"/>
<polygon points="429,553.3 431.1,554.9 429,556.5" fill="#fff" stroke="#1d1d1b" stroke-width="0.7"/>
<line x1="432" y1="561" x2="432" y2="569.4" stroke="#1d1d1b" stroke-width="1"/>
<rect x="355.3" y="562.8" width="3.9" height="4.8" fill="#fff" stroke="#1d1d1b" stroke-width="0.95"/>
<polygon points="359.6,563.6 361.7,565.2 359.6,566.8" fill="#fff" stroke="#1d1d1b" stroke-width="0.7"/>
<rect x="356.4" y="563.9" width="1.6" height="2.6" fill="#1d1d1b"/>
<rect x="424.7" y="562.8" width="3.9" height="4.8" fill="#fff" stroke="#1d1d1b" stroke-width="0.95"/>
<polygon points="429,563.6 431.1,565.2 429,566.8" fill="#fff" stroke="#1d1d1b" stroke-width="0.7"/>
<rect x="425.8" y="563.9" width="1.6" height="2.6" fill="#1d1d1b"/>
<rect x="355.3" y="570.25" width="3.9" height="4.8" fill="#fff" stroke="#1d1d1b" stroke-width="0.95"/>
<polygon points="359.6,571.05 361.7,572.65 359.6,574.25" fill="#fff" stroke="#1d1d1b" stroke-width="0.7"/>
<rect x="356.4" y="571.35" width="1.6" height="2.6" fill="#1d1d1b"/>
<line x1="432" y1="575.9" x2="432" y2="583" stroke="#1d1d1b" stroke-width="1"/>
<rect x="355.3" y="577.05" width="3.9" height="4.8" fill="#fff" stroke="#1d1d1b" stroke-width="0.95"/>
<polygon points="359.6,577.85 361.7,579.45 359.6,581.05" fill="#fff" stroke="#1d1d1b" stroke-width="0.7"/>
<rect x="356.4" y="578.15" width="1.6" height="2.6" fill="#1d1d1b"/>
<rect x="424.7" y="577.05" width="3.9" height="4.8" fill="#fff" stroke="#1d1d1b" stroke-width="0.95"/>
<polygon points="429,577.85 431.1,579.45 429,581.05" fill="#fff" stroke="#1d1d1b" stroke-width="0.7"/>
<rect x="425.8" y="578.15" width="1.6" height="2.6" fill="#1d1d1b"/>
<line x1="432" y1="583" x2="432" y2="590.1" stroke="#1d1d1b" stroke-width="1"/>
<rect x="355.3" y="584.15" width="3.9" height="4.8" fill="#fff" stroke="#1d1d1b" stroke-width="0.95"/>
<polygon points="359.6,584.95 361.7,586.55 359.6,588.15" fill="#fff" stroke="#1d1d1b" stroke-width="0.7"/>
<rect x="356.4" y="585.25" width="1.6" height="2.6" fill="#1d1d1b"/>
<rect x="424.7" y="584.15" width="3.9" height="4.8" fill="#1d1d1b" stroke="#1d1d1b" stroke-width="0.95"/>
<polygon points="429,584.95 431.1,586.55 429,588.15" fill="#fff" stroke="#1d1d1b" stroke-width="0.7"/>
<line x1="432" y1="590.1" x2="432" y2="600.7" stroke="#1d1d1b" stroke-width="1"/>
<rect x="355.3" y="593" width="3.9" height="4.8" fill="#fff" stroke="#1d1d1b" stroke-width="0.95"/>
<polygon points="359.6,593.8 361.7,595.4 359.6,597" fill="#fff" stroke="#1d1d1b" stroke-width="0.7"/>
<rect x="356.4" y="594.1" width="1.6" height="2.6" fill="#1d1d1b"/>
<rect x="424.7" y="593" width="3.9" height="4.8" fill="#fff" stroke="#1d1d1b" stroke-width="0.95"/>
<polygon points="429,593.8 431.1,595.4 429,597" fill="#fff" stroke="#1d1d1b" stroke-width="0.7"/>
<rect x="425.8" y="594.1" width="1.6" height="2.6" fill="#1d1d1b"/>
<rect x="518.6" y="518.8" width="153" height="85" fill="none" stroke="#1d1d1b" stroke-width="1.05"/>
<line x1="518.6" y1="530.3" x2="671.6" y2="530.3" stroke="#1d1d1b" stroke-width="1"/>
<line x1="518.6" y1="537" x2="671.6" y2="537" stroke="#1d1d1b" stroke-width="1"/>
<line x1="518.6" y1="549.2" x2="671.6" y2="549.2" stroke="#1d1d1b" stroke-width="1"/>
<line x1="518.6" y1="562.2" x2="671.6" y2="562.2" stroke="#1d1d1b" stroke-width="1"/>
<line x1="518.6" y1="574.5" x2="671.6" y2="574.5" stroke="#1d1d1b" stroke-width="1"/>
<line x1="518.6" y1="581.8" x2="671.6" y2="581.8" stroke="#1d1d1b" stroke-width="1"/>
<line x1="518.6" y1="589.2" x2="671.6" y2="589.2" stroke="#1d1d1b" stroke-width="1"/>
<line x1="518.6" y1="596.5" x2="671.6" y2="596.5" stroke="#1d1d1b" stroke-width="1"/>
<line x1="527.2" y1="518.8" x2="527.2" y2="603.8" stroke="#1d1d1b" stroke-width="1"/>
<line x1="588.4" y1="518.8" x2="588.4" y2="603.8" stroke="#1d1d1b" stroke-width="1"/>
<rect x="520.3" y="522.15" width="3.9" height="4.8" fill="#fff" stroke="#1d1d1b" stroke-width="0.95"/>
<polygon points="524.6,522.95 526.7,524.55 524.6,526.15" fill="#fff" stroke="#1d1d1b" stroke-width="0.7"/>
<rect x="521.4" y="523.25" width="1.6" height="2.6" fill="#1d1d1b"/>
<line x1="597.2" y1="530.3" x2="597.2" y2="537" stroke="#1d1d1b" stroke-width="1"/>
<rect x="520.3" y="531.25" width="3.9" height="4.8" fill="#fff" stroke="#1d1d1b" stroke-width="0.95"/>
<polygon points="524.6,532.05 526.7,533.65 524.6,535.25" fill="#fff" stroke="#1d1d1b" stroke-width="0.7"/>
<rect x="521.4" y="532.35" width="1.6" height="2.6" fill="#1d1d1b"/>
<rect x="590.1" y="531.25" width="3.9" height="4.8" fill="#1d1d1b" stroke="#1d1d1b" stroke-width="0.95"/>
<polygon points="594.4,532.05 596.5,533.65 594.4,535.25" fill="#fff" stroke="#1d1d1b" stroke-width="0.7"/>
<line x1="597.2" y1="537" x2="597.2" y2="549.2" stroke="#1d1d1b" stroke-width="1"/>
<rect x="520.3" y="540.7" width="3.9" height="4.8" fill="#fff" stroke="#1d1d1b" stroke-width="0.95"/>
<polygon points="524.6,541.5 526.7,543.1 524.6,544.7" fill="#fff" stroke="#1d1d1b" stroke-width="0.7"/>
<rect x="521.4" y="541.8" width="1.6" height="2.6" fill="#1d1d1b"/>
<rect x="590.1" y="540.7" width="3.9" height="4.8" fill="#fff" stroke="#1d1d1b" stroke-width="0.95"/>
<polygon points="594.4,541.5 596.5,543.1 594.4,544.7" fill="#fff" stroke="#1d1d1b" stroke-width="0.7"/>
<rect x="591.2" y="541.8" width="1.6" height="2.6" fill="#1d1d1b"/>
<line x1="597.2" y1="549.2" x2="597.2" y2="562.2" stroke="#1d1d1b" stroke-width="1"/>
<rect x="520.3" y="553.3" width="3.9" height="4.8" fill="#fff" stroke="#1d1d1b" stroke-width="0.95"/>
<polygon points="524.6,554.1 526.7,555.7 524.6,557.3" fill="#fff" stroke="#1d1d1b" stroke-width="0.7"/>
<rect x="521.4" y="554.4" width="1.6" height="2.6" fill="#1d1d1b"/>
<rect x="590.1" y="553.3" width="3.9" height="4.8" fill="#1d1d1b" stroke="#1d1d1b" stroke-width="0.95"/>
<polygon points="594.4,554.1 596.5,555.7 594.4,557.3" fill="#fff" stroke="#1d1d1b" stroke-width="0.7"/>
<line x1="597.2" y1="562.2" x2="597.2" y2="574.5" stroke="#1d1d1b" stroke-width="1"/>
<rect x="520.3" y="565.95" width="3.9" height="4.8" fill="#fff" stroke="#1d1d1b" stroke-width="0.95"/>
<polygon points="524.6,566.75 526.7,568.35 524.6,569.95" fill="#fff" stroke="#1d1d1b" stroke-width="0.7"/>
<rect x="521.4" y="567.05" width="1.6" height="2.6" fill="#1d1d1b"/>
<rect x="590.1" y="565.95" width="3.9" height="4.8" fill="#fff" stroke="#1d1d1b" stroke-width="0.95"/>
<polygon points="594.4,566.75 596.5,568.35 594.4,569.95" fill="#fff" stroke="#1d1d1b" stroke-width="0.7"/>
<rect x="591.2" y="567.05" width="1.6" height="2.6" fill="#1d1d1b"/>
<rect x="520.3" y="575.75" width="3.9" height="4.8" fill="#fff" stroke="#1d1d1b" stroke-width="0.95"/>
<polygon points="524.6,576.55 526.7,578.15 524.6,579.75" fill="#fff" stroke="#1d1d1b" stroke-width="0.7"/>
<rect x="521.4" y="576.85" width="1.6" height="2.6" fill="#1d1d1b"/>
<line x1="597.2" y1="581.8" x2="597.2" y2="589.2" stroke="#1d1d1b" stroke-width="1"/>
<rect x="520.3" y="583.1" width="3.9" height="4.8" fill="#fff" stroke="#1d1d1b" stroke-width="0.95"/>
<polygon points="524.6,583.9 526.7,585.5 524.6,587.1" fill="#fff" stroke="#1d1d1b" stroke-width="0.7"/>
<rect x="521.4" y="584.2" width="1.6" height="2.6" fill="#1d1d1b"/>
<rect x="590.1" y="583.1" width="3.9" height="4.8" fill="#fff" stroke="#1d1d1b" stroke-width="0.95"/>
<polygon points="594.4,583.9 596.5,585.5 594.4,587.1" fill="#fff" stroke="#1d1d1b" stroke-width="0.7"/>
<rect x="591.2" y="584.2" width="1.6" height="2.6" fill="#1d1d1b"/>
<line x1="597.2" y1="589.2" x2="597.2" y2="596.5" stroke="#1d1d1b" stroke-width="1"/>
<rect x="520.3" y="590.45" width="3.9" height="4.8" fill="#fff" stroke="#1d1d1b" stroke-width="0.95"/>
<polygon points="524.6,591.25 526.7,592.85 524.6,594.45" fill="#fff" stroke="#1d1d1b" stroke-width="0.7"/>
<rect x="521.4" y="591.55" width="1.6" height="2.6" fill="#1d1d1b"/>
<rect x="590.1" y="590.45" width="3.9" height="4.8" fill="#1d1d1b" stroke="#1d1d1b" stroke-width="0.95"/>
<polygon points="594.4,591.25 596.5,592.85 594.4,594.45" fill="#fff" stroke="#1d1d1b" stroke-width="0.7"/>
<line x1="597.2" y1="596.5" x2="597.2" y2="603.8" stroke="#1d1d1b" stroke-width="1"/>
<rect x="520.3" y="597.75" width="3.9" height="4.8" fill="#fff" stroke="#1d1d1b" stroke-width="0.95"/>
<polygon points="524.6,598.55 526.7,600.15 524.6,601.75" fill="#fff" stroke="#1d1d1b" stroke-width="0.7"/>
<rect x="521.4" y="598.85" width="1.6" height="2.6" fill="#1d1d1b"/>
<rect x="590.1" y="597.75" width="3.9" height="4.8" fill="#fff" stroke="#1d1d1b" stroke-width="0.95"/>
<polygon points="594.4,598.55 596.5,600.15 594.4,601.75" fill="#fff" stroke="#1d1d1b" stroke-width="0.7"/>
<rect x="591.2" y="598.85" width="1.6" height="2.6" fill="#1d1d1b"/>
<line x1="22" y1="156.2" x2="94.2" y2="156.2" stroke="#1d1d1b" stroke-width="0.9"/>
<line x1="104" y1="156.5" x2="175.6" y2="156.5" stroke="#1d1d1b" stroke-width="0.9"/>
<line x1="22" y1="164.1" x2="94" y2="164.1" stroke="#9a9a9a" stroke-width="0.6"/>
<line x1="104" y1="164.7" x2="176" y2="164.7" stroke="#9a9a9a" stroke-width="0.6"/>
<line x1="22" y1="171.28" x2="94" y2="171.28" stroke="#9a9a9a" stroke-width="0.6"/>
<line x1="104" y1="171.88" x2="176" y2="171.88" stroke="#9a9a9a" stroke-width="0.6"/>
<line x1="22" y1="178.46" x2="94" y2="178.46" stroke="#9a9a9a" stroke-width="0.6"/>
<line x1="104" y1="179.06" x2="176" y2="179.06" stroke="#9a9a9a" stroke-width="0.6"/>
<line x1="22" y1="185.64" x2="94" y2="185.64" stroke="#9a9a9a" stroke-width="0.6"/>
<line x1="104" y1="186.24" x2="176" y2="186.24" stroke="#9a9a9a" stroke-width="0.6"/>
<line x1="22" y1="192.82" x2="94" y2="192.82" stroke="#9a9a9a" stroke-width="0.6"/>
<line x1="104" y1="193.42" x2="176" y2="193.42" stroke="#9a9a9a" stroke-width="0.6"/>
<line x1="22" y1="200" x2="94" y2="200" stroke="#9a9a9a" stroke-width="0.6"/>
<line x1="104" y1="200.6" x2="176" y2="200.6" stroke="#9a9a9a" stroke-width="0.6"/>
<line x1="22" y1="207.18" x2="94" y2="207.18" stroke="#9a9a9a" stroke-width="0.6"/>
<line x1="104" y1="207.78" x2="176" y2="207.78" stroke="#9a9a9a" stroke-width="0.6"/>
<line x1="22" y1="214.36" x2="94" y2="214.36" stroke="#555" stroke-width="0.6"/>
<line x1="104" y1="214.96" x2="176" y2="214.96" stroke="#555" stroke-width="0.6"/>
<rect x="56" y="937.1" width="12.9" height="8.5" fill="#1d1d1b"/>
</svg>
<div class="bar" style="left:22.4px;top:490px;width:153.6px"><span>English</span></div>
<div class="h1" style="left:23.4px;top:506.2px"><span class="n">1</span>Overview (Fig. 1)</div>
<div class="tc" style="left:34px;top:519.85px;width:62.15px;transform:scaleX(0.93);">Blender beaker lid</div>
<div class="tc" style="left:94.3px;top:519.85px;width:86.67px;transform:scaleX(0.93);">Multichopper (HR2874 and HR2876 only)</div>
<div class="tc" style="left:34px;top:527.1px;width:62.15px;transform:scaleX(0.93);">Filter (HR2874 only)</div>
<div class="tc" style="left:102.7px;top:527.1px;width:77.63px;transform:scaleX(0.93);">Multichopper beaker</div>
<div class="tc" style="left:34px;top:536.9px;width:62.15px;transform:scaleX(0.93);">Blender beaker</div>
<div class="tc" style="left:102.7px;top:534.65px;width:77.63px;transform:scaleX(0.93);">Sealing ring of multichopper beaker blade<br>unit</div>
<div class="tc" style="left:34px;top:546.95px;width:62.15px;transform:scaleX(0.93);">Sealing ring of blender beaker<br>blade unit</div>
<div class="tc" style="left:102.7px;top:549.2px;width:77.63px;transform:scaleX(0.93);">Multichopper blade unit</div>
<div class="tc" style="left:34px;top:559.05px;width:62.15px;transform:scaleX(0.93);">Blender beaker blade unit</div>
<div class="tc" style="left:102.7px;top:559.05px;width:77.63px;transform:scaleX(0.93);">Multichopper beaker lid</div>
<div class="tc" style="left:34px;top:566.5px;width:62.15px;transform:scaleX(0.93);">Motor unit</div>
<div class="tc" style="left:94.3px;top:566.5px;width:86.67px;transform:scaleX(0.93);">On-the-go tumbler</div>
<div class="tc" style="left:34px;top:574.1px;width:62.15px;transform:scaleX(0.93);">Safety/display lock</div>
<div class="tc" style="left:102.7px;top:574.1px;width:77.63px;transform:scaleX(0.93);">On-the-go cup lid</div>
<div class="tc" style="left:34px;top:581.8px;width:62.15px;transform:scaleX(0.93);">Pulse button</div>
<div class="tc" style="left:102.7px;top:581.8px;width:77.63px;transform:scaleX(0.93);">Sealing ring of the on-the-go cup</div>
<div class="tc" style="left:34px;top:589.45px;width:62.15px;transform:scaleX(0.93);">Cord storage groove</div>
<div class="tc" style="left:102.7px;top:589.45px;width:77.63px;transform:scaleX(0.93);">On-the-go cup</div>
<div class="h1" style="left:23.4px;top:606.4px"><span class="n">2</span>Before first use</div>
<div class="b" style="left:22.4px;top:616.18px;width:170.67px;transform:scaleX(0.9);">Thoroughly clean the parts that will come in contact with food before you use the appliance for the first time (see Fig. 6).</div>
<div class="h1" style="left:23.4px;top:633.4px"><span class="n">3</span>Application</div>
<div class="b" style="left:22.4px;top:645.38px;width:170.67px;transform:scaleX(0.9);">Note:</div>
<div class="b" style="left:24.6px;top:650.49px">&#8226;</div>
<div class="b" style="left:32.2px;top:650.49px;width:156.44px;transform:scaleX(0.9);">Do not exceed the maximum quantities and processing times indicated in the Fig. 2.</div>
<div class="b" style="left:24.6px;top:655.68px">&#8226;</div>
<div class="b" style="left:32.2px;top:655.68px;width:156.44px;transform:scaleX(0.9);">Do not operate the appliance for more than 60 seconds at a time when processing heavy loads and let it cool down to room temperature for next operation.</div>
<div class="b" style="left:24.6px;top:665.68px">&#8226;</div>
<div class="b" style="left:32.2px;top:665.68px;width:156.44px;transform:scaleX(0.9);">Never fill the multichopper and on-the-go cup with hot ingredients.</div>
<div class="rl" style="left:22.4px;top:677.2px;width:153.6px"></div>
<div class="h2" style="left:22.4px;top:678.5px;width:170.67px;transform:scaleX(0.9);">Using the blender (Fig. 3)</div>
<div class="b" style="left:22.4px;top:686.58px;width:170.67px;transform:scaleX(0.9);">Note: Never overfill the blender jar above the maximum level indication (0.6 liters) to avoid spillage.<br>The blender is intended for:</div>
<div class="b" style="left:24.6px;top:702.28px">&#8226;</div>
<div class="b" style="left:32.2px;top:702.28px;width:156.44px;transform:scaleX(0.9);">Blending fluids, e.g. dairy products, sauces, fruit juices, soups, mixed drinks, shakes.</div>
<div class="b" style="left:24.6px;top:707.28px">&#8226;</div>
<div class="b" style="left:32.2px;top:707.28px;width:156.44px;transform:scaleX(0.9);">Mixing soft ingredients, e.g. pancake batter or mayonnaise.</div>
<div class="b" style="left:24.6px;top:712.28px">&#8226;</div>
<div class="b" style="left:32.2px;top:712.28px;width:156.44px;transform:scaleX(0.9);">Pureeing cooked ingredients, e.g. for making baby food.</div>
<div class="rl" style="left:22.4px;top:719.4px;width:153.6px"></div>
<div class="h3" style="left:22.4px;top:721.5px;width:170.67px;transform:scaleX(0.9);">Using the filter (HR2874 and HR2876 only)</div>
<div class="b" style="left:22.4px;top:730.88px;width:170.67px;transform:scaleX(0.9);">Note: You can order the filter as an extra accessory from your Philips dealer.<br>With the filter you can make delicious fresh fruit juices, cocktails or soy milk. The filter prevents pips and skins from ending up in your drink.</div>
<div class="rl" style="left:22.4px;top:752.1px;width:153.6px"></div>
<div class="h2" style="left:22.4px;top:753.4px;width:170.67px;transform:scaleX(0.9);">Using the multichopper (Fig. 4)</div>
<div class="b" style="left:22.4px;top:761.58px;width:170.67px;transform:scaleX(0.9);">Note: Never overfill the on-the-go cup above the maximum level indication (0.6 liters) to avoid spillage.<br>Make sure you assemble the on-the-go lid (only with the on-the-go cup). Remove the blade unit and attach the on-the-go lid. Then you can bring the on-the-go cup out and drink directly by the lid.</div>
<div class="rl" style="left:22.4px;top:793.2px;width:153.6px"></div>
<div class="h2" style="left:22.4px;top:794.5px;width:170.67px;transform:scaleX(0.9);">Using the on-the-go tumbler (HR2874 and HR2876 only) (Fig. 5)</div>
<div class="b" style="left:22.4px;top:804.68px;width:170.67px;transform:scaleX(0.9);">Note:</div>
<div class="b" style="left:24.6px;top:809.68px">&#8226;</div>
<div class="b" style="left:32.2px;top:809.68px;width:156.44px;transform:scaleX(0.9);">Do not fill the beaker beyond the maximum indication. See the table for the actual quantities.</div>
<div class="b" style="left:24.6px;top:819.78px">&#8226;</div>
<div class="b" style="left:32.2px;top:819.78px;width:156.44px;transform:scaleX(0.9);">You can order the multichopper as an extra accessory from your Philips dealer.</div>
<div class="b" style="left:22.4px;top:824.78px;width:170.67px;transform:scaleX(0.9);">The multichopper is intended for:</div>
<div class="b" style="left:24.6px;top:829.88px">&#8226;</div>
<div class="b" style="left:32.2px;top:829.88px;width:156.44px;transform:scaleX(0.9);">Chopping ingredients like onion, garlic, herbs, meat, etc.</div>
<div class="b" style="left:24.6px;top:834.99px">&#8226;</div>
<div class="b" style="left:32.2px;top:834.99px;width:159.56px;transform:scaleX(0.9);">Grinding dry ingredients such as peppercorns, sesame seeds, rice, wheat, coconut flesh, nuts (shelled), coffee beans, dried soy beans, dried peas, cheese, breadcrumbs, etc.</div>
<div class="h1" style="left:23.4px;top:852.6px"><span class="n">4</span>Overheat protection</div>
<div class="b" style="left:22.4px;top:862.18px;width:170.67px;transform:scaleX(0.9);">This appliance is equipped with overheat protection. If the appliance overheats, it switches off automatically. Unplug the appliance and let it cool down for 30 minutes. Then put the mains plug back into the power outlet and switch on the appliance again. Please contact your Philips dealer or an authorised Philips service centre in your country if the overheat protection is activated too often.</div>
<div class="bar" style="left:188.6px;top:490px;width:152.4px"><span>Български</span></div>
<div class="h1" style="left:189.6px;top:506.2px"><span class="n">1</span>Общ преглед (фиг. 1)</div>
<div class="tc" style="left:198.7px;top:522.5px;width:67.25px;transform:scaleX(0.8);">Капак на каната на пасатора</div>
<div class="tc" style="left:255px;top:520.25px;width:106.12px;transform:scaleX(0.8);">Пасатор/мелачка (само при модели HR2874 и<br>HR2876)</div>
<div class="tc" style="left:198.7px;top:533.8px;width:67.25px;transform:scaleX(0.8);">Филтър (само за HR2874)</div>
<div class="tc" style="left:264.1px;top:531.55px;width:94.75px;transform:scaleX(0.8);">Кана за многофункционалната мелачка<br>приставка</div>
<div class="tc" style="left:198.7px;top:548.55px;width:67.25px;transform:scaleX(0.8);">Кана на пасатора</div>
<div class="tc" style="left:264.1px;top:544.05px;width:94.75px;transform:scaleX(0.8);">Уплътнителен пръстен на режещия блок на<br>каната на многофункционалната мелачка<br>приставка</div>
<div class="tc" style="left:198.7px;top:561.2px;width:67.25px;transform:scaleX(0.8);">Уплътнителен пръстен на<br>режещия блок на каната на<br>пасатора</div>
<div class="tc" style="left:264.1px;top:563.45px;width:94.75px;transform:scaleX(0.8);">Режещ блок на каната (универсалната<br>мелачка приставка)</div>
<div class="tc" style="left:198.7px;top:576.9px;width:67.25px;transform:scaleX(0.8);">Режещ блок на каната на<br>пасатора</div>
<div class="tc" style="left:264.1px;top:576.9px;width:94.75px;transform:scaleX(0.8);">Капак на каната на многофункционалната<br>мелачка приставка</div>
<div class="tc" style="left:198.7px;top:588.95px;width:67.25px;transform:scaleX(0.8);">Задвижващ блок</div>
<div class="tc" style="left:255px;top:588.95px;width:106.12px;transform:scaleX(0.8);">Чаша за пътуване с капаче за пиене</div>
<div class="tc" style="left:198.7px;top:596.8px;width:67.25px;transform:scaleX(0.8);">Предпазна/заключваща блокировка</div>
<div class="tc" style="left:264.1px;top:596.8px;width:94.75px;transform:scaleX(0.8);">Капак на чашата за употреба в движение</div>
<div class="tc" style="left:198.7px;top:605.65px;width:67.25px;transform:scaleX(0.8);">Бутон за импулсен режим</div>
<div class="tc" style="left:264.1px;top:603.4px;width:94.75px;transform:scaleX(0.8);">Уплътнителен пръстен на чашата за<br>употреба в движение</div>
<div class="tc" style="left:198.7px;top:614.85px;width:67.25px;transform:scaleX(0.8);">Канал за прибиране на кабела</div>
<div class="tc" style="left:264.1px;top:614.85px;width:94.75px;transform:scaleX(0.8);">Чаша за употреба в движение</div>
<div class="h1" style="left:189.6px;top:630.3px"><span class="n">2</span>Преди първата употреба</div>
<div class="b" style="left:188.6px;top:640.18px;width:169.33px;transform:scaleX(0.9);">Преди да използвате уреда за първи път, почистете старателно частите, които влизат в контакт с храна (вж. фиг. 6).</div>
<div class="h1" style="left:189.6px;top:655.6px"><span class="n">3</span>Приложение</div>
<div class="b" style="left:188.6px;top:667.68px;width:169.33px;transform:scaleX(0.9);">Забележка:</div>
<div class="b" style="left:190.8px;top:672.68px">&#8226;</div>
<div class="b" style="left:198.4px;top:672.68px;width:155.11px;transform:scaleX(0.9);">Не превишавайте максималните количества и времена за обработване, посочени във (фигурата 2).</div>
<div class="b" style="left:190.8px;top:682.88px">&#8226;</div>
<div class="b" style="left:198.4px;top:682.88px;width:155.11px;transform:scaleX(0.9);">Не допускайте уредът да работи повече от 60 секунди, когато обработвате големи количества продукти, и го оставяйте да се охлади до стайна температура, преди да го използвате отново.</div>
<div class="b" style="left:190.8px;top:698.18px">&#8226;</div>
<div class="b" style="left:198.4px;top:698.18px;width:155.11px;transform:scaleX(0.9);">Никога не пълнете многофункционалната мелачка приставка и чашата за употреба в движение с горещи продукти.</div>
<div class="rl" style="left:188.6px;top:713.3px;width:152.4px"></div>
<div class="h2" style="left:188.6px;top:714.6px;width:169.33px;transform:scaleX(0.9);">Използване на пасатора (фиг. 3)</div>
<div class="b" style="left:188.6px;top:721.99px;width:169.33px;transform:scaleX(0.9);">Забележка: никога не препълвайте каната на пасатора над индикацията за максимално количество (0,6 литра), за да избегнете разливане.<br>Пасаторът е предназначен за:</div>
<div class="b" style="left:190.8px;top:737.08px">&#8226;</div>
<div class="b" style="left:198.4px;top:737.08px;width:155.11px;transform:scaleX(0.9);">Разбъркване на течности, напр. млечни продукти, сосове, плодови сокове, супи, коктейли, шейкове.</div>
<div class="b" style="left:190.8px;top:747.08px">&#8226;</div>
<div class="b" style="left:198.4px;top:747.08px;width:155.11px;transform:scaleX(0.9);">Разбъркване на меки продукти, като тесто за палачинки или майонеза.</div>
<div class="b" style="left:190.8px;top:752.08px">&#8226;</div>
<div class="b" style="left:198.4px;top:752.08px;width:155.11px;transform:scaleX(0.9);">Приготвяне на пюре от сварени продукти, напр. при приготвяне на бебешка храна.</div>
<div class="rl" style="left:188.6px;top:759.6px;width:152.4px"></div>
<div class="h3" style="left:188.6px;top:761.7px;width:169.33px;transform:scaleX(0.9);">Използване на филтъра (само за HR2874 и HR2876)</div>
<div class="b" style="left:188.6px;top:770.88px;width:169.33px;transform:scaleX(0.9);">Забележка: можете да поръчате филтър като допълнителен аксесоар от вашия търговец на уреди Philips.<br>С този филтър можете да приготвяте вкусни пресни плодови сокове, коктейли или соево мляко. Филтърът предотвратява попадането на семки и люспи в напитката ви.</div>
<div class="rl" style="left:188.6px;top:798.2px;width:152.4px"></div>
<div class="h2" style="left:188.6px;top:799.5px;width:169.33px;transform:scaleX(0.9);">Използване на чашата за употреба в движение (фиг. 4)</div>
<div class="b" style="left:188.6px;top:807.78px;width:169.33px;transform:scaleX(0.9);">Забележка: никога не препълвайте чашата за употреба в движение над индикацията за максимално количество (0,6 литра), за да избегнете разливане.<br>Уверете се, че сте сглобили капака за чашата за употреба в движение. Отстранете режещия блок и прикрепете капака за чашата за употреба в движение. След това можете да носите чашата за употреба в движение и да пиете директно от капака.</div>
<div class="rl" style="left:188.6px;top:836.9px;width:152.4px"></div>
<div class="h2" style="left:188.6px;top:838.2px;width:169.33px;transform:scaleX(0.9);">Използване на многофункционалната мелачка приставка (само за HR 2874 и HR2876) (фиг. 5)</div>
<div class="b" style="left:188.6px;top:853.88px;width:169.33px;transform:scaleX(0.9);">Забележка:</div>
<div class="b" style="left:190.8px;top:858.78px">&#8226;</div>
<div class="b" style="left:198.4px;top:858.78px;width:155.11px;transform:scaleX(0.9);">Не пълнете каната над указаното максимално количество. Вижте таблицата за препоръчителните количества.</div>
<div class="b" style="left:190.8px;top:868.88px">&#8226;</div>
<div class="b" style="left:198.4px;top:868.88px;width:155.11px;transform:scaleX(0.9);">Избирателно можете да поръчате многофункционалната мелачка приставка като допълнителен аксесоар от вашия търговец на уреди Philips.</div>
<div class="b" style="left:188.6px;top:878.78px;width:169.33px;transform:scaleX(0.9);">Многофункционалната мелачка приставка е предназначена за:</div>
<div class="b" style="left:190.8px;top:883.78px">&#8226;</div>
<div class="b" style="left:198.4px;top:883.78px;width:155.11px;transform:scaleX(0.9);">Рязане на продукти като лук, чесън, билки, месо и т.н.</div>
<div class="b" style="left:190.8px;top:888.88px">&#8226;</div>
<div class="b" style="left:198.4px;top:888.88px;width:155.11px;transform:scaleX(0.9);">Смилане на сухи продукти като черен пипер, сусамово семе, ориз, жито, кокосови ядки, ядки (без черупки), кафе на зърна, сушени соеви зърна, сушен грах, сирене, галета и т.н.</div>
<div class="h1" style="left:189.6px;top:911.8px"><span class="n">4</span>Защита от прегряване</div>
<div class="b" style="left:188.6px;top:921.38px;width:169.33px;transform:scaleX(0.9);">Този уред е оборудван със защита срещу прегряване. При прегряване уредът се изключва автоматично. Изключете уреда от контакта и го оставете да се охлажда за 30 минути. След това отново включете щепсела в контакта и включете уреда. Свържете се с вашия търговец на уреди на Philips или с упълномощен сервизен център на Philips, ако защитата срещу прегряване се задейства прекалено често.</div>
<div class="bar" style="left:353.6px;top:490px;width:152.6px"><span>Čeština</span></div>
<div class="h1" style="left:354.6px;top:506.2px"><span class="n">1</span>Přehled (obr. 1)</div>
<div class="tc" style="left:363.3px;top:522.5px;width:66.7px;transform:scaleX(0.88);">Víko nádoby mixéru</div>
<div class="tc" style="left:424.5px;top:520.25px;width:91.59px;transform:scaleX(0.88);">Multifunkční sekáček (pouze modely HR2874 a<br>HR2876)</div>
<div class="tc" style="left:363.3px;top:531.6px;width:66.7px;transform:scaleX(0.88);">Filtr (pouze model HR2874)</div>
<div class="tc" style="left:433.5px;top:531.6px;width:81.36px;transform:scaleX(0.88);">Nádoba multisekáčku</div>
<div class="tc" style="left:363.3px;top:540.85px;width:66.7px;transform:scaleX(0.88);">Nádoba mixéru</div>
<div class="tc" style="left:433.5px;top:538.6px;width:81.36px;transform:scaleX(0.88);">Těsnicí kroužek nožové jednotky nádoby<br>multisekáčku</div>
<div class="tc" style="left:363.3px;top:550.6px;width:66.7px;transform:scaleX(0.88);">Těsnicí kroužek nožové jednotky<br>nádoby mixéru</div>
<div class="tc" style="left:433.5px;top:552.85px;width:81.36px;transform:scaleX(0.88);">Nožová jednotka multisekáčku</div>
<div class="tc" style="left:363.3px;top:563.15px;width:66.7px;transform:scaleX(0.88);">Nožová jednotka nádoby mixéru</div>
<div class="tc" style="left:433.5px;top:563.15px;width:81.36px;transform:scaleX(0.88);">Víko nádoby multisekáčku</div>
<div class="tc" style="left:363.3px;top:570.6px;width:66.7px;transform:scaleX(0.88);">Motorová jednotka</div>
<div class="tc" style="left:424.5px;top:570.6px;width:91.59px;transform:scaleX(0.88);">Cestovní lahev</div>
<div class="tc" style="left:363.3px;top:577.4px;width:66.7px;transform:scaleX(0.88);">Bezpečnostní/zobrazovací zámek</div>
<div class="tc" style="left:433.5px;top:577.4px;width:81.36px;transform:scaleX(0.88);">Víko cestovního hrnku</div>
<div class="tc" style="left:363.3px;top:584.5px;width:66.7px;transform:scaleX(0.88);">Pulzní tlačítko</div>
<div class="tc" style="left:433.5px;top:584.5px;width:81.36px;transform:scaleX(0.88);">Těsnicí kroužek cestovního hrnku</div>
<div class="tc" style="left:363.3px;top:593.35px;width:66.7px;transform:scaleX(0.88);">Drážka pro uložení kabelu</div>
<div class="tc" style="left:433.5px;top:593.35px;width:81.36px;transform:scaleX(0.88);">Cestovní hrnek</div>
<div class="h1" style="left:354.6px;top:611.2px"><span class="n">2</span>Před prvním použitím</div>
<div class="b" style="left:353.6px;top:620.78px;width:154px;transform:scaleX(0.9);">Než přístroj poprvé použijete, pečlivě omyjte všechny díly, které přicházejí do styku s potravinami (viz obr. 6).</div>
<div class="h1" style="left:354.6px;top:638.2px"><span class="n">3</span>Použití</div>
<div class="b" style="left:353.6px;top:650.49px;width:169.56px;transform:scaleX(0.9);">Poznámka:</div>
<div class="b" style="left:355.8px;top:655.88px">&#8226;</div>
<div class="b" style="left:363.4px;top:655.88px;width:155.33px;transform:scaleX(0.9);">Nikdy nepřekračujte maximální množství a doby zpracování, jež jsou uvedeny na obr. 2.</div>
<div class="b" style="left:355.8px;top:660.88px">&#8226;</div>
<div class="b" style="left:363.4px;top:660.88px;width:155.33px;transform:scaleX(0.9);">Při zpracovávání větších dávek nepoužívejte přístroj nepřetržitě déle než 60 sekund a před dalším použitím jej nechte vychladnout na pokojovou teplotu.</div>
<div class="b" style="left:355.8px;top:670.99px">&#8226;</div>
<div class="b" style="left:363.4px;top:670.99px;width:155.33px;transform:scaleX(0.9);">Nikdy neplňte multisekáček a cestovní hrnek horkými ingrediencemi.</div>
<div class="rl" style="left:353.6px;top:682.5px;width:152.6px"></div>
<div class="h2" style="left:353.6px;top:683.8px;width:169.56px;transform:scaleX(0.9);">Použití mixéru (obr. 3)</div>
<div class="b" style="left:353.6px;top:691.78px;width:169.56px;transform:scaleX(0.9);">Poznámka: Nikdy nepřeplňujte nádobu mixéru nad maximální úroveň (0,6 litru), aby nedošlo k rozlití.<br>Mixér je určený pro:</div>
<div class="b" style="left:355.8px;top:706.78px">&#8226;</div>
<div class="b" style="left:363.4px;top:706.78px;width:155.33px;transform:scaleX(0.9);">Mixování tekutin, například mléčných produktů, omáček, ovocných šťáv, polévek, míchaných nápojů či koktejlů.</div>
<div class="b" style="left:355.8px;top:716.78px">&#8226;</div>
<div class="b" style="left:363.4px;top:716.78px;width:155.33px;transform:scaleX(0.9);">Mixování měkkých přísad, například lívancového těsta nebo majonézy.</div>
<div class="b" style="left:355.8px;top:721.78px">&#8226;</div>
<div class="b" style="left:363.4px;top:721.78px;width:155.33px;transform:scaleX(0.9);">Šlehání vařených přísad, například k výrobě dětské stravy.</div>
<div class="rl" style="left:353.6px;top:729.1px;width:152.6px"></div>
<div class="h3" style="left:353.6px;top:731.2px;width:169.56px;transform:scaleX(0.9);">Použití filtru (pouze modely HR2874 a HR2876)</div>
<div class="b" style="left:353.6px;top:740.68px;width:169.56px;transform:scaleX(0.9);">Poznámka: U prodejce výrobků Philips si můžete objednat filtr jako doplňkové příslušenství.<br>S pomocí filtru můžete připravovat chutné čerstvé ovocné šťávy, koktejly a sójové mléko. Filtr zachytí, že se do nápoje dostanou pecky nebo slupky.</div>
<div class="rl" style="left:353.6px;top:762.2px;width:152.6px"></div>
<div class="h2" style="left:353.6px;top:763.5px;width:169.56px;transform:scaleX(0.9);">Použití cestovního hrnku (obr. 4)</div>
<div class="b" style="left:353.6px;top:771.68px;width:169.56px;transform:scaleX(0.9);">Poznámka: Cestovní hrnek nikdy nepřeplňujte nad maximální úroveň (0,6 litru), aby nedošlo k rozlití.<br>Připevněte cestovní víko (pouze k cestovnímu hrnku). Sejměte nožovou jednotku a připevněte cestovní víko. Poté můžete cestovní hrnek vzít s sebou a pít přímo z víka.</div>
<div class="rl" style="left:353.6px;top:798.3px;width:152.6px"></div>
<div class="h2" style="left:353.6px;top:799.6px;width:169.56px;transform:scaleX(0.9);">Použití multisekáčku (pouze modely HR2874 a HR2876) (obr. 5)</div>
<div class="b" style="left:353.6px;top:810.28px;width:169.56px;transform:scaleX(0.9);">Poznámka:</div>
<div class="b" style="left:355.8px;top:815.18px">&#8226;</div>
<div class="b" style="left:363.4px;top:815.18px;width:155.33px;transform:scaleX(0.9);">Neplňte nádobu nad označení maximálního množství. Doporučená množství jsou uvedena v tabulce.</div>
<div class="b" style="left:355.8px;top:825.28px">&#8226;</div>
<div class="b" style="left:363.4px;top:825.28px;width:155.33px;transform:scaleX(0.9);">U prodejce výrobků Philips si můžete objednat multisekáček jako příslušenství.</div>
<div class="b" style="left:353.6px;top:830.28px;width:169.56px;transform:scaleX(0.9);">Multisekáček je určen pro:</div>
<div class="b" style="left:355.8px;top:835.28px">&#8226;</div>
<div class="b" style="left:363.4px;top:835.28px;width:155.33px;transform:scaleX(0.9);">Sekání ingrediencí jako cibule, česnek, bylinky, maso atd.</div>
<div class="b" style="left:355.8px;top:840.28px">&#8226;</div>
<div class="b" style="left:363.4px;top:840.28px;width:155.33px;transform:scaleX(0.9);">Mletí suchých ingrediencí jako zrnka pepře, sezamová semena, rýže, pšenice, kokosová dužina, ořechy (bez skořápky), kávová zrnka, sušené sójové boby, sušený hrách, sýr, strouhanka atd.</div>
<div class="h1" style="left:354.6px;top:862.3px"><span class="n">4</span>Ochrana proti přehřátí</div>
<div class="b" style="left:353.6px;top:871.88px;width:169.56px;transform:scaleX(0.9);">Tento přístroj je vybaven ochranou proti přehřátí. Pokud se přístroj přehřeje, automaticky se vypne. Přístroj odpojte ze sítě a nechte ho 30 minut vychladnout. Poté zástrčku znovu zapojte do zásuvky a přístroj opět zapněte. Pokud se ochrana proti přehřátí aktivuje příliš často, kontaktujte svého prodejce výrobků Philips nebo autorizované servisní středisko Philips.</div>
<div class="bar" style="left:518.6px;top:490px;width:153px"><span>Eesti</span></div>
<div class="h1" style="left:519.6px;top:506.2px"><span class="n">1</span>Ülevaade (joon. 1)</div>
<div class="tc" style="left:528.7px;top:522.5px;width:66.7px;transform:scaleX(0.88);">Kannmikseri kannu kaas</div>
<div class="tc" style="left:589.9px;top:520.25px;width:91.59px;transform:scaleX(0.88);">Multifunktsionaalne hakkija (ainult mudelitel<br>HR2874 ja HR2876)</div>
<div class="tc" style="left:528.7px;top:531.6px;width:66.7px;transform:scaleX(0.88);">Filter (ainult mudelil HR2874)</div>
<div class="tc" style="left:598.7px;top:531.6px;width:81.59px;transform:scaleX(0.88);">Multihakkimisnõu lõiketera kann</div>
<div class="tc" style="left:528.7px;top:541.05px;width:66.7px;transform:scaleX(0.88);">Kannmikseri kann</div>
<div class="tc" style="left:598.7px;top:538.8px;width:81.59px;transform:scaleX(0.88);">Multihakkimisnõu lõiketera rõngastihend<br>universaalse peenesti</div>
<div class="tc" style="left:528.7px;top:551.4px;width:66.7px;transform:scaleX(0.88);">Kannmikseri kannu lõiketerade<br>mooduli rõngastihend</div>
<div class="tc" style="left:598.7px;top:551.4px;width:81.59px;transform:scaleX(0.88);">Multihakkimisnõu lõiketerade moodul<br>universaalne</div>
<div class="tc" style="left:528.7px;top:564.05px;width:66.7px;transform:scaleX(0.88);">Kannmikseri kannu lõiketerade<br>moodul</div>
<div class="tc" style="left:598.7px;top:566.3px;width:81.59px;transform:scaleX(0.88);">Multihakkimisnõu lõiketera kannu kaas</div>
<div class="tc" style="left:528.7px;top:576.1px;width:66.7px;transform:scaleX(0.88);">Mootor</div>
<div class="tc" style="left:589.9px;top:576.1px;width:91.59px;transform:scaleX(0.88);">Kaasaskantav kann</div>
<div class="tc" style="left:528.7px;top:583.45px;width:66.7px;transform:scaleX(0.88);">Ohutuslukk/ekraanilukk</div>
<div class="tc" style="left:598.7px;top:583.45px;width:81.59px;transform:scaleX(0.88);">Kaasaskantava tassi kaas</div>
<div class="tc" style="left:528.7px;top:590.8px;width:66.7px;transform:scaleX(0.88);">Impulssrežiimi nupp</div>
<div class="tc" style="left:598.7px;top:590.8px;width:81.59px;transform:scaleX(0.88);">Tihend käepärase kannu kaasaskantav</div>
<div class="tc" style="left:528.7px;top:598.1px;width:66.7px;transform:scaleX(0.88);">Juhtmehoidiku soon</div>
<div class="tc" style="left:598.7px;top:598.1px;width:81.59px;transform:scaleX(0.88);">Kaasaskantav tass</div>
<div class="h1" style="left:519.6px;top:615px"><span class="n">2</span>Enne esimest kasutamiskorda</div>
<div class="b" style="left:518.6px;top:624.58px;width:170px;transform:scaleX(0.9);">Enne seadme esmakordset kasutamist puhastage põhjalikult kõik toiduainetega kokkupuutuvad osad (vt joonist 6).</div>
<div class="h1" style="left:519.6px;top:642px"><span class="n">3</span>Kasutamine</div>
<div class="b" style="left:518.6px;top:654.28px;width:170px;transform:scaleX(0.9);">Märkus:</div>
<div class="b" style="left:520.8px;top:659.49px">&#8226;</div>
<div class="b" style="left:528.4px;top:659.49px;width:155.78px;transform:scaleX(0.9);">Ärge ületage joonisel 2 toodud maksimaalseid koguseid ega töötlemise kestust.</div>
<div class="b" style="left:520.8px;top:664.58px">&#8226;</div>
<div class="b" style="left:528.4px;top:664.58px;width:144.67px;transform:scaleX(0.9);">Ärge kasutage seadet suure koormusega järjest kauem kui 60 sekundit. Laske seadmel järgmiseks kasutuskorraks toatemperatuurini maha jahtuda.</div>
<div class="b" style="left:520.8px;top:674.78px">&#8226;</div>
<div class="b" style="left:528.4px;top:674.78px;width:155.78px;transform:scaleX(0.9);">Ärge täitke multihakkimisnõud ja kaasaskantavat tassi kuumade koostisainetega.</div>
<div class="rl" style="left:518.6px;top:686.2px;width:153px"></div>
<div class="h2" style="left:518.6px;top:687.5px;width:170px;transform:scaleX(0.9);">Kannmikseri kasutamine (joon. 3)</div>
<div class="b" style="left:518.6px;top:695.68px;width:170px;transform:scaleX(0.9);">Märkus: Mahaloksumise vältimiseks ärge täitke kannmikseri kannu üle maksimaalse taseme (0,6 liitrit).<br>Kannmikser on ette nähtud:</div>
<div class="b" style="left:520.8px;top:710.88px">&#8226;</div>
<div class="b" style="left:528.4px;top:710.88px;width:155.78px;transform:scaleX(0.9);">vedelike, nt piimatoodete, kastmete, puuviljamahlade, suppide, jookide segude kokteilide segamiseks;</div>
<div class="b" style="left:520.8px;top:720.99px">&#8226;</div>
<div class="b" style="left:528.4px;top:720.99px;width:155.78px;transform:scaleX(0.9);">pehmete koostisainete segamiseks, nt pannkoogitaigna või majoneesi valmistamiseks.</div>
<div class="b" style="left:520.8px;top:725.99px">&#8226;</div>
<div class="b" style="left:528.4px;top:725.99px;width:140.22px;transform:scaleX(0.9);">keedetud koostisainete püreestamiseks, nt imikutoidu valmistamiseks.</div>
<div class="rl" style="left:518.6px;top:733px;width:153px"></div>
<div class="h3" style="left:518.6px;top:735.1px;width:170px;transform:scaleX(0.9);">Filtri kasutamine (ainult mudelitel HR2874 ja HR2876)</div>
<div class="b" style="left:518.6px;top:744.49px;width:163.33px;transform:scaleX(0.9);">Märkus: Filtri saate Philipsi müügiesindajalt lisatarvikuna tellida.<br>Selle filtriga on võimalik valmistada maitsvaid värskeid puuviljamahlu, kokteile ja sojapiima. Filter ei lase seemnetel ja koortel jooki sattuda.</div>
<div class="rl" style="left:518.6px;top:766.3px;width:153px"></div>
<div class="h2" style="left:518.6px;top:767.6px;width:170px;transform:scaleX(0.9);">Kaasaskantava tassi kasutamine (joon. 4)</div>
<div class="b" style="left:518.6px;top:775.88px;width:170px;transform:scaleX(0.9);">Märkus: Mahaloksumise vältimiseks ärge täitke kaasaskantavat tassi üle maksimaalse taseme (0,6 liitrit).<br>Veenduge, et olete kaasaskantava kaane kokku pannud (ainult kaasaskantava tassiga). Eemaldage lõiketerade moodul ja kinnitage kaasaskantav kaas. Seejärel saate kaasaskantava tassi kaasa võtta ja otse sellest juua.</div>
<div class="rl" style="left:518.6px;top:807.2px;width:153px"></div>
<div class="h2" style="left:518.6px;top:808.5px;width:170px;transform:scaleX(0.9);">Multihakkimisnõu kasutamine (ainult mudelitel HR 2874 ja HR2876) (joon. 5)</div>
<div class="b" style="left:518.6px;top:824.88px;width:170px;transform:scaleX(0.9);">Märkus:</div>
<div class="b" style="left:520.8px;top:830.28px">&#8226;</div>
<div class="b" style="left:528.4px;top:830.28px;width:144.67px;transform:scaleX(0.9);">Ärge täitke nõud üle maksimaalse koguse. Õiged kogused leiate tabelist.</div>
<div class="b" style="left:520.8px;top:835.28px">&#8226;</div>
<div class="b" style="left:528.4px;top:835.28px;width:140.22px;transform:scaleX(0.9);">Multihakkimisnõu saab tellida Philipsi müügiesindajalt lisatarvikuna.</div>
<div class="b" style="left:518.6px;top:839.88px;width:170px;transform:scaleX(0.9);">Multihakkimisnõu on ette nähtud:</div>
<div class="b" style="left:520.8px;top:845.08px">&#8226;</div>
<div class="b" style="left:528.4px;top:845.08px;width:155.78px;transform:scaleX(0.9);">selliste koostisainete nagu sibul, küüslauk, maitsetaimed, liha jne hakkimiseks;</div>
<div class="b" style="left:520.8px;top:850.08px">&#8226;</div>
<div class="b" style="left:528.4px;top:850.08px;width:129.11px;transform:scaleX(0.9);">selliste kuivainete nagu piprad, seesamiseemned, riis, nisu, kookospähkli viljaliha, pähklid (kooreta), kohvioad, kuivatatud sojaoad, kuivatatud herned, juust, riivsai jne jahvatamiseks.</div>
<div class="h1" style="left:519.6px;top:872.2px"><span class="n">4</span>Ülekuumenemiskaitse</div>
<div class="b" style="left:518.6px;top:882.78px;width:170px;transform:scaleX(0.9);">See seade on varustatud ülekuumenemiskaitsega. Ülekuumenemisel lülitub seade automaatselt välja. Lülitage seade vooluvõrgust välja ja laske sellel 30 minutit jahtuda. Seejärel ühendage pistik uuesti elektrivõrku ja lülitage seade sisse. Kui ülekuumenemiskaitse rakendub liiga sageli, võtke ühendust Philipsi müügiesindaja või hoolduskeskusega.</div>
<div class="b" style="left:23px;top:20.6px;transform:scaleX(.86)">Register your product and get support at</div>
<div class="www" style="left:23px;top:26px">www.philips.com/welcome</div>
<div class="b" style="left:162.8px;top:35.6px;transform:scaleX(.86)">HR2870</div>
<div class="b" style="left:162.8px;top:40.6px;transform:scaleX(.86)">HR2874</div>
<div class="b" style="left:162.8px;top:45.6px;transform:scaleX(.86)">HR2876</div>
<div class="b ll" style="left:22.6px;top:157.89px;transform:scaleX(.9)">EN</div>
<div class="b ll" style="left:32px;top:157.89px;transform:scaleX(.9)">User manual</div>
<div class="b ll" style="left:104.6px;top:158.49px;transform:scaleX(.9)">LV</div>
<div class="b ll" style="left:114px;top:158.49px;transform:scaleX(.9)">Lietotāja rokasgrāmata</div>
<div class="b ll" style="left:22.6px;top:165.07px;transform:scaleX(.9)">BG</div>
<div class="b ll" style="left:32px;top:165.07px;transform:scaleX(.9)">Ръководство за потребителя</div>
<div class="b ll" style="left:104.6px;top:165.67px;transform:scaleX(.9)">PL</div>
<div class="b ll" style="left:114px;top:165.67px;transform:scaleX(.9)">Instrukcja obsługi</div>
<div class="b ll" style="left:22.6px;top:172.25px;transform:scaleX(.9)">CS</div>
<div class="b ll" style="left:32px;top:172.25px;transform:scaleX(.9)">Příručka pro uživatele</div>
<div class="b ll" style="left:104.6px;top:172.84px;transform:scaleX(.9)">RO</div>
<div class="b ll" style="left:114px;top:172.84px;transform:scaleX(.9)">Manual de utilizare</div>
<div class="b ll" style="left:22.6px;top:179.43px;transform:scaleX(.9)">ET</div>
<div class="b ll" style="left:32px;top:179.43px;transform:scaleX(.9)">Kasutusjuhend</div>
<div class="b ll" style="left:104.6px;top:180.03px;transform:scaleX(.9)">RU</div>
<div class="b ll" style="left:114px;top:180.03px;transform:scaleX(.9)">Руководство пользователя</div>
<div class="b ll" style="left:22.6px;top:186.61px;transform:scaleX(.9)">HR</div>
<div class="b ll" style="left:32px;top:186.61px;transform:scaleX(.9)">Korisnički priručnik</div>
<div class="b ll" style="left:104.6px;top:187.21px;transform:scaleX(.9)">SK</div>
<div class="b ll" style="left:114px;top:187.21px;transform:scaleX(.9)">Príručka užívateľa</div>
<div class="b ll" style="left:22.6px;top:193.79px;transform:scaleX(.9)">HU</div>
<div class="b ll" style="left:32px;top:193.79px;transform:scaleX(.9)">Felhasználói kézikönyv</div>
<div class="b ll" style="left:104.6px;top:194.39px;transform:scaleX(.9)">SL</div>
<div class="b ll" style="left:114px;top:194.39px;transform:scaleX(.9)">Uporabniški priročnik</div>
<div class="b ll" style="left:22.6px;top:200.97px;transform:scaleX(.9)">KK</div>
<div class="b ll" style="left:32px;top:200.97px;transform:scaleX(.9)">Қолданушының нұсқасы</div>
<div class="b ll" style="left:104.6px;top:201.57px;transform:scaleX(.9)">SR</div>
<div class="b ll" style="left:114px;top:201.57px;transform:scaleX(.9)">Korisnički priručnik</div>
<div class="b ll" style="left:22.6px;top:208.15px;transform:scaleX(.9)">LT</div>
<div class="b ll" style="left:32px;top:208.15px;transform:scaleX(.9)">Vartotojo vadovas</div>
<div class="b ll" style="left:104.6px;top:208.75px;transform:scaleX(.9)">UK</div>
<div class="b ll" style="left:114px;top:208.75px;transform:scaleX(.9)">Посібник користувача</div>
<div class="ph" style="left:122.4px;top:231.2px">PHILIPS</div>
<div class="b" style="left:22.8px;top:455.3px;transform:scaleX(.86);line-height:4.7px">Specifications are subject to change without notice<br>© 2016 Koninklijke Philips N.V.<br>All rights reserved.</div>
<div class="b" style="left:22.8px;top:474.8px;transform:scaleX(.86)">HR2870_2874_2876_EEU_UM_V2.0</div>
<div class="b" style="left:25.3px;top:939.4px;transform:scaleX(.98)">4240 002 00054</div>
<div class="pg" style="left:56px;top:937.4px;width:12.9px">1/5</div>
<div class="cm" style="left:471px;top:186.8px;width:30px">2x2x2 cm</div>
<div class="cm" style="left:636.2px;top:186.6px;width:30px">2x2x2 cm</div>
</div></body></html>
